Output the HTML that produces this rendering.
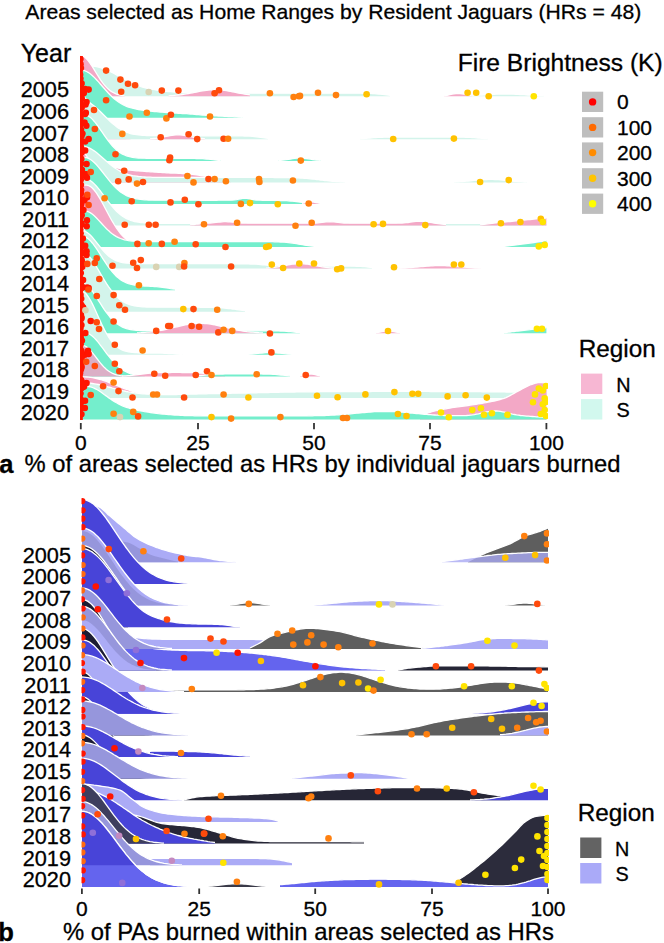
<!DOCTYPE html>
<html><head><meta charset="utf-8"><style>
html,body{margin:0;padding:0;background:#fff;}
svg{display:block;}
text{font-family:"Liberation Sans",sans-serif;fill:#000;}
</style></head><body>
<svg width="664" height="943" viewBox="0 0 664 943">
<rect width="664" height="943" fill="#fff"/>
<path d="M80.5,96.2 L80.5,66.4 L82.5,66.1 L84.5,65.9 L86.5,65.7 L88.5,65.7 L90.5,65.8 L92.5,66.0 L94.5,66.3 L96.5,66.6 L98.5,67.1 L100.5,67.7 L102.5,68.4 L104.5,69.1 L106.5,69.9 L108.5,70.8 L110.5,71.7 L112.5,72.7 L114.5,73.7 L116.5,74.8 L118.5,75.8 L120.5,76.9 L122.5,78.0 L124.5,79.1 L126.5,80.1 L128.5,81.2 L130.5,82.2 L132.5,83.1 L134.5,84.1 L136.5,84.9 L138.5,85.7 L140.5,86.5 L142.5,87.1 L144.5,87.7 L146.5,88.2 L148.5,88.7 L150.5,89.0 L152.5,89.4 L154.5,89.7 L156.5,90.0 L158.5,90.3 L160.5,90.5 L162.5,90.8 L164.5,91.0 L166.5,91.3 L168.5,91.5 L170.5,91.7 L172.5,91.9 L174.5,92.1 L176.5,92.2 L178.5,92.4 L180.5,92.5 L182.5,92.6 L184.5,92.7 L186.5,92.8 L188.5,92.8 L190.5,92.9 L192.5,92.9 L194.5,93.0 L196.5,93.0 L198.5,93.0 L200.5,93.1 L202.5,93.1 L204.5,93.1 L206.5,93.1 L208.5,93.1 L210.5,93.2 L212.5,93.2 L214.5,93.2 L216.5,93.2 L218.5,93.2 L220.5,93.2 L222.5,93.2 L224.5,93.2 L226.5,93.2 L228.5,93.2 L230.5,93.2 L232.5,93.2 L234.5,93.2 L236.5,93.2 L238.5,93.2 L240.5,93.2 L242.5,93.2 L244.5,93.2 L246.5,93.2 L248.5,93.2 L250.5,93.2 L252.5,93.2 L254.5,93.2 L256.5,93.2 L258.5,93.2 L260.5,93.2 L262.5,93.2 L264.5,93.2 L266.5,93.2 L268.5,93.2 L270.5,93.2 L272.5,93.2 L274.5,93.2 L276.5,93.2 L278.5,93.2 L280.5,93.2 L282.5,93.2 L284.5,93.2 L286.5,93.2 L288.5,93.2 L290.5,93.2 L292.5,93.2 L294.5,93.2 L296.5,93.2 L298.5,93.2 L300.5,93.2 L302.5,93.2 L304.5,93.2 L306.5,93.2 L308.5,93.2 L310.5,93.2 L312.5,93.2 L314.5,93.2 L316.5,93.2 L318.5,93.2 L320.5,93.2 L322.5,93.2 L324.5,93.2 L326.5,93.2 L328.5,93.2 L330.5,93.2 L332.5,93.2 L334.5,93.2 L336.5,93.2 L338.5,93.2 L340.5,93.2 L342.5,93.2 L344.5,93.2 L346.5,93.2 L348.5,93.2 L350.5,93.2 L352.5,93.2 L354.5,93.2 L356.5,93.2 L358.5,93.2 L360.5,93.2 L362.5,93.3 L364.5,93.3 L366.5,93.3 L368.5,93.4 L370.5,93.4 L372.5,93.5 L374.5,93.6 L376.5,93.8 L378.5,94.0 L380.5,94.2 L382.5,94.4 L384.5,94.6 L386.5,94.9 L388.5,95.1 L390.0,95.3 L390.0,96.2 Z" fill="#D3F4EB" fill-opacity="1.000"/>
<path d="M80.5,66.4 L82.5,66.1 L84.5,65.9 L86.5,65.7 L88.5,65.7 L90.5,65.8 L92.5,66.0 L94.5,66.3 L96.5,66.6 L98.5,67.1 L100.5,67.7 L102.5,68.4 L104.5,69.1 L106.5,69.9 L108.5,70.8 L110.5,71.7 L112.5,72.7 L114.5,73.7 L116.5,74.8 L118.5,75.8 L120.5,76.9 L122.5,78.0 L124.5,79.1 L126.5,80.1 L128.5,81.2 L130.5,82.2 L132.5,83.1 L134.5,84.1 L136.5,84.9 L138.5,85.7 L140.5,86.5 L142.5,87.1 L144.5,87.7 L146.5,88.2 L148.5,88.7 L150.5,89.0 L152.5,89.4 L154.5,89.7 L156.5,90.0 L158.5,90.3 L160.5,90.5 L162.5,90.8 L164.5,91.0 L166.5,91.3 L168.5,91.5 L170.5,91.7 L172.5,91.9 L174.5,92.1 L176.5,92.2 L178.5,92.4 L180.5,92.5 L182.5,92.6 L184.5,92.7 L186.5,92.8 L188.5,92.8 L190.5,92.9 L192.5,92.9 L194.5,93.0 L196.5,93.0 L198.5,93.0 L200.5,93.1 L202.5,93.1 L204.5,93.1 L206.5,93.1 L208.5,93.1 L210.5,93.2 L212.5,93.2 L214.5,93.2 L216.5,93.2 L218.5,93.2 L220.5,93.2 L222.5,93.2 L224.5,93.2 L226.5,93.2 L228.5,93.2 L230.5,93.2 L232.5,93.2 L234.5,93.2 L236.5,93.2 L238.5,93.2 L240.5,93.2 L242.5,93.2 L244.5,93.2 L246.5,93.2 L248.5,93.2 L250.5,93.2 L252.5,93.2 L254.5,93.2 L256.5,93.2 L258.5,93.2 L260.5,93.2 L262.5,93.2 L264.5,93.2 L266.5,93.2 L268.5,93.2 L270.5,93.2 L272.5,93.2 L274.5,93.2 L276.5,93.2 L278.5,93.2 L280.5,93.2 L282.5,93.2 L284.5,93.2 L286.5,93.2 L288.5,93.2 L290.5,93.2 L292.5,93.2 L294.5,93.2 L296.5,93.2 L298.5,93.2 L300.5,93.2 L302.5,93.2 L304.5,93.2 L306.5,93.2 L308.5,93.2 L310.5,93.2 L312.5,93.2 L314.5,93.2 L316.5,93.2 L318.5,93.2 L320.5,93.2 L322.5,93.2 L324.5,93.2 L326.5,93.2 L328.5,93.2 L330.5,93.2 L332.5,93.2 L334.5,93.2 L336.5,93.2 L338.5,93.2 L340.5,93.2 L342.5,93.2 L344.5,93.2 L346.5,93.2 L348.5,93.2 L350.5,93.2 L352.5,93.2 L354.5,93.2 L356.5,93.2 L358.5,93.2 L360.5,93.2 L362.5,93.3 L364.5,93.3 L366.5,93.3 L368.5,93.4 L370.5,93.4 L372.5,93.5 L374.5,93.6 L376.5,93.8 L378.5,94.0 L380.5,94.2 L382.5,94.4 L384.5,94.6 L386.5,94.9 L388.5,95.1 L390.0,95.3" fill="none" stroke="#fff" stroke-width="1.30"/>
<path d="M80.5,96.2 L80.5,55.6 L82.5,56.0 L84.5,57.0 L86.5,58.8 L88.5,61.1 L90.5,63.8 L92.5,66.9 L94.5,70.2 L96.5,73.5 L98.5,76.7 L100.5,79.8 L102.5,82.7 L104.5,85.2 L106.5,87.4 L108.5,89.3 L110.5,90.9 L112.5,92.2 L114.5,93.2 L116.5,94.1 L118.5,94.7 L120.5,95.1 L122.5,95.5 L124.5,95.7 L124.5,96.2 Z" fill="#F3A8C6" fill-opacity="1.000"/>
<path d="M168.5,96.2 L168.5,95.8 L170.5,95.7 L172.5,95.6 L174.5,95.4 L176.5,95.2 L178.5,95.0 L180.5,94.8 L182.5,94.5 L184.5,94.2 L186.5,93.9 L188.5,93.5 L190.5,93.2 L192.5,92.8 L194.5,92.4 L196.5,92.0 L198.5,91.6 L200.5,91.2 L202.5,90.9 L204.5,90.6 L206.5,90.3 L208.5,90.0 L210.5,89.9 L212.5,89.8 L214.5,89.7 L216.5,89.7 L218.5,89.8 L220.5,89.9 L222.5,90.2 L224.5,90.4 L226.5,90.7 L228.5,91.0 L230.5,91.4 L232.5,91.8 L234.5,92.2 L236.5,92.6 L238.5,93.0 L240.5,93.4 L242.5,93.7 L244.5,94.1 L246.5,94.4 L248.5,94.6 L250.0,94.8 L250.0,96.2 Z" fill="#F3A8C6" fill-opacity="1.000"/>
<path d="M80.5,55.6 L82.5,56.0 L84.5,57.0 L86.5,58.8 L88.5,61.1 L90.5,63.8 L92.5,66.9 L94.5,70.2 L96.5,73.5 L98.5,76.7 L100.5,79.8 L102.5,82.7 L104.5,85.2 L106.5,87.4 L108.5,89.3 L110.5,90.9 L112.5,92.2 L114.5,93.2 L116.5,94.1 L118.5,94.7 L120.5,95.1 L122.5,95.5 L124.5,95.7" fill="none" stroke="#fff" stroke-width="1.30"/>
<path d="M168.5,95.8 L170.5,95.7 L172.5,95.6 L174.5,95.4 L176.5,95.2 L178.5,95.0 L180.5,94.8 L182.5,94.5 L184.5,94.2 L186.5,93.9 L188.5,93.5 L190.5,93.2 L192.5,92.8 L194.5,92.4 L196.5,92.0 L198.5,91.6 L200.5,91.2 L202.5,90.9 L204.5,90.6 L206.5,90.3 L208.5,90.0 L210.5,89.9 L212.5,89.8 L214.5,89.7 L216.5,89.7 L218.5,89.8 L220.5,89.9 L222.5,90.2 L224.5,90.4 L226.5,90.7 L228.5,91.0 L230.5,91.4 L232.5,91.8 L234.5,92.2 L236.5,92.6 L238.5,93.0 L240.5,93.4 L242.5,93.7 L244.5,94.1 L246.5,94.4 L248.5,94.6 L250.0,94.8" fill="none" stroke="#fff" stroke-width="1.30"/>
<path d="M466.0,96.2 L466.0,95.8 L468.0,95.7 L470.0,95.6 L472.0,95.5 L474.0,95.4 L476.0,95.3 L478.0,95.2 L480.0,95.1 L482.0,95.0 L484.0,94.9 L486.0,94.7 L488.0,94.6 L490.0,94.5 L492.0,94.4 L494.0,94.3 L496.0,94.2 L498.0,94.1 L500.0,94.1 L502.0,94.0 L504.0,94.0 L506.0,94.0 L508.0,94.0 L510.0,94.1 L512.0,94.1 L514.0,94.2 L516.0,94.3 L518.0,94.4 L520.0,94.5 L522.0,94.6 L524.0,94.7 L526.0,94.9 L528.0,95.0 L530.0,95.1 L532.0,95.2 L534.0,95.3 L536.0,95.4 L538.0,95.5 L540.0,95.6 L542.0,95.7 L544.0,95.8 L544.0,96.2 Z" fill="#D3F4EB" fill-opacity="1.000"/>
<path d="M466.0,95.8 L468.0,95.7 L470.0,95.6 L472.0,95.5 L474.0,95.4 L476.0,95.3 L478.0,95.2 L480.0,95.1 L482.0,95.0 L484.0,94.9 L486.0,94.7 L488.0,94.6 L490.0,94.5 L492.0,94.4 L494.0,94.3 L496.0,94.2 L498.0,94.1 L500.0,94.1 L502.0,94.0 L504.0,94.0 L506.0,94.0 L508.0,94.0 L510.0,94.1 L512.0,94.1 L514.0,94.2 L516.0,94.3 L518.0,94.4 L520.0,94.5 L522.0,94.6 L524.0,94.7 L526.0,94.9 L528.0,95.0 L530.0,95.1 L532.0,95.2 L534.0,95.3 L536.0,95.4 L538.0,95.5 L540.0,95.6 L542.0,95.7 L544.0,95.8" fill="none" stroke="#fff" stroke-width="1.30"/>
<path d="M444.0,96.2 L444.0,95.8 L446.0,95.5 L448.0,95.2 L450.0,94.7 L452.0,94.2 L454.0,93.8 L456.0,93.5 L458.0,93.4 L460.0,93.5 L462.0,93.8 L464.0,94.2 L466.0,94.7 L468.0,95.2 L470.0,95.5 L472.0,95.8 L472.0,96.2 Z" fill="#F3A8C6" fill-opacity="1.000"/>
<path d="M444.0,95.8 L446.0,95.5 L448.0,95.2 L450.0,94.7 L452.0,94.2 L454.0,93.8 L456.0,93.5 L458.0,93.4 L460.0,93.5 L462.0,93.8 L464.0,94.2 L466.0,94.7 L468.0,95.2 L470.0,95.5 L472.0,95.8" fill="none" stroke="#fff" stroke-width="1.30"/>
<path d="M80.5,117.8 L80.5,82.8 L82.5,83.7 L84.5,86.4 L86.5,90.5 L88.5,95.3 L90.5,100.3 L92.5,104.9 L94.5,108.8 L96.5,111.8 L98.5,114.1 L100.5,115.6 L102.5,116.5 L104.5,117.1 L104.5,117.8 Z" fill="#F3A8C6" fill-opacity="1.000"/>
<path d="M80.5,82.8 L82.5,83.7 L84.5,86.4 L86.5,90.5 L88.5,95.3 L90.5,100.3 L92.5,104.9 L94.5,108.8 L96.5,111.8 L98.5,114.1 L100.5,115.6 L102.5,116.5 L104.5,117.1" fill="none" stroke="#fff" stroke-width="1.30"/>
<path d="M80.5,117.8 L80.5,70.2 L82.5,70.3 L84.5,70.7 L86.5,71.5 L88.5,72.6 L90.5,74.1 L92.5,75.7 L94.5,77.6 L96.5,79.7 L98.5,81.9 L100.5,84.2 L102.5,86.5 L104.5,88.8 L106.5,91.0 L108.5,93.2 L110.5,95.2 L112.5,97.2 L114.5,98.9 L116.5,100.6 L118.5,102.0 L120.5,103.3 L122.5,104.5 L124.5,105.5 L126.5,106.3 L128.5,107.1 L130.5,107.7 L132.5,108.2 L134.5,108.7 L136.5,109.2 L138.5,109.5 L140.5,109.9 L142.5,110.2 L144.5,110.5 L146.5,110.7 L148.5,110.9 L150.5,111.1 L152.5,111.3 L154.5,111.5 L156.5,111.6 L158.5,111.8 L160.5,112.0 L162.5,112.2 L164.5,112.3 L166.5,112.5 L168.5,112.6 L170.5,112.8 L172.5,112.9 L174.5,113.0 L176.5,113.1 L178.5,113.3 L180.5,113.4 L182.5,113.5 L184.5,113.6 L186.5,113.7 L188.5,113.8 L190.5,114.0 L192.5,114.1 L194.5,114.3 L196.5,114.5 L198.5,114.6 L200.5,114.8 L202.5,115.0 L204.5,115.2 L206.5,115.3 L208.5,115.5 L210.5,115.6 L212.5,115.7 L214.5,115.8 L216.5,115.9 L218.5,116.0 L220.5,116.1 L222.5,116.2 L224.5,116.3 L226.5,116.4 L228.5,116.5 L230.5,116.6 L232.5,116.7 L234.5,116.8 L236.5,116.9 L238.5,117.1 L240.5,117.2 L242.5,117.4 L242.5,117.8 Z" fill="#74EECC" fill-opacity="1.000"/>
<path d="M80.5,70.2 L82.5,70.3 L84.5,70.7 L86.5,71.5 L88.5,72.6 L90.5,74.1 L92.5,75.7 L94.5,77.6 L96.5,79.7 L98.5,81.9 L100.5,84.2 L102.5,86.5 L104.5,88.8 L106.5,91.0 L108.5,93.2 L110.5,95.2 L112.5,97.2 L114.5,98.9 L116.5,100.6 L118.5,102.0 L120.5,103.3 L122.5,104.5 L124.5,105.5 L126.5,106.3 L128.5,107.1 L130.5,107.7 L132.5,108.2 L134.5,108.7 L136.5,109.2 L138.5,109.5 L140.5,109.9 L142.5,110.2 L144.5,110.5 L146.5,110.7 L148.5,110.9 L150.5,111.1 L152.5,111.3 L154.5,111.5 L156.5,111.6 L158.5,111.8 L160.5,112.0 L162.5,112.2 L164.5,112.3 L166.5,112.5 L168.5,112.6 L170.5,112.8 L172.5,112.9 L174.5,113.0 L176.5,113.1 L178.5,113.3 L180.5,113.4 L182.5,113.5 L184.5,113.6 L186.5,113.7 L188.5,113.8 L190.5,114.0 L192.5,114.1 L194.5,114.3 L196.5,114.5 L198.5,114.6 L200.5,114.8 L202.5,115.0 L204.5,115.2 L206.5,115.3 L208.5,115.5 L210.5,115.6 L212.5,115.7 L214.5,115.8 L216.5,115.9 L218.5,116.0 L220.5,116.1 L222.5,116.2 L224.5,116.3 L226.5,116.4 L228.5,116.5 L230.5,116.6 L232.5,116.7 L234.5,116.8 L236.5,116.9 L238.5,117.1 L240.5,117.2 L242.5,117.4" fill="none" stroke="#fff" stroke-width="1.30"/>
<path d="M80.5,139.3 L80.5,96.3 L82.5,96.6 L84.5,97.6 L86.5,99.1 L88.5,101.2 L90.5,103.7 L92.5,106.5 L94.5,109.6 L96.5,112.8 L98.5,116.0 L100.5,119.1 L102.5,122.1 L104.5,124.8 L106.5,127.3 L108.5,129.5 L110.5,131.5 L112.5,133.1 L114.5,134.5 L116.5,135.6 L118.5,136.5 L120.5,137.2 L122.5,137.8 L124.5,138.2 L126.5,138.5 L128.5,138.7 L130.5,138.9 L130.5,139.3 Z" fill="#F3A8C6" fill-opacity="1.000"/>
<path d="M80.5,96.3 L82.5,96.6 L84.5,97.6 L86.5,99.1 L88.5,101.2 L90.5,103.7 L92.5,106.5 L94.5,109.6 L96.5,112.8 L98.5,116.0 L100.5,119.1 L102.5,122.1 L104.5,124.8 L106.5,127.3 L108.5,129.5 L110.5,131.5 L112.5,133.1 L114.5,134.5 L116.5,135.6 L118.5,136.5 L120.5,137.2 L122.5,137.8 L124.5,138.2 L126.5,138.5 L128.5,138.7 L130.5,138.9" fill="none" stroke="#fff" stroke-width="1.30"/>
<path d="M80.5,139.3 L80.5,100.8 L82.5,100.6 L84.5,100.8 L86.5,101.4 L88.5,102.2 L90.5,103.4 L92.5,104.8 L94.5,106.3 L96.5,108.1 L98.5,109.9 L100.5,111.8 L102.5,113.8 L104.5,115.8 L106.5,117.8 L108.5,119.8 L110.5,121.7 L112.5,123.5 L114.5,125.1 L116.5,126.7 L118.5,128.1 L120.5,129.3 L122.5,130.4 L124.5,131.4 L126.5,132.2 L128.5,132.9 L130.5,133.5 L132.5,134.0 L134.5,134.4 L136.5,134.7 L138.5,134.9 L140.5,135.1 L142.5,135.3 L144.5,135.4 L146.5,135.5 L148.5,135.6 L150.5,135.7 L152.5,135.7 L154.5,135.7 L156.5,135.7 L158.5,135.8 L160.5,135.8 L162.5,135.8 L164.5,135.8 L166.5,135.8 L168.5,135.8 L170.5,135.8 L172.5,135.8 L174.5,135.8 L176.5,135.8 L178.5,135.8 L180.5,135.8 L182.5,135.8 L184.5,135.8 L186.5,135.8 L188.5,135.8 L190.5,135.8 L192.5,135.8 L194.5,135.8 L196.5,135.8 L198.5,135.8 L200.5,135.8 L202.5,135.8 L204.5,135.8 L206.5,135.8 L208.5,135.8 L210.5,135.8 L212.5,135.8 L214.5,135.8 L216.5,135.8 L218.5,135.8 L220.5,135.8 L222.5,135.8 L224.5,135.8 L226.5,135.8 L228.5,135.8 L230.5,135.8 L232.5,135.8 L234.5,135.8 L236.5,135.8 L238.5,135.9 L240.5,135.9 L242.5,135.9 L244.5,136.0 L246.5,136.0 L248.5,136.1 L250.5,136.2 L252.5,136.4 L254.5,136.6 L256.5,136.8 L258.5,137.1 L260.5,137.3 L262.5,137.6 L264.5,137.9 L266.5,138.2 L268.0,138.4 L268.0,139.3 Z" fill="#D3F4EB" fill-opacity="1.000"/>
<path d="M80.5,100.8 L82.5,100.6 L84.5,100.8 L86.5,101.4 L88.5,102.2 L90.5,103.4 L92.5,104.8 L94.5,106.3 L96.5,108.1 L98.5,109.9 L100.5,111.8 L102.5,113.8 L104.5,115.8 L106.5,117.8 L108.5,119.8 L110.5,121.7 L112.5,123.5 L114.5,125.1 L116.5,126.7 L118.5,128.1 L120.5,129.3 L122.5,130.4 L124.5,131.4 L126.5,132.2 L128.5,132.9 L130.5,133.5 L132.5,134.0 L134.5,134.4 L136.5,134.7 L138.5,134.9 L140.5,135.1 L142.5,135.3 L144.5,135.4 L146.5,135.5 L148.5,135.6 L150.5,135.7 L152.5,135.7 L154.5,135.7 L156.5,135.7 L158.5,135.8 L160.5,135.8 L162.5,135.8 L164.5,135.8 L166.5,135.8 L168.5,135.8 L170.5,135.8 L172.5,135.8 L174.5,135.8 L176.5,135.8 L178.5,135.8 L180.5,135.8 L182.5,135.8 L184.5,135.8 L186.5,135.8 L188.5,135.8 L190.5,135.8 L192.5,135.8 L194.5,135.8 L196.5,135.8 L198.5,135.8 L200.5,135.8 L202.5,135.8 L204.5,135.8 L206.5,135.8 L208.5,135.8 L210.5,135.8 L212.5,135.8 L214.5,135.8 L216.5,135.8 L218.5,135.8 L220.5,135.8 L222.5,135.8 L224.5,135.8 L226.5,135.8 L228.5,135.8 L230.5,135.8 L232.5,135.8 L234.5,135.8 L236.5,135.8 L238.5,135.9 L240.5,135.9 L242.5,135.9 L244.5,136.0 L246.5,136.0 L248.5,136.1 L250.5,136.2 L252.5,136.4 L254.5,136.6 L256.5,136.8 L258.5,137.1 L260.5,137.3 L262.5,137.6 L264.5,137.9 L266.5,138.2 L268.0,138.4" fill="none" stroke="#fff" stroke-width="1.30"/>
<path d="M150.0,139.3 L150.0,138.9 L152.0,138.7 L154.0,138.5 L156.0,138.3 L158.0,138.0 L160.0,137.6 L162.0,137.3 L164.0,136.8 L166.0,136.4 L168.0,136.0 L170.0,135.6 L172.0,135.3 L174.0,135.0 L176.0,134.9 L178.0,134.8 L180.0,134.9 L182.0,135.0 L184.0,135.3 L186.0,135.6 L188.0,136.0 L190.0,136.4 L192.0,136.8 L194.0,137.3 L196.0,137.6 L198.0,138.0 L200.0,138.3 L202.0,138.5 L204.0,138.7 L205.0,138.8 L205.0,139.3 Z" fill="#F3A8C6" fill-opacity="1.000"/>
<path d="M150.0,138.9 L152.0,138.7 L154.0,138.5 L156.0,138.3 L158.0,138.0 L160.0,137.6 L162.0,137.3 L164.0,136.8 L166.0,136.4 L168.0,136.0 L170.0,135.6 L172.0,135.3 L174.0,135.0 L176.0,134.9 L178.0,134.8 L180.0,134.9 L182.0,135.0 L184.0,135.3 L186.0,135.6 L188.0,136.0 L190.0,136.4 L192.0,136.8 L194.0,137.3 L196.0,137.6 L198.0,138.0 L200.0,138.3 L202.0,138.5 L204.0,138.7 L205.0,138.8" fill="none" stroke="#fff" stroke-width="1.30"/>
<path d="M360.0,139.3 L360.0,138.8 L362.0,138.7 L364.0,138.6 L366.0,138.4 L368.0,138.2 L370.0,138.0 L372.0,137.8 L374.0,137.7 L376.0,137.6 L378.0,137.4 L380.0,137.4 L382.0,137.3 L384.0,137.2 L386.0,137.2 L388.0,137.2 L390.0,137.2 L392.0,137.1 L394.0,137.1 L396.0,137.1 L398.0,137.1 L400.0,137.1 L402.0,137.1 L404.0,137.1 L406.0,137.1 L408.0,137.1 L410.0,137.1 L412.0,137.1 L414.0,137.1 L416.0,137.1 L418.0,137.1 L420.0,137.1 L422.0,137.1 L424.0,137.1 L426.0,137.1 L428.0,137.1 L430.0,137.1 L432.0,137.1 L434.0,137.1 L436.0,137.1 L438.0,137.1 L440.0,137.1 L442.0,137.1 L444.0,137.1 L446.0,137.1 L448.0,137.1 L450.0,137.1 L452.0,137.1 L454.0,137.1 L456.0,137.1 L458.0,137.2 L460.0,137.2 L462.0,137.2 L464.0,137.2 L466.0,137.3 L468.0,137.4 L470.0,137.4 L472.0,137.6 L474.0,137.7 L476.0,137.8 L478.0,138.0 L480.0,138.2 L482.0,138.4 L484.0,138.6 L486.0,138.7 L488.0,138.8 L488.0,139.3 Z" fill="#D3F4EB" fill-opacity="1.000"/>
<path d="M360.0,138.8 L362.0,138.7 L364.0,138.6 L366.0,138.4 L368.0,138.2 L370.0,138.0 L372.0,137.8 L374.0,137.7 L376.0,137.6 L378.0,137.4 L380.0,137.4 L382.0,137.3 L384.0,137.2 L386.0,137.2 L388.0,137.2 L390.0,137.2 L392.0,137.1 L394.0,137.1 L396.0,137.1 L398.0,137.1 L400.0,137.1 L402.0,137.1 L404.0,137.1 L406.0,137.1 L408.0,137.1 L410.0,137.1 L412.0,137.1 L414.0,137.1 L416.0,137.1 L418.0,137.1 L420.0,137.1 L422.0,137.1 L424.0,137.1 L426.0,137.1 L428.0,137.1 L430.0,137.1 L432.0,137.1 L434.0,137.1 L436.0,137.1 L438.0,137.1 L440.0,137.1 L442.0,137.1 L444.0,137.1 L446.0,137.1 L448.0,137.1 L450.0,137.1 L452.0,137.1 L454.0,137.1 L456.0,137.1 L458.0,137.2 L460.0,137.2 L462.0,137.2 L464.0,137.2 L466.0,137.3 L468.0,137.4 L470.0,137.4 L472.0,137.6 L474.0,137.7 L476.0,137.8 L478.0,138.0 L480.0,138.2 L482.0,138.4 L484.0,138.6 L486.0,138.7 L488.0,138.8" fill="none" stroke="#fff" stroke-width="1.30"/>
<path d="M80.5,160.9 L80.5,115.7 L82.5,114.9 L84.5,114.8 L86.5,115.2 L88.5,116.1 L90.5,117.5 L92.5,119.4 L94.5,121.7 L96.5,124.2 L98.5,126.9 L100.5,129.8 L102.5,132.7 L104.5,135.6 L106.5,138.4 L108.5,141.1 L110.5,143.7 L112.5,146.0 L114.5,148.1 L116.5,150.0 L118.5,151.6 L120.5,152.9 L122.5,154.1 L124.5,155.0 L126.5,155.8 L128.5,156.4 L130.5,156.9 L132.5,157.3 L134.5,157.6 L136.5,157.8 L138.5,158.0 L140.5,158.1 L142.5,158.2 L144.5,158.2 L146.5,158.3 L148.5,158.3 L150.5,158.3 L152.5,158.3 L154.5,158.3 L156.5,158.3 L158.5,158.3 L160.5,158.3 L162.5,158.3 L164.5,158.3 L166.5,158.3 L168.5,158.3 L170.5,158.4 L172.5,158.4 L174.5,158.4 L176.5,158.4 L178.5,158.4 L180.5,158.4 L182.5,158.4 L184.5,158.4 L186.5,158.4 L188.5,158.4 L190.5,158.4 L192.5,158.4 L194.5,158.4 L196.5,158.5 L198.5,158.5 L200.5,158.6 L202.5,158.7 L204.5,158.8 L206.5,159.0 L208.5,159.2 L210.5,159.4 L212.5,159.7 L214.5,159.9 L216.5,160.1 L218.5,160.3 L220.5,160.5 L220.5,160.9 Z" fill="#74EECC" fill-opacity="1.000"/>
<path d="M278.5,160.9 L278.5,160.5 L280.5,160.3 L282.5,160.1 L284.5,159.9 L286.5,159.6 L288.5,159.3 L290.5,159.0 L292.5,158.7 L294.5,158.4 L296.5,158.2 L298.5,158.1 L300.5,158.1 L302.5,158.1 L304.5,158.3 L306.5,158.5 L308.5,158.8 L310.5,159.1 L312.5,159.5 L314.5,159.8 L316.5,160.0 L318.5,160.2 L320.5,160.4 L320.5,160.9 Z" fill="#74EECC" fill-opacity="1.000"/>
<path d="M80.5,115.7 L82.5,114.9 L84.5,114.8 L86.5,115.2 L88.5,116.1 L90.5,117.5 L92.5,119.4 L94.5,121.7 L96.5,124.2 L98.5,126.9 L100.5,129.8 L102.5,132.7 L104.5,135.6 L106.5,138.4 L108.5,141.1 L110.5,143.7 L112.5,146.0 L114.5,148.1 L116.5,150.0 L118.5,151.6 L120.5,152.9 L122.5,154.1 L124.5,155.0 L126.5,155.8 L128.5,156.4 L130.5,156.9 L132.5,157.3 L134.5,157.6 L136.5,157.8 L138.5,158.0 L140.5,158.1 L142.5,158.2 L144.5,158.2 L146.5,158.3 L148.5,158.3 L150.5,158.3 L152.5,158.3 L154.5,158.3 L156.5,158.3 L158.5,158.3 L160.5,158.3 L162.5,158.3 L164.5,158.3 L166.5,158.3 L168.5,158.3 L170.5,158.4 L172.5,158.4 L174.5,158.4 L176.5,158.4 L178.5,158.4 L180.5,158.4 L182.5,158.4 L184.5,158.4 L186.5,158.4 L188.5,158.4 L190.5,158.4 L192.5,158.4 L194.5,158.4 L196.5,158.5 L198.5,158.5 L200.5,158.6 L202.5,158.7 L204.5,158.8 L206.5,159.0 L208.5,159.2 L210.5,159.4 L212.5,159.7 L214.5,159.9 L216.5,160.1 L218.5,160.3 L220.5,160.5" fill="none" stroke="#fff" stroke-width="1.30"/>
<path d="M278.5,160.5 L280.5,160.3 L282.5,160.1 L284.5,159.9 L286.5,159.6 L288.5,159.3 L290.5,159.0 L292.5,158.7 L294.5,158.4 L296.5,158.2 L298.5,158.1 L300.5,158.1 L302.5,158.1 L304.5,158.3 L306.5,158.5 L308.5,158.8 L310.5,159.1 L312.5,159.5 L314.5,159.8 L316.5,160.0 L318.5,160.2 L320.5,160.4" fill="none" stroke="#fff" stroke-width="1.30"/>
<path d="M82.5,182.4 L82.5,162.5 L84.5,162.7 L86.5,162.9 L88.5,163.2 L90.5,163.4 L92.5,163.7 L94.5,164.0 L96.5,164.3 L98.5,164.6 L100.5,164.9 L102.5,165.2 L104.5,165.5 L106.5,165.8 L108.5,166.2 L110.5,166.5 L112.5,166.9 L114.5,167.3 L116.5,167.7 L118.5,168.2 L120.5,168.6 L122.5,169.0 L124.5,169.4 L126.5,169.7 L128.5,170.0 L130.5,170.2 L132.5,170.4 L134.5,170.6 L136.5,170.8 L138.5,170.9 L140.5,171.1 L142.5,171.2 L144.5,171.4 L146.5,171.5 L148.5,171.7 L150.5,171.8 L152.5,171.9 L154.5,172.1 L156.5,172.2 L158.5,172.3 L160.5,172.4 L162.5,172.6 L164.5,172.7 L166.5,172.8 L168.5,172.9 L170.5,173.0 L172.5,173.0 L174.5,173.1 L176.5,173.2 L178.5,173.3 L180.5,173.4 L182.5,173.5 L184.5,173.7 L186.5,173.8 L188.5,174.0 L190.5,174.1 L192.5,174.4 L194.5,174.6 L196.5,174.9 L198.5,175.2 L200.5,175.5 L202.5,175.9 L204.5,176.2 L206.5,176.6 L208.5,176.9 L210.5,177.3 L212.5,177.7 L214.5,178.1 L216.5,178.5 L218.5,178.9 L220.5,179.3 L222.5,179.8 L224.5,180.3 L226.5,180.8 L228.5,181.3 L230.5,181.9 L230.5,182.4 Z" fill="#F3A8C6" fill-opacity="1.000"/>
<path d="M82.5,162.5 L84.5,162.7 L86.5,162.9 L88.5,163.2 L90.5,163.4 L92.5,163.7 L94.5,164.0 L96.5,164.3 L98.5,164.6 L100.5,164.9 L102.5,165.2 L104.5,165.5 L106.5,165.8 L108.5,166.2 L110.5,166.5 L112.5,166.9 L114.5,167.3 L116.5,167.7 L118.5,168.2 L120.5,168.6 L122.5,169.0 L124.5,169.4 L126.5,169.7 L128.5,170.0 L130.5,170.2 L132.5,170.4 L134.5,170.6 L136.5,170.8 L138.5,170.9 L140.5,171.1 L142.5,171.2 L144.5,171.4 L146.5,171.5 L148.5,171.7 L150.5,171.8 L152.5,171.9 L154.5,172.1 L156.5,172.2 L158.5,172.3 L160.5,172.4 L162.5,172.6 L164.5,172.7 L166.5,172.8 L168.5,172.9 L170.5,173.0 L172.5,173.0 L174.5,173.1 L176.5,173.2 L178.5,173.3 L180.5,173.4 L182.5,173.5 L184.5,173.7 L186.5,173.8 L188.5,174.0 L190.5,174.1 L192.5,174.4 L194.5,174.6 L196.5,174.9 L198.5,175.2 L200.5,175.5 L202.5,175.9 L204.5,176.2 L206.5,176.6 L208.5,176.9 L210.5,177.3 L212.5,177.7 L214.5,178.1 L216.5,178.5 L218.5,178.9 L220.5,179.3 L222.5,179.8 L224.5,180.3 L226.5,180.8 L228.5,181.3 L230.5,181.9" fill="none" stroke="#fff" stroke-width="1.30"/>
<path d="M80.5,182.4 L80.5,146.5 L82.5,146.4 L84.5,146.5 L86.5,146.9 L88.5,147.6 L90.5,148.6 L92.5,149.7 L94.5,151.1 L96.5,152.6 L98.5,154.2 L100.5,155.9 L102.5,157.7 L104.5,159.5 L106.5,161.3 L108.5,163.0 L110.5,164.7 L112.5,166.2 L114.5,167.7 L116.5,169.0 L118.5,170.2 L120.5,171.3 L122.5,172.3 L124.5,173.2 L126.5,173.9 L128.5,174.6 L130.5,175.1 L132.5,175.6 L134.5,175.9 L136.5,176.2 L138.5,176.5 L140.5,176.7 L142.5,176.9 L144.5,177.0 L146.5,177.1 L148.5,177.2 L150.5,177.2 L152.5,177.3 L154.5,177.3 L156.5,177.3 L158.5,177.4 L160.5,177.4 L162.5,177.4 L164.5,177.4 L166.5,177.4 L168.5,177.4 L170.5,177.4 L172.5,177.4 L174.5,177.4 L176.5,177.4 L178.5,177.4 L180.5,177.4 L182.5,177.4 L184.5,177.4 L186.5,177.4 L188.5,177.4 L190.5,177.4 L192.5,177.4 L194.5,177.4 L196.5,177.4 L198.5,177.4 L200.5,177.4 L202.5,177.4 L204.5,177.4 L206.5,177.4 L208.5,177.4 L210.5,177.4 L212.5,177.4 L214.5,177.4 L216.5,177.4 L218.5,177.4 L220.5,177.4 L222.5,177.4 L224.5,177.4 L226.5,177.4 L228.5,177.4 L230.5,177.4 L232.5,177.4 L234.5,177.4 L236.5,177.4 L238.5,177.4 L240.5,177.4 L242.5,177.4 L244.5,177.4 L246.5,177.4 L248.5,177.4 L250.5,177.4 L252.5,177.4 L254.5,177.4 L256.5,177.4 L258.5,177.4 L260.5,177.4 L262.5,177.4 L264.5,177.4 L266.5,177.4 L268.5,177.4 L270.5,177.4 L272.5,177.4 L274.5,177.5 L276.5,177.5 L278.5,177.5 L280.5,177.5 L282.5,177.5 L284.5,177.5 L286.5,177.6 L288.5,177.6 L290.5,177.6 L292.5,177.7 L294.5,177.8 L296.5,177.8 L298.5,177.9 L300.5,178.0 L302.5,178.1 L304.5,178.3 L306.5,178.4 L308.5,178.6 L310.5,178.8 L312.5,179.0 L314.5,179.2 L316.5,179.5 L318.5,179.7 L320.5,180.0 L322.5,180.2 L324.5,180.5 L326.5,180.7 L328.5,180.9 L330.5,181.1 L332.5,181.3 L334.5,181.4 L336.5,181.6 L338.5,181.7 L340.5,181.8 L342.5,181.9 L344.5,182.0 L344.5,182.4 Z" fill="#D3F4EB" fill-opacity="1.000"/>
<path d="M454.5,182.4 L454.5,182.0 L456.5,181.9 L458.5,181.8 L460.5,181.7 L462.5,181.5 L464.5,181.3 L466.5,181.2 L468.5,181.0 L470.5,180.8 L472.5,180.6 L474.5,180.4 L476.5,180.2 L478.5,180.0 L480.5,179.8 L482.5,179.7 L484.5,179.5 L486.5,179.5 L488.5,179.4 L490.5,179.4 L492.5,179.4 L494.5,179.5 L496.5,179.6 L498.5,179.7 L500.5,179.9 L502.5,180.1 L504.5,180.3 L506.5,180.5 L508.5,180.7 L510.5,180.9 L512.5,181.1 L514.5,181.3 L516.5,181.4 L518.5,181.6 L520.5,181.7 L522.5,181.8 L524.5,182.0 L526.5,182.0 L526.5,182.4 Z" fill="#D3F4EB" fill-opacity="1.000"/>
<path d="M80.5,146.5 L82.5,146.4 L84.5,146.5 L86.5,146.9 L88.5,147.6 L90.5,148.6 L92.5,149.7 L94.5,151.1 L96.5,152.6 L98.5,154.2 L100.5,155.9 L102.5,157.7 L104.5,159.5 L106.5,161.3 L108.5,163.0 L110.5,164.7 L112.5,166.2 L114.5,167.7 L116.5,169.0 L118.5,170.2 L120.5,171.3 L122.5,172.3 L124.5,173.2 L126.5,173.9 L128.5,174.6 L130.5,175.1 L132.5,175.6 L134.5,175.9 L136.5,176.2 L138.5,176.5 L140.5,176.7 L142.5,176.9 L144.5,177.0 L146.5,177.1 L148.5,177.2 L150.5,177.2 L152.5,177.3 L154.5,177.3 L156.5,177.3 L158.5,177.4 L160.5,177.4 L162.5,177.4 L164.5,177.4 L166.5,177.4 L168.5,177.4 L170.5,177.4 L172.5,177.4 L174.5,177.4 L176.5,177.4 L178.5,177.4 L180.5,177.4 L182.5,177.4 L184.5,177.4 L186.5,177.4 L188.5,177.4 L190.5,177.4 L192.5,177.4 L194.5,177.4 L196.5,177.4 L198.5,177.4 L200.5,177.4 L202.5,177.4 L204.5,177.4 L206.5,177.4 L208.5,177.4 L210.5,177.4 L212.5,177.4 L214.5,177.4 L216.5,177.4 L218.5,177.4 L220.5,177.4 L222.5,177.4 L224.5,177.4 L226.5,177.4 L228.5,177.4 L230.5,177.4 L232.5,177.4 L234.5,177.4 L236.5,177.4 L238.5,177.4 L240.5,177.4 L242.5,177.4 L244.5,177.4 L246.5,177.4 L248.5,177.4 L250.5,177.4 L252.5,177.4 L254.5,177.4 L256.5,177.4 L258.5,177.4 L260.5,177.4 L262.5,177.4 L264.5,177.4 L266.5,177.4 L268.5,177.4 L270.5,177.4 L272.5,177.4 L274.5,177.5 L276.5,177.5 L278.5,177.5 L280.5,177.5 L282.5,177.5 L284.5,177.5 L286.5,177.6 L288.5,177.6 L290.5,177.6 L292.5,177.7 L294.5,177.8 L296.5,177.8 L298.5,177.9 L300.5,178.0 L302.5,178.1 L304.5,178.3 L306.5,178.4 L308.5,178.6 L310.5,178.8 L312.5,179.0 L314.5,179.2 L316.5,179.5 L318.5,179.7 L320.5,180.0 L322.5,180.2 L324.5,180.5 L326.5,180.7 L328.5,180.9 L330.5,181.1 L332.5,181.3 L334.5,181.4 L336.5,181.6 L338.5,181.7 L340.5,181.8 L342.5,181.9 L344.5,182.0" fill="none" stroke="#fff" stroke-width="1.30"/>
<path d="M454.5,182.0 L456.5,181.9 L458.5,181.8 L460.5,181.7 L462.5,181.5 L464.5,181.3 L466.5,181.2 L468.5,181.0 L470.5,180.8 L472.5,180.6 L474.5,180.4 L476.5,180.2 L478.5,180.0 L480.5,179.8 L482.5,179.7 L484.5,179.5 L486.5,179.5 L488.5,179.4 L490.5,179.4 L492.5,179.4 L494.5,179.5 L496.5,179.6 L498.5,179.7 L500.5,179.9 L502.5,180.1 L504.5,180.3 L506.5,180.5 L508.5,180.7 L510.5,180.9 L512.5,181.1 L514.5,181.3 L516.5,181.4 L518.5,181.6 L520.5,181.7 L522.5,181.8 L524.5,182.0 L526.5,182.0" fill="none" stroke="#fff" stroke-width="1.30"/>
<path d="M80.5,182.4 L80.5,150.4 L82.5,151.0 L84.5,152.9 L86.5,155.8 L88.5,159.3 L90.5,163.2 L92.5,167.1 L94.5,170.6 L96.5,173.7 L98.5,176.3 L100.5,178.2 L102.5,179.7 L104.5,180.7 L106.5,181.4 L108.5,181.8 L108.5,182.4 Z" fill="#F3A8C6" fill-opacity="1.000"/>
<path d="M80.5,150.4 L82.5,151.0 L84.5,152.9 L86.5,155.8 L88.5,159.3 L90.5,163.2 L92.5,167.1 L94.5,170.6 L96.5,173.7 L98.5,176.3 L100.5,178.2 L102.5,179.7 L104.5,180.7 L106.5,181.4 L108.5,181.8" fill="none" stroke="#fff" stroke-width="1.30"/>
<path d="M80.5,203.9 L80.5,158.1 L82.5,157.5 L84.5,157.4 L86.5,157.7 L88.5,158.4 L90.5,159.5 L92.5,160.9 L94.5,162.7 L96.5,164.8 L98.5,167.1 L100.5,169.5 L102.5,172.0 L104.5,174.6 L106.5,177.2 L108.5,179.7 L110.5,182.1 L112.5,184.4 L114.5,186.6 L116.5,188.5 L118.5,190.3 L120.5,191.9 L122.5,193.3 L124.5,194.5 L126.5,195.6 L128.5,196.5 L130.5,197.2 L132.5,197.9 L134.5,198.4 L136.5,198.8 L138.5,199.1 L140.5,199.4 L142.5,199.6 L144.5,199.8 L146.5,199.9 L148.5,200.0 L150.5,200.1 L152.5,200.1 L154.5,200.2 L156.5,200.2 L158.5,200.2 L160.5,200.2 L162.5,200.2 L164.5,200.2 L166.5,200.2 L168.5,200.2 L170.5,200.2 L172.5,200.2 L174.5,200.2 L176.5,200.2 L178.5,200.2 L180.5,200.2 L182.5,200.2 L184.5,200.2 L186.5,200.2 L188.5,200.2 L190.5,200.2 L192.5,200.2 L194.5,200.2 L196.5,200.2 L198.5,200.2 L200.5,200.3 L202.5,200.3 L204.5,200.3 L206.5,200.3 L208.5,200.3 L210.5,200.3 L212.5,200.3 L214.5,200.3 L216.5,200.3 L218.5,200.2 L220.5,200.2 L222.5,200.2 L224.5,200.2 L226.5,200.2 L228.5,200.2 L230.5,200.2 L232.5,200.1 L234.5,199.9 L236.5,199.6 L238.5,199.2 L240.5,198.8 L242.5,198.4 L244.5,198.3 L246.5,198.3 L248.5,198.6 L250.5,199.0 L252.5,199.4 L254.5,199.8 L256.5,200.0 L258.5,200.1 L260.5,200.2 L262.5,200.3 L264.5,200.3 L266.5,200.3 L268.5,200.3 L270.5,200.3 L272.5,200.3 L274.5,200.3 L276.5,200.4 L278.5,200.4 L280.5,200.5 L282.5,200.5 L284.5,200.6 L286.5,200.7 L288.5,200.8 L290.5,201.0 L292.5,201.2 L294.5,201.4 L296.5,201.6 L298.5,201.9 L300.5,202.2 L302.5,202.4 L304.5,202.7 L306.5,202.9 L308.5,203.1 L310.0,203.2 L310.0,203.9 Z" fill="#74EECC" fill-opacity="1.000"/>
<path d="M80.5,158.1 L82.5,157.5 L84.5,157.4 L86.5,157.7 L88.5,158.4 L90.5,159.5 L92.5,160.9 L94.5,162.7 L96.5,164.8 L98.5,167.1 L100.5,169.5 L102.5,172.0 L104.5,174.6 L106.5,177.2 L108.5,179.7 L110.5,182.1 L112.5,184.4 L114.5,186.6 L116.5,188.5 L118.5,190.3 L120.5,191.9 L122.5,193.3 L124.5,194.5 L126.5,195.6 L128.5,196.5 L130.5,197.2 L132.5,197.9 L134.5,198.4 L136.5,198.8 L138.5,199.1 L140.5,199.4 L142.5,199.6 L144.5,199.8 L146.5,199.9 L148.5,200.0 L150.5,200.1 L152.5,200.1 L154.5,200.2 L156.5,200.2 L158.5,200.2 L160.5,200.2 L162.5,200.2 L164.5,200.2 L166.5,200.2 L168.5,200.2 L170.5,200.2 L172.5,200.2 L174.5,200.2 L176.5,200.2 L178.5,200.2 L180.5,200.2 L182.5,200.2 L184.5,200.2 L186.5,200.2 L188.5,200.2 L190.5,200.2 L192.5,200.2 L194.5,200.2 L196.5,200.2 L198.5,200.2 L200.5,200.3 L202.5,200.3 L204.5,200.3 L206.5,200.3 L208.5,200.3 L210.5,200.3 L212.5,200.3 L214.5,200.3 L216.5,200.3 L218.5,200.2 L220.5,200.2 L222.5,200.2 L224.5,200.2 L226.5,200.2 L228.5,200.2 L230.5,200.2 L232.5,200.1 L234.5,199.9 L236.5,199.6 L238.5,199.2 L240.5,198.8 L242.5,198.4 L244.5,198.3 L246.5,198.3 L248.5,198.6 L250.5,199.0 L252.5,199.4 L254.5,199.8 L256.5,200.0 L258.5,200.1 L260.5,200.2 L262.5,200.3 L264.5,200.3 L266.5,200.3 L268.5,200.3 L270.5,200.3 L272.5,200.3 L274.5,200.3 L276.5,200.4 L278.5,200.4 L280.5,200.5 L282.5,200.5 L284.5,200.6 L286.5,200.7 L288.5,200.8 L290.5,201.0 L292.5,201.2 L294.5,201.4 L296.5,201.6 L298.5,201.9 L300.5,202.2 L302.5,202.4 L304.5,202.7 L306.5,202.9 L308.5,203.1 L310.0,203.2" fill="none" stroke="#fff" stroke-width="1.30"/>
<path d="M302.0,203.9 L302.0,203.3 L304.0,202.9 L306.0,202.5 L308.0,202.0 L310.0,201.8 L312.0,201.8 L314.0,202.0 L316.0,202.5 L318.0,202.9 L320.0,203.3 L320.0,203.9 Z" fill="#F3A8C6" fill-opacity="1.000"/>
<path d="M302.0,203.3 L304.0,202.9 L306.0,202.5 L308.0,202.0 L310.0,201.8 L312.0,201.8 L314.0,202.0 L316.0,202.5 L318.0,202.9 L320.0,203.3" fill="none" stroke="#fff" stroke-width="1.30"/>
<path d="M80.5,225.5 L80.5,179.2 L82.5,178.6 L84.5,178.4 L86.5,178.7 L88.5,179.5 L90.5,180.7 L92.5,182.2 L94.5,184.1 L96.5,186.3 L98.5,188.6 L100.5,191.1 L102.5,193.8 L104.5,196.4 L106.5,199.1 L108.5,201.8 L110.5,204.3 L112.5,206.8 L114.5,209.1 L116.5,211.2 L118.5,213.1 L120.5,214.7 L122.5,216.2 L124.5,217.5 L126.5,218.6 L128.5,219.5 L130.5,220.3 L132.5,221.0 L134.5,221.5 L136.5,221.9 L138.5,222.2 L140.5,222.5 L142.5,222.7 L144.5,222.9 L146.5,223.0 L148.5,223.1 L150.5,223.1 L152.5,223.2 L154.5,223.2 L156.5,223.2 L158.5,223.3 L160.5,223.3 L162.5,223.3 L164.5,223.3 L166.5,223.3 L168.5,223.3 L170.5,223.3 L172.5,223.3 L174.5,223.3 L176.5,223.3 L178.5,223.3 L180.5,223.3 L182.5,223.3 L184.5,223.3 L186.5,223.3 L188.5,223.3 L190.5,223.3 L192.5,223.3 L194.5,223.3 L196.5,223.3 L198.5,223.3 L200.5,223.3 L202.5,223.3 L204.5,223.3 L206.5,223.3 L208.5,223.3 L210.5,223.3 L212.5,223.3 L214.5,223.3 L216.5,223.3 L218.5,223.3 L220.5,223.3 L222.5,223.3 L224.5,223.3 L226.5,223.3 L228.5,223.3 L230.5,223.3 L232.5,223.3 L234.5,223.3 L236.5,223.3 L238.5,223.3 L240.5,223.3 L242.5,223.3 L244.5,223.3 L246.5,223.3 L248.5,223.3 L250.5,223.3 L252.5,223.3 L254.5,223.3 L256.5,223.3 L258.5,223.3 L260.5,223.3 L262.5,223.3 L264.5,223.3 L266.5,223.3 L268.5,223.3 L270.5,223.3 L272.5,223.3 L274.5,223.3 L276.5,223.3 L278.5,223.3 L280.5,223.3 L282.5,223.3 L284.5,223.3 L286.5,223.3 L288.5,223.3 L290.5,223.3 L292.5,223.3 L294.5,223.3 L296.5,223.3 L298.5,223.3 L300.5,223.3 L302.5,223.3 L304.5,223.3 L306.5,223.3 L308.5,223.3 L310.5,223.3 L312.5,223.3 L314.5,223.3 L316.5,223.3 L318.5,223.3 L320.5,223.3 L322.5,223.3 L324.5,223.3 L326.5,223.3 L328.5,223.3 L330.5,223.3 L332.5,223.3 L334.5,223.3 L336.5,223.3 L338.5,223.3 L340.5,223.3 L342.5,223.3 L344.5,223.3 L346.5,223.3 L348.5,223.3 L350.5,223.3 L352.5,223.3 L354.5,223.3 L356.5,223.3 L358.5,223.3 L360.5,223.3 L362.5,223.3 L364.5,223.3 L366.5,223.3 L368.5,223.3 L370.5,223.3 L372.5,223.3 L374.5,223.3 L376.5,223.3 L378.5,223.3 L380.5,223.3 L382.5,223.3 L384.5,223.3 L386.5,223.3 L388.5,223.3 L390.5,223.3 L392.5,223.3 L394.5,223.3 L396.5,223.3 L398.5,223.3 L400.5,223.3 L402.5,223.3 L404.5,223.3 L406.5,223.3 L408.5,223.3 L410.5,223.3 L412.5,223.3 L414.5,223.3 L416.5,223.3 L418.5,223.3 L420.5,223.3 L422.5,223.3 L424.5,223.3 L426.5,223.3 L428.5,223.3 L430.5,223.3 L432.5,223.3 L434.5,223.3 L436.5,223.3 L438.5,223.3 L440.5,223.3 L442.5,223.3 L444.5,223.3 L446.5,223.3 L448.5,223.3 L450.5,223.3 L452.5,223.3 L454.5,223.3 L456.5,223.3 L458.5,223.3 L460.5,223.3 L462.5,223.3 L464.5,223.3 L466.5,223.3 L468.5,223.3 L470.5,223.3 L472.5,223.3 L474.5,223.3 L476.5,223.3 L478.5,223.3 L480.5,223.3 L482.5,223.3 L484.5,223.3 L486.5,223.3 L488.5,223.3 L490.5,223.3 L492.5,223.3 L494.5,223.3 L496.5,223.3 L498.5,223.3 L500.5,223.3 L502.5,223.3 L504.5,223.3 L506.5,223.3 L508.5,223.3 L510.5,223.3 L512.5,223.3 L514.5,223.3 L516.5,223.3 L518.5,223.3 L520.5,223.3 L522.5,223.3 L524.5,223.3 L526.5,223.3 L528.5,223.3 L530.5,223.4 L532.5,223.4 L534.5,223.4 L536.5,223.5 L538.5,223.6 L540.5,223.7 L542.5,223.8 L544.5,224.0 L546.4,224.2 L546.4,225.5 Z" fill="#D3F4EB" fill-opacity="1.000"/>
<path d="M80.5,179.2 L82.5,178.6 L84.5,178.4 L86.5,178.7 L88.5,179.5 L90.5,180.7 L92.5,182.2 L94.5,184.1 L96.5,186.3 L98.5,188.6 L100.5,191.1 L102.5,193.8 L104.5,196.4 L106.5,199.1 L108.5,201.8 L110.5,204.3 L112.5,206.8 L114.5,209.1 L116.5,211.2 L118.5,213.1 L120.5,214.7 L122.5,216.2 L124.5,217.5 L126.5,218.6 L128.5,219.5 L130.5,220.3 L132.5,221.0 L134.5,221.5 L136.5,221.9 L138.5,222.2 L140.5,222.5 L142.5,222.7 L144.5,222.9 L146.5,223.0 L148.5,223.1 L150.5,223.1 L152.5,223.2 L154.5,223.2 L156.5,223.2 L158.5,223.3 L160.5,223.3 L162.5,223.3 L164.5,223.3 L166.5,223.3 L168.5,223.3 L170.5,223.3 L172.5,223.3 L174.5,223.3 L176.5,223.3 L178.5,223.3 L180.5,223.3 L182.5,223.3 L184.5,223.3 L186.5,223.3 L188.5,223.3 L190.5,223.3 L192.5,223.3 L194.5,223.3 L196.5,223.3 L198.5,223.3 L200.5,223.3 L202.5,223.3 L204.5,223.3 L206.5,223.3 L208.5,223.3 L210.5,223.3 L212.5,223.3 L214.5,223.3 L216.5,223.3 L218.5,223.3 L220.5,223.3 L222.5,223.3 L224.5,223.3 L226.5,223.3 L228.5,223.3 L230.5,223.3 L232.5,223.3 L234.5,223.3 L236.5,223.3 L238.5,223.3 L240.5,223.3 L242.5,223.3 L244.5,223.3 L246.5,223.3 L248.5,223.3 L250.5,223.3 L252.5,223.3 L254.5,223.3 L256.5,223.3 L258.5,223.3 L260.5,223.3 L262.5,223.3 L264.5,223.3 L266.5,223.3 L268.5,223.3 L270.5,223.3 L272.5,223.3 L274.5,223.3 L276.5,223.3 L278.5,223.3 L280.5,223.3 L282.5,223.3 L284.5,223.3 L286.5,223.3 L288.5,223.3 L290.5,223.3 L292.5,223.3 L294.5,223.3 L296.5,223.3 L298.5,223.3 L300.5,223.3 L302.5,223.3 L304.5,223.3 L306.5,223.3 L308.5,223.3 L310.5,223.3 L312.5,223.3 L314.5,223.3 L316.5,223.3 L318.5,223.3 L320.5,223.3 L322.5,223.3 L324.5,223.3 L326.5,223.3 L328.5,223.3 L330.5,223.3 L332.5,223.3 L334.5,223.3 L336.5,223.3 L338.5,223.3 L340.5,223.3 L342.5,223.3 L344.5,223.3 L346.5,223.3 L348.5,223.3 L350.5,223.3 L352.5,223.3 L354.5,223.3 L356.5,223.3 L358.5,223.3 L360.5,223.3 L362.5,223.3 L364.5,223.3 L366.5,223.3 L368.5,223.3 L370.5,223.3 L372.5,223.3 L374.5,223.3 L376.5,223.3 L378.5,223.3 L380.5,223.3 L382.5,223.3 L384.5,223.3 L386.5,223.3 L388.5,223.3 L390.5,223.3 L392.5,223.3 L394.5,223.3 L396.5,223.3 L398.5,223.3 L400.5,223.3 L402.5,223.3 L404.5,223.3 L406.5,223.3 L408.5,223.3 L410.5,223.3 L412.5,223.3 L414.5,223.3 L416.5,223.3 L418.5,223.3 L420.5,223.3 L422.5,223.3 L424.5,223.3 L426.5,223.3 L428.5,223.3 L430.5,223.3 L432.5,223.3 L434.5,223.3 L436.5,223.3 L438.5,223.3 L440.5,223.3 L442.5,223.3 L444.5,223.3 L446.5,223.3 L448.5,223.3 L450.5,223.3 L452.5,223.3 L454.5,223.3 L456.5,223.3 L458.5,223.3 L460.5,223.3 L462.5,223.3 L464.5,223.3 L466.5,223.3 L468.5,223.3 L470.5,223.3 L472.5,223.3 L474.5,223.3 L476.5,223.3 L478.5,223.3 L480.5,223.3 L482.5,223.3 L484.5,223.3 L486.5,223.3 L488.5,223.3 L490.5,223.3 L492.5,223.3 L494.5,223.3 L496.5,223.3 L498.5,223.3 L500.5,223.3 L502.5,223.3 L504.5,223.3 L506.5,223.3 L508.5,223.3 L510.5,223.3 L512.5,223.3 L514.5,223.3 L516.5,223.3 L518.5,223.3 L520.5,223.3 L522.5,223.3 L524.5,223.3 L526.5,223.3 L528.5,223.3 L530.5,223.4 L532.5,223.4 L534.5,223.4 L536.5,223.5 L538.5,223.6 L540.5,223.7 L542.5,223.8 L544.5,224.0 L546.4,224.2" fill="none" stroke="#fff" stroke-width="1.30"/>
<path d="M190.0,225.5 L190.0,224.9 L192.0,224.7 L194.0,224.5 L196.0,224.2 L198.0,224.0 L200.0,223.8 L202.0,223.6 L204.0,223.5 L206.0,223.3 L208.0,223.2 L210.0,223.0 L212.0,222.8 L214.0,222.6 L216.0,222.4 L218.0,222.2 L220.0,222.0 L222.0,221.8 L224.0,221.7 L226.0,221.7 L228.0,221.8 L230.0,221.9 L232.0,222.1 L234.0,222.3 L236.0,222.6 L238.0,222.7 L240.0,222.9 L242.0,223.0 L244.0,223.1 L246.0,223.1 L248.0,223.2 L250.0,223.2 L252.0,223.2 L254.0,223.2 L256.0,223.2 L258.0,223.2 L260.0,223.2 L262.0,223.2 L264.0,223.2 L266.0,223.2 L268.0,223.2 L270.0,223.2 L272.0,223.2 L274.0,223.2 L276.0,223.2 L278.0,223.2 L280.0,223.2 L282.0,223.2 L284.0,223.2 L286.0,223.2 L288.0,223.2 L290.0,223.2 L292.0,223.2 L294.0,223.2 L296.0,223.2 L298.0,223.2 L300.0,223.2 L302.0,223.2 L304.0,223.2 L306.0,223.2 L308.0,223.2 L310.0,223.2 L312.0,223.1 L314.0,223.1 L316.0,223.0 L318.0,222.8 L320.0,222.6 L322.0,222.4 L324.0,222.2 L326.0,221.9 L328.0,221.8 L330.0,221.7 L332.0,221.8 L334.0,221.9 L336.0,222.2 L338.0,222.4 L340.0,222.6 L342.0,222.8 L344.0,223.0 L346.0,223.1 L348.0,223.1 L350.0,223.2 L352.0,223.2 L354.0,223.2 L356.0,223.2 L358.0,223.2 L360.0,223.2 L362.0,223.2 L364.0,223.2 L366.0,223.2 L368.0,223.2 L370.0,223.2 L372.0,223.2 L374.0,223.2 L376.0,223.2 L378.0,223.2 L380.0,223.2 L382.0,223.2 L384.0,223.2 L386.0,223.2 L388.0,223.2 L390.0,223.2 L392.0,223.2 L394.0,223.2 L396.0,223.2 L398.0,223.1 L400.0,223.1 L402.0,223.0 L404.0,222.9 L406.0,222.7 L408.0,222.5 L410.0,222.2 L412.0,221.9 L414.0,221.6 L416.0,221.4 L418.0,221.3 L420.0,221.2 L422.0,221.3 L424.0,221.5 L426.0,221.7 L428.0,222.0 L430.0,222.4 L432.0,222.7 L434.0,223.0 L436.0,223.3 L438.0,223.6 L440.0,223.9 L442.0,224.2 L444.0,224.4 L446.0,224.7 L446.0,225.5 Z" fill="#F3A8C6" fill-opacity="1.000"/>
<path d="M190.0,224.9 L192.0,224.7 L194.0,224.5 L196.0,224.2 L198.0,224.0 L200.0,223.8 L202.0,223.6 L204.0,223.5 L206.0,223.3 L208.0,223.2 L210.0,223.0 L212.0,222.8 L214.0,222.6 L216.0,222.4 L218.0,222.2 L220.0,222.0 L222.0,221.8 L224.0,221.7 L226.0,221.7 L228.0,221.8 L230.0,221.9 L232.0,222.1 L234.0,222.3 L236.0,222.6 L238.0,222.7 L240.0,222.9 L242.0,223.0 L244.0,223.1 L246.0,223.1 L248.0,223.2 L250.0,223.2 L252.0,223.2 L254.0,223.2 L256.0,223.2 L258.0,223.2 L260.0,223.2 L262.0,223.2 L264.0,223.2 L266.0,223.2 L268.0,223.2 L270.0,223.2 L272.0,223.2 L274.0,223.2 L276.0,223.2 L278.0,223.2 L280.0,223.2 L282.0,223.2 L284.0,223.2 L286.0,223.2 L288.0,223.2 L290.0,223.2 L292.0,223.2 L294.0,223.2 L296.0,223.2 L298.0,223.2 L300.0,223.2 L302.0,223.2 L304.0,223.2 L306.0,223.2 L308.0,223.2 L310.0,223.2 L312.0,223.1 L314.0,223.1 L316.0,223.0 L318.0,222.8 L320.0,222.6 L322.0,222.4 L324.0,222.2 L326.0,221.9 L328.0,221.8 L330.0,221.7 L332.0,221.8 L334.0,221.9 L336.0,222.2 L338.0,222.4 L340.0,222.6 L342.0,222.8 L344.0,223.0 L346.0,223.1 L348.0,223.1 L350.0,223.2 L352.0,223.2 L354.0,223.2 L356.0,223.2 L358.0,223.2 L360.0,223.2 L362.0,223.2 L364.0,223.2 L366.0,223.2 L368.0,223.2 L370.0,223.2 L372.0,223.2 L374.0,223.2 L376.0,223.2 L378.0,223.2 L380.0,223.2 L382.0,223.2 L384.0,223.2 L386.0,223.2 L388.0,223.2 L390.0,223.2 L392.0,223.2 L394.0,223.2 L396.0,223.2 L398.0,223.1 L400.0,223.1 L402.0,223.0 L404.0,222.9 L406.0,222.7 L408.0,222.5 L410.0,222.2 L412.0,221.9 L414.0,221.6 L416.0,221.4 L418.0,221.3 L420.0,221.2 L422.0,221.3 L424.0,221.5 L426.0,221.7 L428.0,222.0 L430.0,222.4 L432.0,222.7 L434.0,223.0 L436.0,223.3 L438.0,223.6 L440.0,223.9 L442.0,224.2 L444.0,224.4 L446.0,224.7" fill="none" stroke="#fff" stroke-width="1.30"/>
<path d="M480.0,225.5 L480.0,224.9 L482.0,224.6 L484.0,224.4 L486.0,224.1 L488.0,223.8 L490.0,223.6 L492.0,223.4 L494.0,223.1 L496.0,222.9 L498.0,222.7 L500.0,222.5 L502.0,222.3 L504.0,222.1 L506.0,221.9 L508.0,221.7 L510.0,221.5 L512.0,221.3 L514.0,221.1 L516.0,220.9 L518.0,220.7 L520.0,220.5 L522.0,220.3 L524.0,220.1 L526.0,219.9 L528.0,219.7 L530.0,219.5 L532.0,219.3 L534.0,219.1 L536.0,218.9 L538.0,218.7 L540.0,218.5 L542.0,218.4 L544.0,218.2 L546.0,218.0 L546.4,218.0 L546.4,225.5 Z" fill="#F3A8C6" fill-opacity="1.000"/>
<path d="M480.0,224.9 L482.0,224.6 L484.0,224.4 L486.0,224.1 L488.0,223.8 L490.0,223.6 L492.0,223.4 L494.0,223.1 L496.0,222.9 L498.0,222.7 L500.0,222.5 L502.0,222.3 L504.0,222.1 L506.0,221.9 L508.0,221.7 L510.0,221.5 L512.0,221.3 L514.0,221.1 L516.0,220.9 L518.0,220.7 L520.0,220.5 L522.0,220.3 L524.0,220.1 L526.0,219.9 L528.0,219.7 L530.0,219.5 L532.0,219.3 L534.0,219.1 L536.0,218.9 L538.0,218.7 L540.0,218.5 L542.0,218.4 L544.0,218.2 L546.0,218.0 L546.4,218.0" fill="none" stroke="#fff" stroke-width="1.30"/>
<path d="M80.5,247.1 L80.5,187.4 L82.5,186.0 L84.5,185.2 L86.5,185.1 L88.5,185.5 L90.5,186.6 L92.5,188.3 L94.5,190.5 L96.5,193.2 L98.5,196.3 L100.5,199.6 L102.5,203.2 L104.5,207.0 L106.5,210.8 L108.5,214.5 L110.5,218.2 L112.5,221.7 L114.5,225.0 L116.5,228.1 L118.5,230.9 L120.5,233.5 L122.5,235.7 L124.5,237.7 L126.5,239.4 L128.5,240.9 L130.5,242.1 L132.5,243.1 L134.5,244.0 L136.5,244.7 L138.5,245.2 L140.5,245.6 L142.5,246.0 L144.5,246.3 L146.5,246.5 L148.5,246.6 L148.5,247.1 Z" fill="#F3A8C6" fill-opacity="1.000"/>
<path d="M80.5,187.4 L82.5,186.0 L84.5,185.2 L86.5,185.1 L88.5,185.5 L90.5,186.6 L92.5,188.3 L94.5,190.5 L96.5,193.2 L98.5,196.3 L100.5,199.6 L102.5,203.2 L104.5,207.0 L106.5,210.8 L108.5,214.5 L110.5,218.2 L112.5,221.7 L114.5,225.0 L116.5,228.1 L118.5,230.9 L120.5,233.5 L122.5,235.7 L124.5,237.7 L126.5,239.4 L128.5,240.9 L130.5,242.1 L132.5,243.1 L134.5,244.0 L136.5,244.7 L138.5,245.2 L140.5,245.6 L142.5,246.0 L144.5,246.3 L146.5,246.5 L148.5,246.6" fill="none" stroke="#fff" stroke-width="1.30"/>
<path d="M80.5,247.1 L80.5,211.6 L82.5,211.0 L84.5,210.8 L86.5,211.1 L88.5,211.8 L90.5,212.9 L92.5,214.3 L94.5,216.0 L96.5,218.0 L98.5,220.1 L100.5,222.3 L102.5,224.5 L104.5,226.6 L106.5,228.7 L108.5,230.6 L110.5,232.4 L112.5,234.0 L114.5,235.4 L116.5,236.6 L118.5,237.6 L120.5,238.5 L122.5,239.2 L124.5,239.8 L126.5,240.2 L128.5,240.6 L130.5,240.8 L132.5,241.0 L134.5,241.2 L136.5,241.3 L138.5,241.4 L140.5,241.4 L142.5,241.5 L144.5,241.5 L146.5,241.5 L148.5,241.5 L150.5,241.5 L152.5,241.5 L154.5,241.5 L156.5,241.5 L158.5,241.5 L160.5,241.5 L162.5,241.5 L164.5,241.5 L166.5,241.5 L168.5,241.5 L170.5,241.5 L172.5,241.5 L174.5,241.5 L176.5,241.5 L178.5,241.5 L180.5,241.6 L182.5,241.6 L184.5,241.6 L186.5,241.6 L188.5,241.6 L190.5,241.6 L192.5,241.6 L194.5,241.6 L196.5,241.6 L198.5,241.6 L200.5,241.6 L202.5,241.6 L204.5,241.6 L206.5,241.6 L208.5,241.6 L210.5,241.6 L212.5,241.6 L214.5,241.6 L216.5,241.6 L218.5,241.6 L220.5,241.6 L222.5,241.6 L224.5,241.6 L226.5,241.6 L228.5,241.6 L230.5,241.6 L232.5,241.6 L234.5,241.6 L236.5,241.6 L238.5,241.6 L240.5,241.6 L242.5,241.6 L244.5,241.6 L246.5,241.6 L248.5,241.6 L250.5,241.6 L252.5,241.6 L254.5,241.6 L256.5,241.6 L258.5,241.6 L260.5,241.6 L262.5,241.6 L264.5,241.6 L266.5,241.6 L268.5,241.7 L270.5,241.7 L272.5,241.7 L274.5,241.8 L276.5,241.8 L278.5,241.9 L280.5,242.0 L282.5,242.1 L284.5,242.2 L286.5,242.4 L288.5,242.6 L290.5,242.8 L292.5,243.1 L294.5,243.4 L296.5,243.7 L298.5,244.0 L300.5,244.4 L302.5,244.7 L304.5,245.1 L306.5,245.4 L308.5,245.6 L310.5,245.9 L312.5,246.1 L314.5,246.3 L316.5,246.4 L318.0,246.5 L318.0,247.1 Z" fill="#74EECC" fill-opacity="1.000"/>
<path d="M80.5,211.6 L82.5,211.0 L84.5,210.8 L86.5,211.1 L88.5,211.8 L90.5,212.9 L92.5,214.3 L94.5,216.0 L96.5,218.0 L98.5,220.1 L100.5,222.3 L102.5,224.5 L104.5,226.6 L106.5,228.7 L108.5,230.6 L110.5,232.4 L112.5,234.0 L114.5,235.4 L116.5,236.6 L118.5,237.6 L120.5,238.5 L122.5,239.2 L124.5,239.8 L126.5,240.2 L128.5,240.6 L130.5,240.8 L132.5,241.0 L134.5,241.2 L136.5,241.3 L138.5,241.4 L140.5,241.4 L142.5,241.5 L144.5,241.5 L146.5,241.5 L148.5,241.5 L150.5,241.5 L152.5,241.5 L154.5,241.5 L156.5,241.5 L158.5,241.5 L160.5,241.5 L162.5,241.5 L164.5,241.5 L166.5,241.5 L168.5,241.5 L170.5,241.5 L172.5,241.5 L174.5,241.5 L176.5,241.5 L178.5,241.5 L180.5,241.6 L182.5,241.6 L184.5,241.6 L186.5,241.6 L188.5,241.6 L190.5,241.6 L192.5,241.6 L194.5,241.6 L196.5,241.6 L198.5,241.6 L200.5,241.6 L202.5,241.6 L204.5,241.6 L206.5,241.6 L208.5,241.6 L210.5,241.6 L212.5,241.6 L214.5,241.6 L216.5,241.6 L218.5,241.6 L220.5,241.6 L222.5,241.6 L224.5,241.6 L226.5,241.6 L228.5,241.6 L230.5,241.6 L232.5,241.6 L234.5,241.6 L236.5,241.6 L238.5,241.6 L240.5,241.6 L242.5,241.6 L244.5,241.6 L246.5,241.6 L248.5,241.6 L250.5,241.6 L252.5,241.6 L254.5,241.6 L256.5,241.6 L258.5,241.6 L260.5,241.6 L262.5,241.6 L264.5,241.6 L266.5,241.6 L268.5,241.7 L270.5,241.7 L272.5,241.7 L274.5,241.8 L276.5,241.8 L278.5,241.9 L280.5,242.0 L282.5,242.1 L284.5,242.2 L286.5,242.4 L288.5,242.6 L290.5,242.8 L292.5,243.1 L294.5,243.4 L296.5,243.7 L298.5,244.0 L300.5,244.4 L302.5,244.7 L304.5,245.1 L306.5,245.4 L308.5,245.6 L310.5,245.9 L312.5,246.1 L314.5,246.3 L316.5,246.4 L318.0,246.5" fill="none" stroke="#fff" stroke-width="1.30"/>
<path d="M502.0,247.1 L502.0,246.6 L504.0,246.4 L506.0,246.1 L508.0,245.9 L510.0,245.7 L512.0,245.4 L514.0,245.2 L516.0,244.9 L518.0,244.7 L520.0,244.4 L522.0,244.1 L524.0,243.9 L526.0,243.6 L528.0,243.3 L530.0,243.1 L532.0,242.8 L534.0,242.5 L536.0,242.2 L538.0,241.9 L540.0,241.6 L542.0,241.3 L544.0,240.9 L546.0,240.6 L546.4,240.6 L546.4,247.1 Z" fill="#74EECC" fill-opacity="1.000"/>
<path d="M502.0,246.6 L504.0,246.4 L506.0,246.1 L508.0,245.9 L510.0,245.7 L512.0,245.4 L514.0,245.2 L516.0,244.9 L518.0,244.7 L520.0,244.4 L522.0,244.1 L524.0,243.9 L526.0,243.6 L528.0,243.3 L530.0,243.1 L532.0,242.8 L534.0,242.5 L536.0,242.2 L538.0,241.9 L540.0,241.6 L542.0,241.3 L544.0,240.9 L546.0,240.6 L546.4,240.6" fill="none" stroke="#fff" stroke-width="1.30"/>
<path d="M80.5,268.6 L80.5,225.6 L82.5,226.8 L84.5,230.1 L86.5,235.1 L88.5,241.0 L90.5,247.1 L92.5,252.8 L94.5,257.6 L96.5,261.3 L98.5,264.1 L100.5,265.9 L102.5,267.1 L104.5,267.8 L106.5,268.2 L106.5,268.6 Z" fill="#F3A8C6" fill-opacity="1.000"/>
<path d="M80.5,225.6 L82.5,226.8 L84.5,230.1 L86.5,235.1 L88.5,241.0 L90.5,247.1 L92.5,252.8 L94.5,257.6 L96.5,261.3 L98.5,264.1 L100.5,265.9 L102.5,267.1 L104.5,267.8 L106.5,268.2" fill="none" stroke="#fff" stroke-width="1.30"/>
<path d="M80.5,268.6 L80.5,231.1 L82.5,230.9 L84.5,231.2 L86.5,232.1 L88.5,233.5 L90.5,235.3 L92.5,237.4 L94.5,239.8 L96.5,242.3 L98.5,244.8 L100.5,247.4 L102.5,249.8 L104.5,252.0 L106.5,254.1 L108.5,255.9 L110.5,257.4 L112.5,258.8 L114.5,259.9 L116.5,260.8 L118.5,261.5 L120.5,262.1 L122.5,262.5 L124.5,262.8 L126.5,263.0 L128.5,263.2 L130.5,263.3 L132.5,263.4 L134.5,263.5 L136.5,263.5 L138.5,263.6 L140.5,263.6 L142.5,263.6 L144.5,263.6 L146.5,263.6 L148.5,263.6 L150.5,263.6 L152.5,263.6 L154.5,263.6 L156.5,263.6 L158.5,263.6 L160.5,263.6 L162.5,263.6 L164.5,263.6 L166.5,263.6 L168.5,263.6 L170.5,263.6 L172.5,263.6 L174.5,263.6 L176.5,263.6 L178.5,263.6 L180.5,263.6 L182.5,263.6 L184.5,263.6 L186.5,263.6 L188.5,263.6 L190.5,263.6 L192.5,263.6 L194.5,263.6 L196.5,263.6 L198.5,263.6 L200.5,263.6 L202.5,263.6 L204.5,263.6 L206.5,263.6 L208.5,263.6 L210.5,263.6 L212.5,263.6 L214.5,263.6 L216.5,263.6 L218.5,263.6 L220.5,263.7 L222.5,263.7 L224.5,263.7 L226.5,263.7 L228.5,263.7 L230.5,263.7 L232.5,263.8 L234.5,263.8 L236.5,263.8 L238.5,263.9 L240.5,263.9 L242.5,263.9 L244.5,263.9 L246.5,263.9 L248.5,263.9 L250.5,264.0 L252.5,264.0 L254.5,264.1 L256.5,264.2 L258.5,264.4 L260.5,264.6 L262.5,264.8 L264.5,264.9 L266.5,265.1 L268.5,265.3 L270.5,265.4 L272.5,265.6 L274.5,265.7 L276.5,265.8 L278.5,265.8 L280.5,265.9 L282.5,265.9 L284.5,266.0 L286.5,266.0 L288.5,266.0 L290.5,266.0 L292.5,266.0 L294.5,266.1 L296.5,266.1 L298.5,266.1 L300.5,266.1 L302.5,266.1 L304.5,266.1 L306.5,266.1 L308.5,266.1 L310.5,266.1 L312.5,266.1 L314.5,266.1 L316.5,266.1 L318.5,266.1 L320.5,266.1 L322.5,266.1 L324.5,266.1 L326.5,266.1 L328.5,266.1 L330.5,266.1 L332.5,266.1 L334.5,266.1 L336.5,266.1 L338.5,266.1 L340.5,266.1 L342.5,266.1 L344.5,266.1 L346.5,266.1 L348.5,266.1 L350.5,266.1 L352.5,266.2 L354.5,266.2 L356.5,266.3 L358.5,266.3 L360.5,266.4 L362.5,266.6 L364.5,266.7 L366.5,266.9 L368.5,267.2 L370.5,267.4 L372.0,267.6 L372.0,268.6 Z" fill="#D3F4EB" fill-opacity="1.000"/>
<path d="M80.5,231.1 L82.5,230.9 L84.5,231.2 L86.5,232.1 L88.5,233.5 L90.5,235.3 L92.5,237.4 L94.5,239.8 L96.5,242.3 L98.5,244.8 L100.5,247.4 L102.5,249.8 L104.5,252.0 L106.5,254.1 L108.5,255.9 L110.5,257.4 L112.5,258.8 L114.5,259.9 L116.5,260.8 L118.5,261.5 L120.5,262.1 L122.5,262.5 L124.5,262.8 L126.5,263.0 L128.5,263.2 L130.5,263.3 L132.5,263.4 L134.5,263.5 L136.5,263.5 L138.5,263.6 L140.5,263.6 L142.5,263.6 L144.5,263.6 L146.5,263.6 L148.5,263.6 L150.5,263.6 L152.5,263.6 L154.5,263.6 L156.5,263.6 L158.5,263.6 L160.5,263.6 L162.5,263.6 L164.5,263.6 L166.5,263.6 L168.5,263.6 L170.5,263.6 L172.5,263.6 L174.5,263.6 L176.5,263.6 L178.5,263.6 L180.5,263.6 L182.5,263.6 L184.5,263.6 L186.5,263.6 L188.5,263.6 L190.5,263.6 L192.5,263.6 L194.5,263.6 L196.5,263.6 L198.5,263.6 L200.5,263.6 L202.5,263.6 L204.5,263.6 L206.5,263.6 L208.5,263.6 L210.5,263.6 L212.5,263.6 L214.5,263.6 L216.5,263.6 L218.5,263.6 L220.5,263.7 L222.5,263.7 L224.5,263.7 L226.5,263.7 L228.5,263.7 L230.5,263.7 L232.5,263.8 L234.5,263.8 L236.5,263.8 L238.5,263.9 L240.5,263.9 L242.5,263.9 L244.5,263.9 L246.5,263.9 L248.5,263.9 L250.5,264.0 L252.5,264.0 L254.5,264.1 L256.5,264.2 L258.5,264.4 L260.5,264.6 L262.5,264.8 L264.5,264.9 L266.5,265.1 L268.5,265.3 L270.5,265.4 L272.5,265.6 L274.5,265.7 L276.5,265.8 L278.5,265.8 L280.5,265.9 L282.5,265.9 L284.5,266.0 L286.5,266.0 L288.5,266.0 L290.5,266.0 L292.5,266.0 L294.5,266.1 L296.5,266.1 L298.5,266.1 L300.5,266.1 L302.5,266.1 L304.5,266.1 L306.5,266.1 L308.5,266.1 L310.5,266.1 L312.5,266.1 L314.5,266.1 L316.5,266.1 L318.5,266.1 L320.5,266.1 L322.5,266.1 L324.5,266.1 L326.5,266.1 L328.5,266.1 L330.5,266.1 L332.5,266.1 L334.5,266.1 L336.5,266.1 L338.5,266.1 L340.5,266.1 L342.5,266.1 L344.5,266.1 L346.5,266.1 L348.5,266.1 L350.5,266.1 L352.5,266.2 L354.5,266.2 L356.5,266.3 L358.5,266.3 L360.5,266.4 L362.5,266.6 L364.5,266.7 L366.5,266.9 L368.5,267.2 L370.5,267.4 L372.0,267.6" fill="none" stroke="#fff" stroke-width="1.30"/>
<path d="M266.0,268.6 L266.0,268.1 L268.0,268.0 L270.0,267.8 L272.0,267.6 L274.0,267.4 L276.0,267.1 L278.0,266.8 L280.0,266.4 L282.0,266.0 L284.0,265.7 L286.0,265.3 L288.0,264.9 L290.0,264.5 L292.0,264.2 L294.0,264.0 L296.0,263.8 L298.0,263.6 L300.0,263.6 L302.0,263.6 L304.0,263.8 L306.0,264.0 L308.0,264.2 L310.0,264.5 L312.0,264.9 L314.0,265.3 L316.0,265.7 L318.0,266.0 L320.0,266.4 L322.0,266.8 L324.0,267.1 L326.0,267.4 L328.0,267.6 L330.0,267.8 L332.0,268.0 L334.0,268.1 L334.0,268.6 Z" fill="#F3A8C6" fill-opacity="1.000"/>
<path d="M266.0,268.1 L268.0,268.0 L270.0,267.8 L272.0,267.6 L274.0,267.4 L276.0,267.1 L278.0,266.8 L280.0,266.4 L282.0,266.0 L284.0,265.7 L286.0,265.3 L288.0,264.9 L290.0,264.5 L292.0,264.2 L294.0,264.0 L296.0,263.8 L298.0,263.6 L300.0,263.6 L302.0,263.6 L304.0,263.8 L306.0,264.0 L308.0,264.2 L310.0,264.5 L312.0,264.9 L314.0,265.3 L316.0,265.7 L318.0,266.0 L320.0,266.4 L322.0,266.8 L324.0,267.1 L326.0,267.4 L328.0,267.6 L330.0,267.8 L332.0,268.0 L334.0,268.1" fill="none" stroke="#fff" stroke-width="1.30"/>
<path d="M399.0,268.6 L399.0,268.2 L401.0,268.2 L403.0,268.1 L405.0,268.0 L407.0,267.9 L409.0,267.7 L411.0,267.6 L413.0,267.4 L415.0,267.2 L417.0,267.1 L419.0,266.9 L421.0,266.7 L423.0,266.5 L425.0,266.3 L427.0,266.2 L429.0,266.0 L431.0,265.9 L433.0,265.8 L435.0,265.7 L437.0,265.6 L439.0,265.6 L441.0,265.6 L443.0,265.6 L445.0,265.7 L447.0,265.8 L449.0,265.9 L451.0,266.0 L453.0,266.2 L455.0,266.3 L457.0,266.5 L459.0,266.7 L461.0,266.9 L463.0,267.1 L465.0,267.2 L467.0,267.4 L469.0,267.6 L471.0,267.7 L473.0,267.9 L475.0,268.0 L477.0,268.1 L479.0,268.2 L481.0,268.2 L481.0,268.6 Z" fill="#F3A8C6" fill-opacity="1.000"/>
<path d="M399.0,268.2 L401.0,268.2 L403.0,268.1 L405.0,268.0 L407.0,267.9 L409.0,267.7 L411.0,267.6 L413.0,267.4 L415.0,267.2 L417.0,267.1 L419.0,266.9 L421.0,266.7 L423.0,266.5 L425.0,266.3 L427.0,266.2 L429.0,266.0 L431.0,265.9 L433.0,265.8 L435.0,265.7 L437.0,265.6 L439.0,265.6 L441.0,265.6 L443.0,265.6 L445.0,265.7 L447.0,265.8 L449.0,265.9 L451.0,266.0 L453.0,266.2 L455.0,266.3 L457.0,266.5 L459.0,266.7 L461.0,266.9 L463.0,267.1 L465.0,267.2 L467.0,267.4 L469.0,267.6 L471.0,267.7 L473.0,267.9 L475.0,268.0 L477.0,268.1 L479.0,268.2 L481.0,268.2" fill="none" stroke="#fff" stroke-width="1.30"/>
<path d="M80.5,290.2 L80.5,236.4 L82.5,236.3 L84.5,236.6 L86.5,237.6 L88.5,239.0 L90.5,240.9 L92.5,243.2 L94.5,245.8 L96.5,248.7 L98.5,251.7 L100.5,254.9 L102.5,258.1 L104.5,261.2 L106.5,264.2 L108.5,267.1 L110.5,269.7 L112.5,272.2 L114.5,274.4 L116.5,276.4 L118.5,278.1 L120.5,279.6 L122.5,280.9 L124.5,282.0 L126.5,282.8 L128.5,283.6 L130.5,284.2 L132.5,284.6 L134.5,285.0 L136.5,285.3 L138.5,285.6 L140.5,285.7 L142.5,285.9 L144.5,286.0 L146.5,286.1 L148.5,286.2 L150.5,286.3 L152.5,286.4 L154.5,286.5 L156.5,286.6 L158.5,286.8 L160.5,287.0 L162.5,287.3 L164.5,287.6 L166.5,287.9 L168.5,288.2 L170.5,288.6 L172.5,288.9 L174.5,289.1 L175.0,289.2 L175.0,290.2 Z" fill="#74EECC" fill-opacity="1.000"/>
<path d="M80.5,236.4 L82.5,236.3 L84.5,236.6 L86.5,237.6 L88.5,239.0 L90.5,240.9 L92.5,243.2 L94.5,245.8 L96.5,248.7 L98.5,251.7 L100.5,254.9 L102.5,258.1 L104.5,261.2 L106.5,264.2 L108.5,267.1 L110.5,269.7 L112.5,272.2 L114.5,274.4 L116.5,276.4 L118.5,278.1 L120.5,279.6 L122.5,280.9 L124.5,282.0 L126.5,282.8 L128.5,283.6 L130.5,284.2 L132.5,284.6 L134.5,285.0 L136.5,285.3 L138.5,285.6 L140.5,285.7 L142.5,285.9 L144.5,286.0 L146.5,286.1 L148.5,286.2 L150.5,286.3 L152.5,286.4 L154.5,286.5 L156.5,286.6 L158.5,286.8 L160.5,287.0 L162.5,287.3 L164.5,287.6 L166.5,287.9 L168.5,288.2 L170.5,288.6 L172.5,288.9 L174.5,289.1 L175.0,289.2" fill="none" stroke="#fff" stroke-width="1.30"/>
<path d="M80.5,311.7 L80.5,251.7 L82.5,253.3 L84.5,258.0 L86.5,265.0 L88.5,273.2 L90.5,281.7 L92.5,289.6 L94.5,296.3 L96.5,301.6 L98.5,305.4 L100.5,308.0 L102.5,309.6 L104.5,310.6 L106.5,311.2 L106.5,311.7 Z" fill="#F3A8C6" fill-opacity="1.000"/>
<path d="M80.5,251.7 L82.5,253.3 L84.5,258.0 L86.5,265.0 L88.5,273.2 L90.5,281.7 L92.5,289.6 L94.5,296.3 L96.5,301.6 L98.5,305.4 L100.5,308.0 L102.5,309.6 L104.5,310.6 L106.5,311.2" fill="none" stroke="#fff" stroke-width="1.30"/>
<path d="M80.5,311.7 L80.5,251.5 L82.5,251.7 L84.5,252.5 L86.5,253.9 L88.5,255.7 L90.5,258.0 L92.5,260.7 L94.5,263.6 L96.5,266.8 L98.5,270.2 L100.5,273.6 L102.5,277.0 L104.5,280.4 L106.5,283.6 L108.5,286.6 L110.5,289.4 L112.5,292.0 L114.5,294.4 L116.5,296.5 L118.5,298.3 L120.5,299.9 L122.5,301.3 L124.5,302.5 L126.5,303.4 L128.5,304.2 L130.5,304.9 L132.5,305.4 L134.5,305.8 L136.5,306.2 L138.5,306.4 L140.5,306.6 L142.5,306.8 L144.5,306.9 L146.5,307.0 L148.5,307.0 L150.5,307.1 L152.5,307.1 L154.5,307.1 L156.5,307.2 L158.5,307.2 L160.5,307.2 L162.5,307.2 L164.5,307.2 L166.5,307.2 L168.5,307.2 L170.5,307.2 L172.5,307.2 L174.5,307.2 L176.5,307.2 L178.5,307.2 L180.5,307.2 L182.5,307.2 L184.5,307.2 L186.5,307.2 L188.5,307.2 L190.5,307.2 L192.5,307.2 L194.5,307.2 L196.5,307.2 L198.5,307.2 L200.5,307.3 L202.5,307.3 L204.5,307.3 L206.5,307.3 L208.5,307.3 L210.5,307.4 L212.5,307.4 L214.5,307.5 L216.5,307.6 L218.5,307.7 L220.5,307.8 L222.5,307.9 L224.5,308.1 L226.5,308.3 L228.5,308.5 L230.5,308.7 L232.5,309.0 L234.5,309.2 L236.5,309.5 L238.5,309.8 L240.5,310.1 L242.5,310.3 L244.5,310.5 L245.0,310.6 L245.0,311.7 Z" fill="#D3F4EB" fill-opacity="1.000"/>
<path d="M80.5,251.5 L82.5,251.7 L84.5,252.5 L86.5,253.9 L88.5,255.7 L90.5,258.0 L92.5,260.7 L94.5,263.6 L96.5,266.8 L98.5,270.2 L100.5,273.6 L102.5,277.0 L104.5,280.4 L106.5,283.6 L108.5,286.6 L110.5,289.4 L112.5,292.0 L114.5,294.4 L116.5,296.5 L118.5,298.3 L120.5,299.9 L122.5,301.3 L124.5,302.5 L126.5,303.4 L128.5,304.2 L130.5,304.9 L132.5,305.4 L134.5,305.8 L136.5,306.2 L138.5,306.4 L140.5,306.6 L142.5,306.8 L144.5,306.9 L146.5,307.0 L148.5,307.0 L150.5,307.1 L152.5,307.1 L154.5,307.1 L156.5,307.2 L158.5,307.2 L160.5,307.2 L162.5,307.2 L164.5,307.2 L166.5,307.2 L168.5,307.2 L170.5,307.2 L172.5,307.2 L174.5,307.2 L176.5,307.2 L178.5,307.2 L180.5,307.2 L182.5,307.2 L184.5,307.2 L186.5,307.2 L188.5,307.2 L190.5,307.2 L192.5,307.2 L194.5,307.2 L196.5,307.2 L198.5,307.2 L200.5,307.3 L202.5,307.3 L204.5,307.3 L206.5,307.3 L208.5,307.3 L210.5,307.4 L212.5,307.4 L214.5,307.5 L216.5,307.6 L218.5,307.7 L220.5,307.8 L222.5,307.9 L224.5,308.1 L226.5,308.3 L228.5,308.5 L230.5,308.7 L232.5,309.0 L234.5,309.2 L236.5,309.5 L238.5,309.8 L240.5,310.1 L242.5,310.3 L244.5,310.5 L245.0,310.6" fill="none" stroke="#fff" stroke-width="1.30"/>
<path d="M80.5,333.2 L80.5,282.2 L82.5,282.4 L84.5,283.3 L86.5,284.7 L88.5,286.5 L90.5,288.8 L92.5,291.5 L94.5,294.4 L96.5,297.4 L98.5,300.6 L100.5,303.7 L102.5,306.8 L104.5,309.8 L106.5,312.6 L108.5,315.2 L110.5,317.7 L112.5,319.8 L114.5,321.7 L116.5,323.4 L118.5,324.8 L120.5,326.0 L122.5,327.1 L124.5,327.9 L126.5,328.6 L128.5,329.1 L130.5,329.5 L132.5,329.8 L134.5,330.1 L136.5,330.3 L138.5,330.4 L140.5,330.5 L142.5,330.6 L144.5,330.6 L146.5,330.7 L148.5,330.7 L150.5,330.7 L152.5,330.7 L154.5,330.7 L156.5,330.7 L158.5,330.7 L160.5,330.7 L162.5,330.7 L164.5,330.7 L166.5,330.7 L168.5,330.7 L170.5,330.7 L172.5,330.7 L174.5,330.7 L176.5,330.7 L178.5,330.7 L180.5,330.7 L182.5,330.7 L184.5,330.7 L186.5,330.7 L188.5,330.7 L190.5,330.7 L192.5,330.8 L194.5,330.8 L196.5,330.8 L198.5,330.8 L200.5,330.8 L202.5,330.8 L204.5,330.8 L206.5,330.8 L208.5,330.8 L210.5,330.8 L212.5,330.8 L214.5,330.8 L216.5,330.8 L218.5,330.8 L220.5,330.8 L222.5,330.8 L224.5,330.8 L226.5,330.8 L228.5,330.8 L230.5,330.8 L232.5,330.8 L234.5,330.8 L236.5,330.8 L238.5,330.8 L240.5,330.8 L242.5,330.8 L244.5,330.8 L246.5,330.8 L248.5,330.8 L250.5,330.8 L252.5,330.8 L254.5,330.8 L256.5,330.8 L258.5,330.8 L260.5,330.8 L262.5,330.8 L264.5,330.8 L266.5,330.8 L268.5,330.8 L270.5,330.8 L272.5,330.8 L274.5,330.8 L276.5,330.9 L278.5,330.9 L280.5,331.0 L282.5,331.1 L284.5,331.2 L286.5,331.3 L288.5,331.5 L290.5,331.6 L292.5,331.8 L294.5,332.1 L296.5,332.3 L298.5,332.4 L300.0,332.6 L300.0,333.2 Z" fill="#74EECC" fill-opacity="1.000"/>
<path d="M80.5,282.2 L82.5,282.4 L84.5,283.3 L86.5,284.7 L88.5,286.5 L90.5,288.8 L92.5,291.5 L94.5,294.4 L96.5,297.4 L98.5,300.6 L100.5,303.7 L102.5,306.8 L104.5,309.8 L106.5,312.6 L108.5,315.2 L110.5,317.7 L112.5,319.8 L114.5,321.7 L116.5,323.4 L118.5,324.8 L120.5,326.0 L122.5,327.1 L124.5,327.9 L126.5,328.6 L128.5,329.1 L130.5,329.5 L132.5,329.8 L134.5,330.1 L136.5,330.3 L138.5,330.4 L140.5,330.5 L142.5,330.6 L144.5,330.6 L146.5,330.7 L148.5,330.7 L150.5,330.7 L152.5,330.7 L154.5,330.7 L156.5,330.7 L158.5,330.7 L160.5,330.7 L162.5,330.7 L164.5,330.7 L166.5,330.7 L168.5,330.7 L170.5,330.7 L172.5,330.7 L174.5,330.7 L176.5,330.7 L178.5,330.7 L180.5,330.7 L182.5,330.7 L184.5,330.7 L186.5,330.7 L188.5,330.7 L190.5,330.7 L192.5,330.8 L194.5,330.8 L196.5,330.8 L198.5,330.8 L200.5,330.8 L202.5,330.8 L204.5,330.8 L206.5,330.8 L208.5,330.8 L210.5,330.8 L212.5,330.8 L214.5,330.8 L216.5,330.8 L218.5,330.8 L220.5,330.8 L222.5,330.8 L224.5,330.8 L226.5,330.8 L228.5,330.8 L230.5,330.8 L232.5,330.8 L234.5,330.8 L236.5,330.8 L238.5,330.8 L240.5,330.8 L242.5,330.8 L244.5,330.8 L246.5,330.8 L248.5,330.8 L250.5,330.8 L252.5,330.8 L254.5,330.8 L256.5,330.8 L258.5,330.8 L260.5,330.8 L262.5,330.8 L264.5,330.8 L266.5,330.8 L268.5,330.8 L270.5,330.8 L272.5,330.8 L274.5,330.8 L276.5,330.9 L278.5,330.9 L280.5,331.0 L282.5,331.1 L284.5,331.2 L286.5,331.3 L288.5,331.5 L290.5,331.6 L292.5,331.8 L294.5,332.1 L296.5,332.3 L298.5,332.4 L300.0,332.6" fill="none" stroke="#fff" stroke-width="1.30"/>
<path d="M504.0,333.2 L504.0,332.7 L506.0,332.5 L508.0,332.2 L510.0,332.0 L512.0,331.7 L514.0,331.5 L516.0,331.2 L518.0,331.0 L520.0,330.8 L522.0,330.5 L524.0,330.3 L526.0,330.0 L528.0,329.8 L530.0,329.6 L532.0,329.3 L534.0,329.1 L536.0,328.9 L538.0,328.7 L540.0,328.4 L542.0,328.2 L544.0,328.0 L546.0,327.8 L546.4,327.8 L546.4,333.2 Z" fill="#74EECC" fill-opacity="1.000"/>
<path d="M504.0,332.7 L506.0,332.5 L508.0,332.2 L510.0,332.0 L512.0,331.7 L514.0,331.5 L516.0,331.2 L518.0,331.0 L520.0,330.8 L522.0,330.5 L524.0,330.3 L526.0,330.0 L528.0,329.8 L530.0,329.6 L532.0,329.3 L534.0,329.1 L536.0,328.9 L538.0,328.7 L540.0,328.4 L542.0,328.2 L544.0,328.0 L546.0,327.8 L546.4,327.8" fill="none" stroke="#fff" stroke-width="1.30"/>
<path d="M137.0,333.2 L137.0,332.9 L139.0,332.8 L141.0,332.7 L143.0,332.5 L145.0,332.4 L147.0,332.2 L149.0,332.1 L151.0,331.8 L153.0,331.6 L155.0,331.3 L157.0,331.0 L159.0,330.7 L161.0,330.4 L163.0,330.0 L165.0,329.6 L167.0,329.1 L169.0,328.7 L171.0,328.2 L173.0,327.7 L175.0,327.2 L177.0,326.8 L179.0,326.3 L181.0,325.8 L183.0,325.4 L185.0,324.9 L187.0,324.5 L189.0,324.2 L191.0,323.9 L193.0,323.6 L195.0,323.5 L197.0,323.3 L199.0,323.3 L201.0,323.3 L203.0,323.3 L205.0,323.5 L207.0,323.6 L209.0,323.9 L211.0,324.2 L213.0,324.5 L215.0,324.9 L217.0,325.4 L219.0,325.8 L221.0,326.3 L223.0,326.8 L225.0,327.2 L227.0,327.7 L229.0,328.2 L231.0,328.7 L233.0,329.1 L235.0,329.6 L237.0,330.0 L239.0,330.4 L241.0,330.7 L243.0,331.0 L245.0,331.3 L247.0,331.6 L249.0,331.8 L251.0,332.1 L253.0,332.2 L255.0,332.4 L257.0,332.5 L259.0,332.7 L261.0,332.8 L263.0,332.9 L263.0,333.2 Z" fill="#F3A8C6" fill-opacity="1.000"/>
<path d="M137.0,332.9 L139.0,332.8 L141.0,332.7 L143.0,332.5 L145.0,332.4 L147.0,332.2 L149.0,332.1 L151.0,331.8 L153.0,331.6 L155.0,331.3 L157.0,331.0 L159.0,330.7 L161.0,330.4 L163.0,330.0 L165.0,329.6 L167.0,329.1 L169.0,328.7 L171.0,328.2 L173.0,327.7 L175.0,327.2 L177.0,326.8 L179.0,326.3 L181.0,325.8 L183.0,325.4 L185.0,324.9 L187.0,324.5 L189.0,324.2 L191.0,323.9 L193.0,323.6 L195.0,323.5 L197.0,323.3 L199.0,323.3 L201.0,323.3 L203.0,323.3 L205.0,323.5 L207.0,323.6 L209.0,323.9 L211.0,324.2 L213.0,324.5 L215.0,324.9 L217.0,325.4 L219.0,325.8 L221.0,326.3 L223.0,326.8 L225.0,327.2 L227.0,327.7 L229.0,328.2 L231.0,328.7 L233.0,329.1 L235.0,329.6 L237.0,330.0 L239.0,330.4 L241.0,330.7 L243.0,331.0 L245.0,331.3 L247.0,331.6 L249.0,331.8 L251.0,332.1 L253.0,332.2 L255.0,332.4 L257.0,332.5 L259.0,332.7 L261.0,332.8 L263.0,332.9" fill="none" stroke="#fff" stroke-width="1.30"/>
<path d="M376.0,333.2 L376.0,332.7 L378.0,332.4 L380.0,332.1 L382.0,331.7 L384.0,331.4 L386.0,331.1 L388.0,331.1 L390.0,331.1 L392.0,331.4 L394.0,331.7 L396.0,332.1 L398.0,332.4 L400.0,332.7 L400.0,333.2 Z" fill="#F3A8C6" fill-opacity="1.000"/>
<path d="M376.0,332.7 L378.0,332.4 L380.0,332.1 L382.0,331.7 L384.0,331.4 L386.0,331.1 L388.0,331.1 L390.0,331.1 L392.0,331.4 L394.0,331.7 L396.0,332.1 L398.0,332.4 L400.0,332.7" fill="none" stroke="#fff" stroke-width="1.30"/>
<path d="M80.5,354.8 L80.5,290.9 L82.5,291.2 L84.5,292.3 L86.5,294.3 L88.5,297.0 L90.5,300.3 L92.5,304.1 L94.5,308.3 L96.5,312.7 L98.5,317.2 L100.5,321.6 L102.5,325.9 L104.5,329.9 L106.5,333.5 L108.5,336.9 L110.5,339.8 L112.5,342.4 L114.5,344.5 L116.5,346.4 L118.5,347.9 L120.5,349.1 L122.5,350.1 L124.5,350.8 L126.5,351.4 L128.5,351.8 L130.5,352.2 L132.5,352.4 L134.5,352.6 L136.5,352.7 L138.5,352.8 L140.5,352.9 L142.5,352.9 L144.5,353.0 L146.5,353.0 L148.5,353.0 L150.5,353.0 L152.5,353.0 L154.5,353.1 L156.5,353.1 L158.5,353.1 L160.5,353.1 L162.5,353.2 L164.5,353.3 L166.5,353.4 L168.5,353.5 L170.5,353.6 L172.5,353.7 L174.5,353.9 L176.5,354.0 L178.5,354.2 L180.5,354.3 L182.5,354.4 L182.5,354.8 Z" fill="#D3F4EB" fill-opacity="1.000"/>
<path d="M80.5,290.9 L82.5,291.2 L84.5,292.3 L86.5,294.3 L88.5,297.0 L90.5,300.3 L92.5,304.1 L94.5,308.3 L96.5,312.7 L98.5,317.2 L100.5,321.6 L102.5,325.9 L104.5,329.9 L106.5,333.5 L108.5,336.9 L110.5,339.8 L112.5,342.4 L114.5,344.5 L116.5,346.4 L118.5,347.9 L120.5,349.1 L122.5,350.1 L124.5,350.8 L126.5,351.4 L128.5,351.8 L130.5,352.2 L132.5,352.4 L134.5,352.6 L136.5,352.7 L138.5,352.8 L140.5,352.9 L142.5,352.9 L144.5,353.0 L146.5,353.0 L148.5,353.0 L150.5,353.0 L152.5,353.0 L154.5,353.1 L156.5,353.1 L158.5,353.1 L160.5,353.1 L162.5,353.2 L164.5,353.3 L166.5,353.4 L168.5,353.5 L170.5,353.6 L172.5,353.7 L174.5,353.9 L176.5,354.0 L178.5,354.2 L180.5,354.3 L182.5,354.4" fill="none" stroke="#fff" stroke-width="1.30"/>
<path d="M246.0,354.8 L246.0,354.4 L248.0,354.3 L250.0,354.2 L252.0,354.0 L254.0,353.8 L256.0,353.6 L258.0,353.4 L260.0,353.2 L262.0,353.0 L264.0,352.8 L266.0,352.7 L268.0,352.6 L270.0,352.6 L272.0,352.6 L274.0,352.7 L276.0,352.8 L278.0,353.0 L280.0,353.2 L282.0,353.4 L284.0,353.6 L286.0,353.8 L288.0,354.0 L290.0,354.2 L292.0,354.3 L294.0,354.4 L294.0,354.8 Z" fill="#74EECC" fill-opacity="1.000"/>
<path d="M246.0,354.4 L248.0,354.3 L250.0,354.2 L252.0,354.0 L254.0,353.8 L256.0,353.6 L258.0,353.4 L260.0,353.2 L262.0,353.0 L264.0,352.8 L266.0,352.7 L268.0,352.6 L270.0,352.6 L272.0,352.6 L274.0,352.7 L276.0,352.8 L278.0,353.0 L280.0,353.2 L282.0,353.4 L284.0,353.6 L286.0,353.8 L288.0,354.0 L290.0,354.2 L292.0,354.3 L294.0,354.4" fill="none" stroke="#fff" stroke-width="1.30"/>
<path d="M80.5,376.4 L80.5,333.0 L82.5,332.5 L84.5,332.4 L86.5,332.7 L88.5,333.5 L90.5,334.7 L92.5,336.2 L94.5,338.1 L96.5,340.3 L98.5,342.7 L100.5,345.3 L102.5,347.9 L104.5,350.6 L106.5,353.3 L108.5,355.9 L110.5,358.4 L112.5,360.7 L114.5,362.9 L116.5,364.9 L118.5,366.7 L120.5,368.3 L122.5,369.7 L124.5,370.9 L126.5,372.0 L128.5,372.8 L130.5,373.6 L132.5,374.2 L134.5,374.6 L136.5,375.0 L138.5,375.4 L140.5,375.6 L142.5,375.8 L144.5,375.9 L144.5,376.4 Z" fill="#74EECC" fill-opacity="1.000"/>
<path d="M80.5,333.0 L82.5,332.5 L84.5,332.4 L86.5,332.7 L88.5,333.5 L90.5,334.7 L92.5,336.2 L94.5,338.1 L96.5,340.3 L98.5,342.7 L100.5,345.3 L102.5,347.9 L104.5,350.6 L106.5,353.3 L108.5,355.9 L110.5,358.4 L112.5,360.7 L114.5,362.9 L116.5,364.9 L118.5,366.7 L120.5,368.3 L122.5,369.7 L124.5,370.9 L126.5,372.0 L128.5,372.8 L130.5,373.6 L132.5,374.2 L134.5,374.6 L136.5,375.0 L138.5,375.4 L140.5,375.6 L142.5,375.8 L144.5,375.9" fill="none" stroke="#fff" stroke-width="1.30"/>
<path d="M80.5,376.4 L80.5,345.5 L82.5,345.4 L84.5,345.8 L86.5,346.9 L88.5,348.5 L90.5,350.5 L92.5,352.8 L94.5,355.4 L96.5,358.0 L98.5,360.7 L100.5,363.2 L102.5,365.5 L104.5,367.6 L106.5,369.4 L108.5,371.0 L110.5,372.3 L112.5,373.3 L114.5,374.1 L116.5,374.8 L118.5,375.2 L120.5,375.6 L122.5,375.8 L122.5,376.4 Z" fill="#DBAFC6" fill-opacity="1.000"/>
<path d="M80.5,345.5 L82.5,345.4 L84.5,345.8 L86.5,346.9 L88.5,348.5 L90.5,350.5 L92.5,352.8 L94.5,355.4 L96.5,358.0 L98.5,360.7 L100.5,363.2 L102.5,365.5 L104.5,367.6 L106.5,369.4 L108.5,371.0 L110.5,372.3 L112.5,373.3 L114.5,374.1 L116.5,374.8 L118.5,375.2 L120.5,375.6 L122.5,375.8" fill="none" stroke="#fff" stroke-width="1.30"/>
<path d="M122.0,376.4 L122.0,376.0 L124.0,375.9 L126.0,375.8 L128.0,375.6 L130.0,375.5 L132.0,375.3 L134.0,375.1 L136.0,374.8 L138.0,374.6 L140.0,374.4 L142.0,374.1 L144.0,373.9 L146.0,373.6 L148.0,373.4 L150.0,373.2 L152.0,373.1 L154.0,372.9 L156.0,372.8 L158.0,372.7 L160.0,372.7 L162.0,372.6 L164.0,372.5 L166.0,372.5 L168.0,372.5 L170.0,372.5 L172.0,372.4 L174.0,372.4 L176.0,372.4 L178.0,372.4 L180.0,372.4 L182.0,372.5 L184.0,372.5 L186.0,372.5 L188.0,372.5 L190.0,372.6 L192.0,372.7 L194.0,372.7 L196.0,372.8 L198.0,372.9 L200.0,373.1 L202.0,373.2 L204.0,373.4 L206.0,373.6 L208.0,373.9 L210.0,374.1 L212.0,374.4 L214.0,374.6 L216.0,374.8 L218.0,375.1 L220.0,375.3 L222.0,375.5 L224.0,375.6 L225.0,375.7 L225.0,376.4 Z" fill="#F3A8C6" fill-opacity="1.000"/>
<path d="M122.0,376.0 L124.0,375.9 L126.0,375.8 L128.0,375.6 L130.0,375.5 L132.0,375.3 L134.0,375.1 L136.0,374.8 L138.0,374.6 L140.0,374.4 L142.0,374.1 L144.0,373.9 L146.0,373.6 L148.0,373.4 L150.0,373.2 L152.0,373.1 L154.0,372.9 L156.0,372.8 L158.0,372.7 L160.0,372.7 L162.0,372.6 L164.0,372.5 L166.0,372.5 L168.0,372.5 L170.0,372.5 L172.0,372.4 L174.0,372.4 L176.0,372.4 L178.0,372.4 L180.0,372.4 L182.0,372.5 L184.0,372.5 L186.0,372.5 L188.0,372.5 L190.0,372.6 L192.0,372.7 L194.0,372.7 L196.0,372.8 L198.0,372.9 L200.0,373.1 L202.0,373.2 L204.0,373.4 L206.0,373.6 L208.0,373.9 L210.0,374.1 L212.0,374.4 L214.0,374.6 L216.0,374.8 L218.0,375.1 L220.0,375.3 L222.0,375.5 L224.0,375.6 L225.0,375.7" fill="none" stroke="#fff" stroke-width="1.30"/>
<path d="M195.0,376.4 L195.0,376.0 L197.0,375.8 L199.0,375.7 L201.0,375.5 L203.0,375.3 L205.0,375.1 L207.0,374.9 L209.0,374.7 L211.0,374.5 L213.0,374.4 L215.0,374.2 L217.0,374.1 L219.0,374.1 L221.0,374.0 L223.0,374.0 L225.0,373.9 L227.0,373.9 L229.0,373.9 L231.0,373.9 L233.0,373.9 L235.0,373.9 L237.0,373.9 L239.0,373.9 L241.0,373.9 L243.0,373.9 L245.0,373.9 L247.0,373.9 L249.0,373.9 L251.0,373.9 L253.0,373.9 L255.0,373.9 L257.0,373.9 L259.0,373.9 L261.0,373.9 L263.0,374.0 L265.0,374.0 L267.0,374.0 L269.0,374.1 L271.0,374.2 L273.0,374.3 L275.0,374.4 L277.0,374.6 L279.0,374.8 L281.0,375.0 L283.0,375.2 L285.0,375.4 L287.0,375.6 L289.0,375.8 L290.0,375.8 L290.0,376.4 Z" fill="#74EECC" fill-opacity="1.000"/>
<path d="M195.0,376.0 L197.0,375.8 L199.0,375.7 L201.0,375.5 L203.0,375.3 L205.0,375.1 L207.0,374.9 L209.0,374.7 L211.0,374.5 L213.0,374.4 L215.0,374.2 L217.0,374.1 L219.0,374.1 L221.0,374.0 L223.0,374.0 L225.0,373.9 L227.0,373.9 L229.0,373.9 L231.0,373.9 L233.0,373.9 L235.0,373.9 L237.0,373.9 L239.0,373.9 L241.0,373.9 L243.0,373.9 L245.0,373.9 L247.0,373.9 L249.0,373.9 L251.0,373.9 L253.0,373.9 L255.0,373.9 L257.0,373.9 L259.0,373.9 L261.0,373.9 L263.0,374.0 L265.0,374.0 L267.0,374.0 L269.0,374.1 L271.0,374.2 L273.0,374.3 L275.0,374.4 L277.0,374.6 L279.0,374.8 L281.0,375.0 L283.0,375.2 L285.0,375.4 L287.0,375.6 L289.0,375.8 L290.0,375.8" fill="none" stroke="#fff" stroke-width="1.30"/>
<path d="M300.0,376.4 L300.0,375.8 L302.0,375.4 L304.0,374.9 L306.0,374.4 L308.0,374.0 L310.0,373.9 L312.0,374.0 L314.0,374.4 L316.0,374.9 L318.0,375.4 L320.0,375.8 L320.0,376.4 Z" fill="#F3A8C6" fill-opacity="1.000"/>
<path d="M300.0,375.8 L302.0,375.4 L304.0,374.9 L306.0,374.4 L308.0,374.0 L310.0,373.9 L312.0,374.0 L314.0,374.4 L316.0,374.9 L318.0,375.4 L320.0,375.8" fill="none" stroke="#fff" stroke-width="1.30"/>
<path d="M80.5,397.9 L80.5,377.0 L82.5,376.9 L84.5,376.9 L86.5,377.0 L88.5,377.1 L90.5,377.3 L92.5,377.6 L94.5,378.0 L96.5,378.5 L98.5,379.0 L100.5,379.5 L102.5,380.2 L104.5,380.8 L106.5,381.5 L108.5,382.3 L110.5,383.1 L112.5,383.8 L114.5,384.6 L116.5,385.4 L118.5,386.2 L120.5,387.0 L122.5,387.8 L124.5,388.6 L126.5,389.3 L128.5,390.0 L130.5,390.7 L132.5,391.3 L134.5,391.9 L136.5,392.5 L138.5,393.1 L140.5,393.6 L142.5,394.0 L144.5,394.5 L146.5,394.8 L148.5,395.2 L150.5,395.5 L152.5,395.8 L154.5,396.1 L156.5,396.3 L158.5,396.5 L160.5,396.7 L162.5,396.9 L164.5,397.0 L166.5,397.2 L168.5,397.3 L170.5,397.4 L172.5,397.5 L174.5,397.5 L174.5,397.9 Z" fill="#F3A8C6" fill-opacity="1.000"/>
<path d="M494.5,397.9 L494.5,397.5 L496.5,397.3 L498.5,397.1 L500.5,396.9 L502.5,396.6 L504.5,396.3 L506.5,395.9 L508.5,395.4 L510.5,394.9 L512.5,394.3 L514.5,393.7 L516.5,392.9 L518.5,392.2 L520.5,391.4 L522.5,390.5 L524.5,389.7 L526.5,388.9 L528.5,388.2 L530.5,387.5 L532.5,386.9 L534.5,386.5 L536.5,386.1 L538.5,385.9 L540.5,385.9 L542.5,386.0 L544.5,386.3 L546.4,386.7 L546.4,397.9 Z" fill="#F3A8C6" fill-opacity="1.000"/>
<path d="M80.5,377.0 L82.5,376.9 L84.5,376.9 L86.5,377.0 L88.5,377.1 L90.5,377.3 L92.5,377.6 L94.5,378.0 L96.5,378.5 L98.5,379.0 L100.5,379.5 L102.5,380.2 L104.5,380.8 L106.5,381.5 L108.5,382.3 L110.5,383.1 L112.5,383.8 L114.5,384.6 L116.5,385.4 L118.5,386.2 L120.5,387.0 L122.5,387.8 L124.5,388.6 L126.5,389.3 L128.5,390.0 L130.5,390.7 L132.5,391.3 L134.5,391.9 L136.5,392.5 L138.5,393.1 L140.5,393.6 L142.5,394.0 L144.5,394.5 L146.5,394.8 L148.5,395.2 L150.5,395.5 L152.5,395.8 L154.5,396.1 L156.5,396.3 L158.5,396.5 L160.5,396.7 L162.5,396.9 L164.5,397.0 L166.5,397.2 L168.5,397.3 L170.5,397.4 L172.5,397.5 L174.5,397.5" fill="none" stroke="#fff" stroke-width="1.30"/>
<path d="M494.5,397.5 L496.5,397.3 L498.5,397.1 L500.5,396.9 L502.5,396.6 L504.5,396.3 L506.5,395.9 L508.5,395.4 L510.5,394.9 L512.5,394.3 L514.5,393.7 L516.5,392.9 L518.5,392.2 L520.5,391.4 L522.5,390.5 L524.5,389.7 L526.5,388.9 L528.5,388.2 L530.5,387.5 L532.5,386.9 L534.5,386.5 L536.5,386.1 L538.5,385.9 L540.5,385.9 L542.5,386.0 L544.5,386.3 L546.4,386.7" fill="none" stroke="#fff" stroke-width="1.30"/>
<path d="M80.5,397.9 L80.5,383.0 L82.5,382.9 L84.5,382.9 L86.5,383.0 L88.5,383.1 L90.5,383.2 L92.5,383.5 L94.5,383.8 L96.5,384.1 L98.5,384.5 L100.5,385.0 L102.5,385.4 L104.5,385.9 L106.5,386.4 L108.5,387.0 L110.5,387.5 L112.5,388.1 L114.5,388.6 L116.5,389.1 L118.5,389.6 L120.5,390.1 L122.5,390.6 L124.5,391.0 L126.5,391.5 L128.5,391.9 L130.5,392.2 L132.5,392.5 L134.5,392.8 L136.5,393.1 L138.5,393.4 L140.5,393.6 L142.5,393.8 L144.5,393.9 L146.5,394.1 L148.5,394.2 L150.5,394.3 L152.5,394.4 L154.5,394.5 L156.5,394.6 L158.5,394.6 L160.5,394.6 L162.5,394.6 L164.5,394.6 L166.5,394.6 L168.5,394.6 L170.5,394.6 L172.5,394.5 L174.5,394.5 L176.5,394.5 L178.5,394.4 L180.5,394.4 L182.5,394.3 L184.5,394.3 L186.5,394.2 L188.5,394.2 L190.5,394.1 L192.5,394.1 L194.5,394.0 L196.5,394.0 L198.5,393.9 L200.5,393.9 L202.5,393.8 L204.5,393.8 L206.5,393.8 L208.5,393.7 L210.5,393.7 L212.5,393.6 L214.5,393.6 L216.5,393.6 L218.5,393.5 L220.5,393.5 L222.5,393.4 L224.5,393.4 L226.5,393.4 L228.5,393.3 L230.5,393.3 L232.5,393.2 L234.5,393.2 L236.5,393.2 L238.5,393.1 L240.5,393.1 L242.5,393.0 L244.5,393.0 L246.5,393.0 L248.5,392.9 L250.5,392.9 L252.5,392.8 L254.5,392.8 L256.5,392.8 L258.5,392.7 L260.5,392.7 L262.5,392.6 L264.5,392.6 L266.5,392.5 L268.5,392.5 L270.5,392.4 L272.5,392.4 L274.5,392.3 L276.5,392.3 L278.5,392.3 L280.5,392.2 L282.5,392.2 L284.5,392.1 L286.5,392.1 L288.5,392.1 L290.5,392.0 L292.5,392.0 L294.5,392.0 L296.5,391.9 L298.5,391.9 L300.5,391.9 L302.5,391.9 L304.5,391.9 L306.5,391.8 L308.5,391.8 L310.5,391.8 L312.5,391.8 L314.5,391.8 L316.5,391.8 L318.5,391.7 L320.5,391.7 L322.5,391.7 L324.5,391.7 L326.5,391.7 L328.5,391.7 L330.5,391.7 L332.5,391.6 L334.5,391.6 L336.5,391.6 L338.5,391.6 L340.5,391.6 L342.5,391.6 L344.5,391.6 L346.5,391.6 L348.5,391.6 L350.5,391.5 L352.5,391.5 L354.5,391.5 L356.5,391.5 L358.5,391.5 L360.5,391.5 L362.5,391.5 L364.5,391.5 L366.5,391.5 L368.5,391.5 L370.5,391.5 L372.5,391.4 L374.5,391.4 L376.5,391.4 L378.5,391.4 L380.5,391.4 L382.5,391.4 L384.5,391.4 L386.5,391.4 L388.5,391.4 L390.5,391.4 L392.5,391.4 L394.5,391.4 L396.5,391.4 L398.5,391.4 L400.5,391.4 L402.5,391.4 L404.5,391.4 L406.5,391.4 L408.5,391.4 L410.5,391.4 L412.5,391.4 L414.5,391.4 L416.5,391.4 L418.5,391.4 L420.5,391.4 L422.5,391.4 L424.5,391.4 L426.5,391.4 L428.5,391.4 L430.5,391.5 L432.5,391.5 L434.5,391.5 L436.5,391.5 L438.5,391.5 L440.5,391.5 L442.5,391.5 L444.5,391.5 L446.5,391.5 L448.5,391.5 L450.5,391.5 L452.5,391.6 L454.5,391.6 L456.5,391.6 L458.5,391.6 L460.5,391.6 L462.5,391.6 L464.5,391.6 L466.5,391.6 L468.5,391.7 L470.5,391.7 L472.5,391.7 L474.5,391.7 L476.5,391.7 L478.5,391.7 L480.5,391.7 L482.5,391.8 L484.5,391.8 L486.5,391.8 L488.5,391.8 L490.5,391.8 L492.5,391.8 L494.5,391.9 L496.5,391.9 L498.5,391.9 L500.5,391.9 L502.5,391.9 L504.5,391.9 L506.5,392.0 L508.5,392.0 L510.5,392.0 L512.5,392.1 L514.5,392.1 L516.5,392.1 L518.5,392.2 L520.5,392.2 L522.5,392.3 L524.5,392.3 L526.5,392.4 L528.5,392.4 L530.5,392.4 L532.5,392.5 L534.5,392.5 L536.5,392.6 L538.5,392.7 L540.5,392.7 L542.5,392.8 L544.5,392.8 L546.4,392.9 L546.4,397.9 Z" fill="#D3F4EB" fill-opacity="1.000"/>
<path d="M80.5,383.0 L82.5,382.9 L84.5,382.9 L86.5,383.0 L88.5,383.1 L90.5,383.2 L92.5,383.5 L94.5,383.8 L96.5,384.1 L98.5,384.5 L100.5,385.0 L102.5,385.4 L104.5,385.9 L106.5,386.4 L108.5,387.0 L110.5,387.5 L112.5,388.1 L114.5,388.6 L116.5,389.1 L118.5,389.6 L120.5,390.1 L122.5,390.6 L124.5,391.0 L126.5,391.5 L128.5,391.9 L130.5,392.2 L132.5,392.5 L134.5,392.8 L136.5,393.1 L138.5,393.4 L140.5,393.6 L142.5,393.8 L144.5,393.9 L146.5,394.1 L148.5,394.2 L150.5,394.3 L152.5,394.4 L154.5,394.5 L156.5,394.6 L158.5,394.6 L160.5,394.6 L162.5,394.6 L164.5,394.6 L166.5,394.6 L168.5,394.6 L170.5,394.6 L172.5,394.5 L174.5,394.5 L176.5,394.5 L178.5,394.4 L180.5,394.4 L182.5,394.3 L184.5,394.3 L186.5,394.2 L188.5,394.2 L190.5,394.1 L192.5,394.1 L194.5,394.0 L196.5,394.0 L198.5,393.9 L200.5,393.9 L202.5,393.8 L204.5,393.8 L206.5,393.8 L208.5,393.7 L210.5,393.7 L212.5,393.6 L214.5,393.6 L216.5,393.6 L218.5,393.5 L220.5,393.5 L222.5,393.4 L224.5,393.4 L226.5,393.4 L228.5,393.3 L230.5,393.3 L232.5,393.2 L234.5,393.2 L236.5,393.2 L238.5,393.1 L240.5,393.1 L242.5,393.0 L244.5,393.0 L246.5,393.0 L248.5,392.9 L250.5,392.9 L252.5,392.8 L254.5,392.8 L256.5,392.8 L258.5,392.7 L260.5,392.7 L262.5,392.6 L264.5,392.6 L266.5,392.5 L268.5,392.5 L270.5,392.4 L272.5,392.4 L274.5,392.3 L276.5,392.3 L278.5,392.3 L280.5,392.2 L282.5,392.2 L284.5,392.1 L286.5,392.1 L288.5,392.1 L290.5,392.0 L292.5,392.0 L294.5,392.0 L296.5,391.9 L298.5,391.9 L300.5,391.9 L302.5,391.9 L304.5,391.9 L306.5,391.8 L308.5,391.8 L310.5,391.8 L312.5,391.8 L314.5,391.8 L316.5,391.8 L318.5,391.7 L320.5,391.7 L322.5,391.7 L324.5,391.7 L326.5,391.7 L328.5,391.7 L330.5,391.7 L332.5,391.6 L334.5,391.6 L336.5,391.6 L338.5,391.6 L340.5,391.6 L342.5,391.6 L344.5,391.6 L346.5,391.6 L348.5,391.6 L350.5,391.5 L352.5,391.5 L354.5,391.5 L356.5,391.5 L358.5,391.5 L360.5,391.5 L362.5,391.5 L364.5,391.5 L366.5,391.5 L368.5,391.5 L370.5,391.5 L372.5,391.4 L374.5,391.4 L376.5,391.4 L378.5,391.4 L380.5,391.4 L382.5,391.4 L384.5,391.4 L386.5,391.4 L388.5,391.4 L390.5,391.4 L392.5,391.4 L394.5,391.4 L396.5,391.4 L398.5,391.4 L400.5,391.4 L402.5,391.4 L404.5,391.4 L406.5,391.4 L408.5,391.4 L410.5,391.4 L412.5,391.4 L414.5,391.4 L416.5,391.4 L418.5,391.4 L420.5,391.4 L422.5,391.4 L424.5,391.4 L426.5,391.4 L428.5,391.4 L430.5,391.5 L432.5,391.5 L434.5,391.5 L436.5,391.5 L438.5,391.5 L440.5,391.5 L442.5,391.5 L444.5,391.5 L446.5,391.5 L448.5,391.5 L450.5,391.5 L452.5,391.6 L454.5,391.6 L456.5,391.6 L458.5,391.6 L460.5,391.6 L462.5,391.6 L464.5,391.6 L466.5,391.6 L468.5,391.7 L470.5,391.7 L472.5,391.7 L474.5,391.7 L476.5,391.7 L478.5,391.7 L480.5,391.7 L482.5,391.8 L484.5,391.8 L486.5,391.8 L488.5,391.8 L490.5,391.8 L492.5,391.8 L494.5,391.9 L496.5,391.9 L498.5,391.9 L500.5,391.9 L502.5,391.9 L504.5,391.9 L506.5,392.0 L508.5,392.0 L510.5,392.0 L512.5,392.1 L514.5,392.1 L516.5,392.1 L518.5,392.2 L520.5,392.2 L522.5,392.3 L524.5,392.3 L526.5,392.4 L528.5,392.4 L530.5,392.4 L532.5,392.5 L534.5,392.5 L536.5,392.6 L538.5,392.7 L540.5,392.7 L542.5,392.8 L544.5,392.8 L546.4,392.9" fill="none" stroke="#fff" stroke-width="1.30"/>
<path d="M420.0,419.4 L420.0,417.7 L422.0,416.0 L424.0,414.6 L426.0,413.7 L428.0,412.9 L430.0,412.3 L432.0,411.7 L434.0,411.2 L436.0,410.7 L438.0,410.3 L440.0,409.8 L442.0,409.5 L444.0,409.1 L446.0,408.8 L448.0,408.4 L450.0,408.0 L452.0,407.7 L454.0,407.4 L456.0,407.1 L458.0,406.8 L460.0,406.5 L462.0,406.3 L464.0,406.0 L466.0,405.8 L468.0,405.5 L470.0,405.2 L472.0,404.9 L474.0,404.6 L476.0,404.3 L478.0,403.9 L480.0,403.6 L482.0,403.3 L484.0,402.9 L486.0,402.6 L488.0,402.2 L490.0,401.8 L492.0,401.4 L494.0,401.0 L496.0,400.5 L498.0,400.0 L500.0,399.5 L502.0,398.9 L504.0,398.3 L506.0,397.6 L508.0,396.7 L510.0,395.6 L512.0,394.5 L514.0,393.4 L516.0,392.2 L518.0,391.1 L520.0,390.1 L522.0,389.0 L524.0,387.9 L526.0,386.9 L528.0,385.9 L530.0,385.0 L532.0,384.3 L534.0,383.6 L536.0,383.0 L538.0,382.7 L540.0,382.7 L542.0,382.7 L544.0,382.9 L546.0,383.3 L546.4,383.4 L546.4,419.4 Z" fill="#F3A8C6" fill-opacity="1.000"/>
<path d="M420.0,417.7 L422.0,416.0 L424.0,414.6 L426.0,413.7 L428.0,412.9 L430.0,412.3 L432.0,411.7 L434.0,411.2 L436.0,410.7 L438.0,410.3 L440.0,409.8 L442.0,409.5 L444.0,409.1 L446.0,408.8 L448.0,408.4 L450.0,408.0 L452.0,407.7 L454.0,407.4 L456.0,407.1 L458.0,406.8 L460.0,406.5 L462.0,406.3 L464.0,406.0 L466.0,405.8 L468.0,405.5 L470.0,405.2 L472.0,404.9 L474.0,404.6 L476.0,404.3 L478.0,403.9 L480.0,403.6 L482.0,403.3 L484.0,402.9 L486.0,402.6 L488.0,402.2 L490.0,401.8 L492.0,401.4 L494.0,401.0 L496.0,400.5 L498.0,400.0 L500.0,399.5 L502.0,398.9 L504.0,398.3 L506.0,397.6 L508.0,396.7 L510.0,395.6 L512.0,394.5 L514.0,393.4 L516.0,392.2 L518.0,391.1 L520.0,390.1 L522.0,389.0 L524.0,387.9 L526.0,386.9 L528.0,385.9 L530.0,385.0 L532.0,384.3 L534.0,383.6 L536.0,383.0 L538.0,382.7 L540.0,382.7 L542.0,382.7 L544.0,382.9 L546.0,383.3 L546.4,383.4" fill="none" stroke="#fff" stroke-width="1.30"/>
<path d="M80.5,419.4 L80.5,387.8 L82.5,387.1 L84.5,386.6 L86.5,386.4 L88.5,386.5 L90.5,386.8 L92.5,387.5 L94.5,388.3 L96.5,389.3 L98.5,390.5 L100.5,391.8 L102.5,393.2 L104.5,394.7 L106.5,396.1 L108.5,397.6 L110.5,399.0 L112.5,400.4 L114.5,401.6 L116.5,402.8 L118.5,403.9 L120.5,404.9 L122.5,405.8 L124.5,406.6 L126.5,407.3 L128.5,408.0 L130.5,408.6 L132.5,409.1 L134.5,409.6 L136.5,410.1 L138.5,410.5 L140.5,410.9 L142.5,411.2 L144.5,411.6 L146.5,411.9 L148.5,412.2 L150.5,412.5 L152.5,412.8 L154.5,413.1 L156.5,413.3 L158.5,413.6 L160.5,413.8 L162.5,414.0 L164.5,414.2 L166.5,414.4 L168.5,414.6 L170.5,414.7 L172.5,414.9 L174.5,415.0 L176.5,415.1 L178.5,415.2 L180.5,415.3 L182.5,415.4 L184.5,415.5 L186.5,415.6 L188.5,415.6 L190.5,415.7 L192.5,415.7 L194.5,415.8 L196.5,415.8 L198.5,415.8 L200.5,415.8 L202.5,415.9 L204.5,415.9 L206.5,415.9 L208.5,415.9 L210.5,415.9 L212.5,415.9 L214.5,415.9 L216.5,415.9 L218.5,415.9 L220.5,415.9 L222.5,415.9 L224.5,415.9 L226.5,415.9 L228.5,415.9 L230.5,415.9 L232.5,415.9 L234.5,415.9 L236.5,415.9 L238.5,415.9 L240.5,415.9 L242.5,415.9 L244.5,415.9 L246.5,415.9 L248.5,415.9 L250.5,415.9 L252.5,415.9 L254.5,415.9 L256.5,415.9 L258.5,415.9 L260.5,415.9 L262.5,415.9 L264.5,415.9 L266.5,415.9 L268.5,415.9 L270.5,415.9 L272.5,415.9 L274.5,415.9 L276.5,415.9 L278.5,415.9 L280.5,415.9 L282.5,415.9 L284.5,415.9 L286.5,415.9 L288.5,415.9 L290.5,415.9 L292.5,415.9 L294.5,415.9 L296.5,415.9 L298.5,415.9 L300.5,415.9 L302.5,415.9 L304.5,415.9 L306.5,415.9 L308.5,415.8 L310.5,415.8 L312.5,415.8 L314.5,415.7 L316.5,415.7 L318.5,415.7 L320.5,415.6 L322.5,415.6 L324.5,415.5 L326.5,415.4 L328.5,415.3 L330.5,415.2 L332.5,415.1 L334.5,415.0 L336.5,414.9 L338.5,414.8 L340.5,414.6 L342.5,414.5 L344.5,414.3 L346.5,414.2 L348.5,414.0 L350.5,413.8 L352.5,413.6 L354.5,413.4 L356.5,413.2 L358.5,413.0 L360.5,412.9 L362.5,412.7 L364.5,412.5 L366.5,412.3 L368.5,412.2 L370.5,412.0 L372.5,411.9 L374.5,411.7 L376.5,411.6 L378.5,411.6 L380.5,411.5 L382.5,411.5 L384.5,411.5 L386.5,411.5 L388.5,411.5 L390.5,411.5 L392.5,411.6 L394.5,411.7 L396.5,411.8 L398.5,411.9 L400.5,412.1 L402.5,412.2 L404.5,412.4 L406.5,412.6 L408.5,412.8 L410.5,413.0 L412.5,413.1 L414.5,413.3 L416.5,413.5 L418.5,413.7 L420.5,413.9 L422.5,414.1 L424.5,414.3 L426.5,414.4 L428.5,414.6 L430.5,414.7 L432.5,414.9 L434.5,415.0 L436.5,415.1 L438.5,415.2 L440.5,415.3 L442.5,415.4 L444.5,415.5 L446.5,415.5 L448.5,415.6 L450.5,415.6 L452.5,415.7 L454.5,415.7 L456.5,415.7 L458.5,415.7 L460.5,415.7 L462.5,415.7 L464.5,415.6 L466.5,415.5 L468.5,415.3 L470.5,415.1 L472.5,414.9 L474.5,414.6 L476.5,414.2 L478.5,413.8 L480.5,413.3 L482.5,412.9 L484.5,412.4 L486.5,411.9 L488.5,411.6 L490.5,411.3 L492.5,411.1 L494.5,411.0 L496.5,411.0 L498.5,411.2 L500.5,411.4 L502.5,411.8 L504.5,412.2 L506.5,412.7 L508.5,413.2 L510.5,413.6 L512.5,414.1 L514.5,414.5 L516.5,414.9 L518.5,415.2 L520.5,415.5 L522.5,415.7 L524.5,415.9 L526.5,416.1 L528.5,416.2 L530.5,416.4 L532.5,416.5 L534.5,416.6 L536.5,416.8 L538.5,416.9 L540.5,417.1 L542.5,417.2 L544.5,417.4 L546.4,417.6 L546.4,419.4 Z" fill="#74EECC" fill-opacity="1.000"/>
<path d="M80.5,387.8 L82.5,387.1 L84.5,386.6 L86.5,386.4 L88.5,386.5 L90.5,386.8 L92.5,387.5 L94.5,388.3 L96.5,389.3 L98.5,390.5 L100.5,391.8 L102.5,393.2 L104.5,394.7 L106.5,396.1 L108.5,397.6 L110.5,399.0 L112.5,400.4 L114.5,401.6 L116.5,402.8 L118.5,403.9 L120.5,404.9 L122.5,405.8 L124.5,406.6 L126.5,407.3 L128.5,408.0 L130.5,408.6 L132.5,409.1 L134.5,409.6 L136.5,410.1 L138.5,410.5 L140.5,410.9 L142.5,411.2 L144.5,411.6 L146.5,411.9 L148.5,412.2 L150.5,412.5 L152.5,412.8 L154.5,413.1 L156.5,413.3 L158.5,413.6 L160.5,413.8 L162.5,414.0 L164.5,414.2 L166.5,414.4 L168.5,414.6 L170.5,414.7 L172.5,414.9 L174.5,415.0 L176.5,415.1 L178.5,415.2 L180.5,415.3 L182.5,415.4 L184.5,415.5 L186.5,415.6 L188.5,415.6 L190.5,415.7 L192.5,415.7 L194.5,415.8 L196.5,415.8 L198.5,415.8 L200.5,415.8 L202.5,415.9 L204.5,415.9 L206.5,415.9 L208.5,415.9 L210.5,415.9 L212.5,415.9 L214.5,415.9 L216.5,415.9 L218.5,415.9 L220.5,415.9 L222.5,415.9 L224.5,415.9 L226.5,415.9 L228.5,415.9 L230.5,415.9 L232.5,415.9 L234.5,415.9 L236.5,415.9 L238.5,415.9 L240.5,415.9 L242.5,415.9 L244.5,415.9 L246.5,415.9 L248.5,415.9 L250.5,415.9 L252.5,415.9 L254.5,415.9 L256.5,415.9 L258.5,415.9 L260.5,415.9 L262.5,415.9 L264.5,415.9 L266.5,415.9 L268.5,415.9 L270.5,415.9 L272.5,415.9 L274.5,415.9 L276.5,415.9 L278.5,415.9 L280.5,415.9 L282.5,415.9 L284.5,415.9 L286.5,415.9 L288.5,415.9 L290.5,415.9 L292.5,415.9 L294.5,415.9 L296.5,415.9 L298.5,415.9 L300.5,415.9 L302.5,415.9 L304.5,415.9 L306.5,415.9 L308.5,415.8 L310.5,415.8 L312.5,415.8 L314.5,415.7 L316.5,415.7 L318.5,415.7 L320.5,415.6 L322.5,415.6 L324.5,415.5 L326.5,415.4 L328.5,415.3 L330.5,415.2 L332.5,415.1 L334.5,415.0 L336.5,414.9 L338.5,414.8 L340.5,414.6 L342.5,414.5 L344.5,414.3 L346.5,414.2 L348.5,414.0 L350.5,413.8 L352.5,413.6 L354.5,413.4 L356.5,413.2 L358.5,413.0 L360.5,412.9 L362.5,412.7 L364.5,412.5 L366.5,412.3 L368.5,412.2 L370.5,412.0 L372.5,411.9 L374.5,411.7 L376.5,411.6 L378.5,411.6 L380.5,411.5 L382.5,411.5 L384.5,411.5 L386.5,411.5 L388.5,411.5 L390.5,411.5 L392.5,411.6 L394.5,411.7 L396.5,411.8 L398.5,411.9 L400.5,412.1 L402.5,412.2 L404.5,412.4 L406.5,412.6 L408.5,412.8 L410.5,413.0 L412.5,413.1 L414.5,413.3 L416.5,413.5 L418.5,413.7 L420.5,413.9 L422.5,414.1 L424.5,414.3 L426.5,414.4 L428.5,414.6 L430.5,414.7 L432.5,414.9 L434.5,415.0 L436.5,415.1 L438.5,415.2 L440.5,415.3 L442.5,415.4 L444.5,415.5 L446.5,415.5 L448.5,415.6 L450.5,415.6 L452.5,415.7 L454.5,415.7 L456.5,415.7 L458.5,415.7 L460.5,415.7 L462.5,415.7 L464.5,415.6 L466.5,415.5 L468.5,415.3 L470.5,415.1 L472.5,414.9 L474.5,414.6 L476.5,414.2 L478.5,413.8 L480.5,413.3 L482.5,412.9 L484.5,412.4 L486.5,411.9 L488.5,411.6 L490.5,411.3 L492.5,411.1 L494.5,411.0 L496.5,411.0 L498.5,411.2 L500.5,411.4 L502.5,411.8 L504.5,412.2 L506.5,412.7 L508.5,413.2 L510.5,413.6 L512.5,414.1 L514.5,414.5 L516.5,414.9 L518.5,415.2 L520.5,415.5 L522.5,415.7 L524.5,415.9 L526.5,416.1 L528.5,416.2 L530.5,416.4 L532.5,416.5 L534.5,416.6 L536.5,416.8 L538.5,416.9 L540.5,417.1 L542.5,417.2 L544.5,417.4 L546.4,417.6" fill="none" stroke="#fff" stroke-width="1.30"/>
<path d="M468.0,562.3 L468.0,561.3 L470.0,560.3 L472.0,559.3 L474.0,558.4 L476.0,557.4 L478.0,556.5 L480.0,555.6 L482.0,554.7 L484.0,553.8 L486.0,553.0 L488.0,552.2 L490.0,551.4 L492.0,550.6 L494.0,549.9 L496.0,549.1 L498.0,548.4 L500.0,547.7 L502.0,547.0 L504.0,546.2 L506.0,545.4 L508.0,544.6 L510.0,543.8 L512.0,542.8 L514.0,541.7 L516.0,540.7 L518.0,539.6 L520.0,538.5 L522.0,537.5 L524.0,536.6 L526.0,535.8 L528.0,535.0 L530.0,534.4 L532.0,533.8 L534.0,533.2 L536.0,532.6 L538.0,531.9 L540.0,531.3 L542.0,530.5 L544.0,529.7 L546.0,528.9 L548.0,528.0 L548.0,562.3 Z" fill="#5E5E5E" fill-opacity="1.000"/>
<path d="M468.0,561.3 L470.0,560.3 L472.0,559.3 L474.0,558.4 L476.0,557.4 L478.0,556.5 L480.0,555.6 L482.0,554.7 L484.0,553.8 L486.0,553.0 L488.0,552.2 L490.0,551.4 L492.0,550.6 L494.0,549.9 L496.0,549.1 L498.0,548.4 L500.0,547.7 L502.0,547.0 L504.0,546.2 L506.0,545.4 L508.0,544.6 L510.0,543.8 L512.0,542.8 L514.0,541.7 L516.0,540.7 L518.0,539.6 L520.0,538.5 L522.0,537.5 L524.0,536.6 L526.0,535.8 L528.0,535.0 L530.0,534.4 L532.0,533.8 L534.0,533.2 L536.0,532.6 L538.0,531.9 L540.0,531.3 L542.0,530.5 L544.0,529.7 L546.0,528.9 L548.0,528.0" fill="none" stroke="#fff" stroke-width="1.30"/>
<path d="M442.0,562.3 L442.0,561.7 L444.0,561.4 L446.0,561.1 L448.0,560.9 L450.0,560.6 L452.0,560.3 L454.0,560.0 L456.0,559.8 L458.0,559.5 L460.0,559.2 L462.0,559.0 L464.0,558.7 L466.0,558.4 L468.0,558.2 L470.0,557.9 L472.0,557.7 L474.0,557.4 L476.0,557.1 L478.0,556.9 L480.0,556.6 L482.0,556.3 L484.0,556.1 L486.0,555.8 L488.0,555.5 L490.0,555.3 L492.0,555.1 L494.0,554.8 L496.0,554.6 L498.0,554.4 L500.0,554.3 L502.0,554.1 L504.0,554.0 L506.0,553.9 L508.0,553.7 L510.0,553.6 L512.0,553.5 L514.0,553.4 L516.0,553.3 L518.0,553.2 L520.0,553.1 L522.0,553.0 L524.0,552.9 L526.0,552.8 L528.0,552.7 L530.0,552.7 L532.0,552.6 L534.0,552.5 L536.0,552.5 L538.0,552.4 L540.0,552.4 L542.0,552.3 L544.0,552.3 L546.0,552.3 L548.0,552.3 L548.0,562.3 Z" fill="#A9A9F3" fill-opacity="0.800"/>
<path d="M442.0,561.7 L444.0,561.4 L446.0,561.1 L448.0,560.9 L450.0,560.6 L452.0,560.3 L454.0,560.0 L456.0,559.8 L458.0,559.5 L460.0,559.2 L462.0,559.0 L464.0,558.7 L466.0,558.4 L468.0,558.2 L470.0,557.9 L472.0,557.7 L474.0,557.4 L476.0,557.1 L478.0,556.9 L480.0,556.6 L482.0,556.3 L484.0,556.1 L486.0,555.8 L488.0,555.5 L490.0,555.3 L492.0,555.1 L494.0,554.8 L496.0,554.6 L498.0,554.4 L500.0,554.3 L502.0,554.1 L504.0,554.0 L506.0,553.9 L508.0,553.7 L510.0,553.6 L512.0,553.5 L514.0,553.4 L516.0,553.3 L518.0,553.2 L520.0,553.1 L522.0,553.0 L524.0,552.9 L526.0,552.8 L528.0,552.7 L530.0,552.7 L532.0,552.6 L534.0,552.5 L536.0,552.5 L538.0,552.4 L540.0,552.4 L542.0,552.3 L544.0,552.3 L546.0,552.3 L548.0,552.3" fill="none" stroke="#fff" stroke-width="1.30"/>
<path d="M230.0,605.6 L230.0,605.1 L232.0,604.9 L234.0,604.6 L236.0,604.3 L238.0,604.0 L240.0,603.7 L242.0,603.3 L244.0,603.0 L246.0,602.8 L248.0,602.6 L250.0,602.6 L252.0,602.6 L254.0,602.8 L256.0,603.0 L258.0,603.3 L260.0,603.7 L262.0,604.0 L264.0,604.3 L266.0,604.6 L268.0,604.9 L270.0,605.1 L270.0,605.6 Z" fill="#5E5E5E" fill-opacity="1.000"/>
<path d="M230.0,605.1 L232.0,604.9 L234.0,604.6 L236.0,604.3 L238.0,604.0 L240.0,603.7 L242.0,603.3 L244.0,603.0 L246.0,602.8 L248.0,602.6 L250.0,602.6 L252.0,602.6 L254.0,602.8 L256.0,603.0 L258.0,603.3 L260.0,603.7 L262.0,604.0 L264.0,604.3 L266.0,604.6 L268.0,604.9 L270.0,605.1" fill="none" stroke="#fff" stroke-width="1.30"/>
<path d="M314.0,605.6 L314.0,605.2 L316.0,604.9 L318.0,604.7 L320.0,604.5 L322.0,604.3 L324.0,604.1 L326.0,604.0 L328.0,603.8 L330.0,603.6 L332.0,603.4 L334.0,603.2 L336.0,603.0 L338.0,602.8 L340.0,602.6 L342.0,602.4 L344.0,602.2 L346.0,602.0 L348.0,601.9 L350.0,601.7 L352.0,601.5 L354.0,601.4 L356.0,601.3 L358.0,601.2 L360.0,601.1 L362.0,601.0 L364.0,600.9 L366.0,600.9 L368.0,600.8 L370.0,600.7 L372.0,600.7 L374.0,600.6 L376.0,600.6 L378.0,600.6 L380.0,600.6 L382.0,600.6 L384.0,600.6 L386.0,600.7 L388.0,600.7 L390.0,600.8 L392.0,600.9 L394.0,601.0 L396.0,601.1 L398.0,601.3 L400.0,601.4 L402.0,601.5 L404.0,601.7 L406.0,601.8 L408.0,601.9 L410.0,602.1 L412.0,602.2 L414.0,602.4 L416.0,602.5 L418.0,602.7 L420.0,602.8 L422.0,603.0 L424.0,603.2 L426.0,603.3 L428.0,603.5 L430.0,603.7 L432.0,603.9 L434.0,604.1 L436.0,604.3 L438.0,604.6 L440.0,604.8 L442.0,605.0 L444.0,605.2 L444.0,605.6 Z" fill="#ABABF6" fill-opacity="1.000"/>
<path d="M314.0,605.2 L316.0,604.9 L318.0,604.7 L320.0,604.5 L322.0,604.3 L324.0,604.1 L326.0,604.0 L328.0,603.8 L330.0,603.6 L332.0,603.4 L334.0,603.2 L336.0,603.0 L338.0,602.8 L340.0,602.6 L342.0,602.4 L344.0,602.2 L346.0,602.0 L348.0,601.9 L350.0,601.7 L352.0,601.5 L354.0,601.4 L356.0,601.3 L358.0,601.2 L360.0,601.1 L362.0,601.0 L364.0,600.9 L366.0,600.9 L368.0,600.8 L370.0,600.7 L372.0,600.7 L374.0,600.6 L376.0,600.6 L378.0,600.6 L380.0,600.6 L382.0,600.6 L384.0,600.6 L386.0,600.7 L388.0,600.7 L390.0,600.8 L392.0,600.9 L394.0,601.0 L396.0,601.1 L398.0,601.3 L400.0,601.4 L402.0,601.5 L404.0,601.7 L406.0,601.8 L408.0,601.9 L410.0,602.1 L412.0,602.2 L414.0,602.4 L416.0,602.5 L418.0,602.7 L420.0,602.8 L422.0,603.0 L424.0,603.2 L426.0,603.3 L428.0,603.5 L430.0,603.7 L432.0,603.9 L434.0,604.1 L436.0,604.3 L438.0,604.6 L440.0,604.8 L442.0,605.0 L444.0,605.2" fill="none" stroke="#fff" stroke-width="1.30"/>
<path d="M505.0,605.6 L505.0,605.2 L507.0,605.0 L509.0,604.8 L511.0,604.5 L513.0,604.3 L515.0,604.0 L517.0,603.7 L519.0,603.4 L521.0,603.3 L523.0,603.1 L525.0,603.1 L527.0,603.1 L529.0,603.3 L531.0,603.4 L533.0,603.7 L535.0,604.0 L537.0,604.3 L539.0,604.5 L541.0,604.8 L543.0,605.0 L545.0,605.2 L545.0,605.6 Z" fill="#5E5E5E" fill-opacity="1.000"/>
<path d="M505.0,605.2 L507.0,605.0 L509.0,604.8 L511.0,604.5 L513.0,604.3 L515.0,604.0 L517.0,603.7 L519.0,603.4 L521.0,603.3 L523.0,603.1 L525.0,603.1 L527.0,603.1 L529.0,603.3 L531.0,603.4 L533.0,603.7 L535.0,604.0 L537.0,604.3 L539.0,604.5 L541.0,604.8 L543.0,605.0 L545.0,605.2" fill="none" stroke="#fff" stroke-width="1.30"/>
<path d="M82.0,648.9 L82.0,619.9 L84.0,619.9 L86.0,620.0 L88.0,620.2 L90.0,620.6 L92.0,621.1 L94.0,621.7 L96.0,622.4 L98.0,623.2 L100.0,624.1 L102.0,625.0 L104.0,625.9 L106.0,626.9 L108.0,627.9 L110.0,628.8 L112.0,629.8 L114.0,630.7 L116.0,631.6 L118.0,632.4 L120.0,633.2 L122.0,633.9 L124.0,634.6 L126.0,635.2 L128.0,635.8 L130.0,636.3 L132.0,636.8 L134.0,637.2 L136.0,637.5 L138.0,637.8 L140.0,638.1 L142.0,638.3 L144.0,638.5 L146.0,638.7 L148.0,638.8 L150.0,638.9 L152.0,639.0 L154.0,639.1 L156.0,639.1 L158.0,639.2 L160.0,639.2 L162.0,639.3 L164.0,639.3 L166.0,639.3 L168.0,639.3 L170.0,639.3 L172.0,639.3 L174.0,639.3 L176.0,639.3 L178.0,639.3 L180.0,639.4 L182.0,639.4 L184.0,639.4 L186.0,639.4 L188.0,639.4 L190.0,639.4 L192.0,639.4 L194.0,639.4 L196.0,639.4 L198.0,639.4 L200.0,639.4 L202.0,639.4 L204.0,639.4 L206.0,639.4 L208.0,639.4 L210.0,639.4 L212.0,639.4 L214.0,639.4 L216.0,639.4 L218.0,639.4 L220.0,639.4 L222.0,639.4 L224.0,639.4 L226.0,639.4 L228.0,639.4 L230.0,639.4 L232.0,639.4 L234.0,639.4 L236.0,639.4 L238.0,639.4 L240.0,639.4 L242.0,639.4 L244.0,639.4 L246.0,639.4 L248.0,639.4 L250.0,639.4 L252.0,639.4 L254.0,639.4 L256.0,639.5 L258.0,639.5 L260.0,639.5 L262.0,639.6 L264.0,639.6 L266.0,639.7 L268.0,639.8 L270.0,639.9 L272.0,640.1 L274.0,640.3 L276.0,640.5 L278.0,640.8 L280.0,641.1 L282.0,641.5 L284.0,641.9 L286.0,642.4 L288.0,642.9 L290.0,643.5 L292.0,644.1 L294.0,644.7 L296.0,645.3 L296.0,648.9 Z" fill="#ABABF6" fill-opacity="1.000"/>
<path d="M82.0,619.9 L84.0,619.9 L86.0,620.0 L88.0,620.2 L90.0,620.6 L92.0,621.1 L94.0,621.7 L96.0,622.4 L98.0,623.2 L100.0,624.1 L102.0,625.0 L104.0,625.9 L106.0,626.9 L108.0,627.9 L110.0,628.8 L112.0,629.8 L114.0,630.7 L116.0,631.6 L118.0,632.4 L120.0,633.2 L122.0,633.9 L124.0,634.6 L126.0,635.2 L128.0,635.8 L130.0,636.3 L132.0,636.8 L134.0,637.2 L136.0,637.5 L138.0,637.8 L140.0,638.1 L142.0,638.3 L144.0,638.5 L146.0,638.7 L148.0,638.8 L150.0,638.9 L152.0,639.0 L154.0,639.1 L156.0,639.1 L158.0,639.2 L160.0,639.2 L162.0,639.3 L164.0,639.3 L166.0,639.3 L168.0,639.3 L170.0,639.3 L172.0,639.3 L174.0,639.3 L176.0,639.3 L178.0,639.3 L180.0,639.4 L182.0,639.4 L184.0,639.4 L186.0,639.4 L188.0,639.4 L190.0,639.4 L192.0,639.4 L194.0,639.4 L196.0,639.4 L198.0,639.4 L200.0,639.4 L202.0,639.4 L204.0,639.4 L206.0,639.4 L208.0,639.4 L210.0,639.4 L212.0,639.4 L214.0,639.4 L216.0,639.4 L218.0,639.4 L220.0,639.4 L222.0,639.4 L224.0,639.4 L226.0,639.4 L228.0,639.4 L230.0,639.4 L232.0,639.4 L234.0,639.4 L236.0,639.4 L238.0,639.4 L240.0,639.4 L242.0,639.4 L244.0,639.4 L246.0,639.4 L248.0,639.4 L250.0,639.4 L252.0,639.4 L254.0,639.4 L256.0,639.5 L258.0,639.5 L260.0,639.5 L262.0,639.6 L264.0,639.6 L266.0,639.7 L268.0,639.8 L270.0,639.9 L272.0,640.1 L274.0,640.3 L276.0,640.5 L278.0,640.8 L280.0,641.1 L282.0,641.5 L284.0,641.9 L286.0,642.4 L288.0,642.9 L290.0,643.5 L292.0,644.1 L294.0,644.7 L296.0,645.3" fill="none" stroke="#fff" stroke-width="1.30"/>
<path d="M250.0,648.9 L250.0,648.0 L252.0,647.0 L254.0,646.0 L256.0,645.0 L258.0,644.0 L260.0,642.9 L262.0,641.6 L264.0,640.3 L266.0,638.9 L268.0,637.6 L270.0,636.6 L272.0,635.8 L274.0,635.1 L276.0,634.5 L278.0,634.0 L280.0,633.5 L282.0,633.0 L284.0,632.6 L286.0,632.1 L288.0,631.7 L290.0,631.3 L292.0,630.8 L294.0,630.3 L296.0,629.9 L298.0,629.5 L300.0,629.1 L302.0,628.8 L304.0,628.5 L306.0,628.3 L308.0,628.3 L310.0,628.3 L312.0,628.3 L314.0,628.4 L316.0,628.6 L318.0,628.7 L320.0,628.9 L322.0,629.1 L324.0,629.4 L326.0,629.6 L328.0,629.9 L330.0,630.2 L332.0,630.4 L334.0,630.7 L336.0,631.0 L338.0,631.3 L340.0,631.7 L342.0,632.1 L344.0,632.6 L346.0,633.1 L348.0,633.6 L350.0,634.2 L352.0,634.7 L354.0,635.3 L356.0,635.8 L358.0,636.3 L360.0,636.8 L362.0,637.3 L364.0,637.7 L366.0,638.2 L368.0,638.6 L370.0,639.0 L372.0,639.5 L374.0,639.9 L376.0,640.3 L378.0,640.7 L380.0,641.1 L382.0,641.5 L384.0,641.9 L386.0,642.3 L388.0,642.6 L390.0,643.0 L392.0,643.3 L394.0,643.7 L396.0,644.0 L398.0,644.3 L400.0,644.6 L402.0,644.9 L404.0,645.2 L406.0,645.5 L408.0,645.8 L410.0,646.1 L412.0,646.3 L414.0,646.6 L416.0,646.9 L418.0,647.1 L420.0,647.4 L422.0,647.7 L424.0,647.9 L426.0,648.2 L428.0,648.4 L428.0,648.9 Z" fill="#5E5E5E" fill-opacity="1.000"/>
<path d="M250.0,648.0 L252.0,647.0 L254.0,646.0 L256.0,645.0 L258.0,644.0 L260.0,642.9 L262.0,641.6 L264.0,640.3 L266.0,638.9 L268.0,637.6 L270.0,636.6 L272.0,635.8 L274.0,635.1 L276.0,634.5 L278.0,634.0 L280.0,633.5 L282.0,633.0 L284.0,632.6 L286.0,632.1 L288.0,631.7 L290.0,631.3 L292.0,630.8 L294.0,630.3 L296.0,629.9 L298.0,629.5 L300.0,629.1 L302.0,628.8 L304.0,628.5 L306.0,628.3 L308.0,628.3 L310.0,628.3 L312.0,628.3 L314.0,628.4 L316.0,628.6 L318.0,628.7 L320.0,628.9 L322.0,629.1 L324.0,629.4 L326.0,629.6 L328.0,629.9 L330.0,630.2 L332.0,630.4 L334.0,630.7 L336.0,631.0 L338.0,631.3 L340.0,631.7 L342.0,632.1 L344.0,632.6 L346.0,633.1 L348.0,633.6 L350.0,634.2 L352.0,634.7 L354.0,635.3 L356.0,635.8 L358.0,636.3 L360.0,636.8 L362.0,637.3 L364.0,637.7 L366.0,638.2 L368.0,638.6 L370.0,639.0 L372.0,639.5 L374.0,639.9 L376.0,640.3 L378.0,640.7 L380.0,641.1 L382.0,641.5 L384.0,641.9 L386.0,642.3 L388.0,642.6 L390.0,643.0 L392.0,643.3 L394.0,643.7 L396.0,644.0 L398.0,644.3 L400.0,644.6 L402.0,644.9 L404.0,645.2 L406.0,645.5 L408.0,645.8 L410.0,646.1 L412.0,646.3 L414.0,646.6 L416.0,646.9 L418.0,647.1 L420.0,647.4 L422.0,647.7 L424.0,647.9 L426.0,648.2 L428.0,648.4" fill="none" stroke="#fff" stroke-width="1.30"/>
<path d="M421.0,648.9 L421.0,648.3 L423.0,648.2 L425.0,648.0 L427.0,647.8 L429.0,647.6 L431.0,647.4 L433.0,647.1 L435.0,646.9 L437.0,646.7 L439.0,646.5 L441.0,646.2 L443.0,646.0 L445.0,645.7 L447.0,645.5 L449.0,645.2 L451.0,644.9 L453.0,644.7 L455.0,644.4 L457.0,644.1 L459.0,643.8 L461.0,643.5 L463.0,643.2 L465.0,642.9 L467.0,642.5 L469.0,642.2 L471.0,641.8 L473.0,641.4 L475.0,641.0 L477.0,640.6 L479.0,640.2 L481.0,639.9 L483.0,639.6 L485.0,639.4 L487.0,639.2 L489.0,639.0 L491.0,638.8 L493.0,638.6 L495.0,638.5 L497.0,638.4 L499.0,638.4 L501.0,638.4 L503.0,638.4 L505.0,638.4 L507.0,638.4 L509.0,638.4 L511.0,638.4 L513.0,638.5 L515.0,638.5 L517.0,638.5 L519.0,638.6 L521.0,638.6 L523.0,638.7 L525.0,638.7 L527.0,638.8 L529.0,638.8 L531.0,638.9 L533.0,639.0 L535.0,639.0 L537.0,639.1 L539.0,639.3 L541.0,639.4 L543.0,639.5 L545.0,639.7 L547.0,639.8 L548.0,639.9 L548.0,648.9 Z" fill="#ABABF6" fill-opacity="1.000"/>
<path d="M421.0,648.3 L423.0,648.2 L425.0,648.0 L427.0,647.8 L429.0,647.6 L431.0,647.4 L433.0,647.1 L435.0,646.9 L437.0,646.7 L439.0,646.5 L441.0,646.2 L443.0,646.0 L445.0,645.7 L447.0,645.5 L449.0,645.2 L451.0,644.9 L453.0,644.7 L455.0,644.4 L457.0,644.1 L459.0,643.8 L461.0,643.5 L463.0,643.2 L465.0,642.9 L467.0,642.5 L469.0,642.2 L471.0,641.8 L473.0,641.4 L475.0,641.0 L477.0,640.6 L479.0,640.2 L481.0,639.9 L483.0,639.6 L485.0,639.4 L487.0,639.2 L489.0,639.0 L491.0,638.8 L493.0,638.6 L495.0,638.5 L497.0,638.4 L499.0,638.4 L501.0,638.4 L503.0,638.4 L505.0,638.4 L507.0,638.4 L509.0,638.4 L511.0,638.4 L513.0,638.5 L515.0,638.5 L517.0,638.5 L519.0,638.6 L521.0,638.6 L523.0,638.7 L525.0,638.7 L527.0,638.8 L529.0,638.8 L531.0,638.9 L533.0,639.0 L535.0,639.0 L537.0,639.1 L539.0,639.3 L541.0,639.4 L543.0,639.5 L545.0,639.7 L547.0,639.8 L548.0,639.9" fill="none" stroke="#fff" stroke-width="1.30"/>
<path d="M82.0,670.5 L82.0,626.4 L84.0,626.2 L86.0,626.0 L88.0,626.0 L90.0,626.2 L92.0,626.4 L94.0,626.8 L96.0,627.2 L98.0,627.8 L100.0,628.4 L102.0,629.1 L104.0,629.9 L106.0,630.8 L108.0,631.7 L110.0,632.6 L112.0,633.6 L114.0,634.5 L116.0,635.5 L118.0,636.5 L120.0,637.5 L122.0,638.4 L124.0,639.4 L126.0,640.3 L128.0,641.1 L130.0,642.0 L132.0,642.8 L134.0,643.5 L136.0,644.2 L138.0,644.9 L140.0,645.5 L142.0,646.0 L144.0,646.6 L146.0,647.0 L148.0,647.4 L150.0,647.8 L152.0,648.2 L154.0,648.5 L156.0,648.8 L158.0,649.0 L160.0,649.2 L162.0,649.4 L164.0,649.6 L166.0,649.7 L168.0,649.8 L170.0,649.9 L172.0,650.0 L174.0,650.1 L176.0,650.2 L178.0,650.2 L180.0,650.3 L182.0,650.3 L184.0,650.4 L186.0,650.4 L188.0,650.5 L190.0,650.5 L192.0,650.5 L194.0,650.6 L196.0,650.6 L198.0,650.6 L200.0,650.7 L202.0,650.7 L204.0,650.7 L206.0,650.8 L208.0,650.8 L210.0,650.9 L212.0,650.9 L214.0,651.0 L216.0,651.0 L218.0,651.1 L220.0,651.2 L222.0,651.2 L224.0,651.3 L226.0,651.4 L228.0,651.5 L230.0,651.6 L232.0,651.7 L234.0,651.8 L236.0,651.9 L238.0,652.1 L240.0,652.2 L242.0,652.3 L244.0,652.5 L246.0,652.6 L248.0,652.8 L250.0,653.0 L252.0,653.1 L254.0,653.3 L256.0,653.5 L258.0,653.8 L260.0,654.0 L262.0,654.2 L264.0,654.5 L266.0,654.7 L268.0,655.0 L270.0,655.2 L272.0,655.5 L274.0,655.8 L276.0,656.1 L278.0,656.4 L280.0,656.7 L282.0,657.1 L284.0,657.4 L286.0,657.7 L288.0,658.1 L290.0,658.4 L292.0,658.8 L294.0,659.2 L296.0,659.5 L298.0,659.9 L300.0,660.3 L302.0,660.6 L304.0,661.0 L306.0,661.3 L308.0,661.7 L310.0,662.1 L312.0,662.4 L314.0,662.8 L316.0,663.1 L318.0,663.4 L320.0,663.8 L322.0,664.1 L324.0,664.4 L326.0,664.7 L328.0,665.0 L330.0,665.3 L332.0,665.5 L334.0,665.8 L336.0,666.1 L338.0,666.3 L340.0,666.5 L342.0,666.8 L344.0,667.0 L346.0,667.2 L348.0,667.4 L350.0,667.6 L352.0,667.7 L354.0,667.9 L356.0,668.1 L358.0,668.2 L360.0,668.3 L362.0,668.5 L364.0,668.6 L366.0,668.7 L368.0,668.8 L370.0,668.9 L372.0,669.0 L374.0,669.1 L376.0,669.2 L378.0,669.3 L380.0,669.4 L382.0,669.5 L384.0,669.5 L385.0,669.6 L385.0,670.5 Z" fill="#6464EE" fill-opacity="1.000"/>
<path d="M82.0,626.4 L84.0,626.2 L86.0,626.0 L88.0,626.0 L90.0,626.2 L92.0,626.4 L94.0,626.8 L96.0,627.2 L98.0,627.8 L100.0,628.4 L102.0,629.1 L104.0,629.9 L106.0,630.8 L108.0,631.7 L110.0,632.6 L112.0,633.6 L114.0,634.5 L116.0,635.5 L118.0,636.5 L120.0,637.5 L122.0,638.4 L124.0,639.4 L126.0,640.3 L128.0,641.1 L130.0,642.0 L132.0,642.8 L134.0,643.5 L136.0,644.2 L138.0,644.9 L140.0,645.5 L142.0,646.0 L144.0,646.6 L146.0,647.0 L148.0,647.4 L150.0,647.8 L152.0,648.2 L154.0,648.5 L156.0,648.8 L158.0,649.0 L160.0,649.2 L162.0,649.4 L164.0,649.6 L166.0,649.7 L168.0,649.8 L170.0,649.9 L172.0,650.0 L174.0,650.1 L176.0,650.2 L178.0,650.2 L180.0,650.3 L182.0,650.3 L184.0,650.4 L186.0,650.4 L188.0,650.5 L190.0,650.5 L192.0,650.5 L194.0,650.6 L196.0,650.6 L198.0,650.6 L200.0,650.7 L202.0,650.7 L204.0,650.7 L206.0,650.8 L208.0,650.8 L210.0,650.9 L212.0,650.9 L214.0,651.0 L216.0,651.0 L218.0,651.1 L220.0,651.2 L222.0,651.2 L224.0,651.3 L226.0,651.4 L228.0,651.5 L230.0,651.6 L232.0,651.7 L234.0,651.8 L236.0,651.9 L238.0,652.1 L240.0,652.2 L242.0,652.3 L244.0,652.5 L246.0,652.6 L248.0,652.8 L250.0,653.0 L252.0,653.1 L254.0,653.3 L256.0,653.5 L258.0,653.8 L260.0,654.0 L262.0,654.2 L264.0,654.5 L266.0,654.7 L268.0,655.0 L270.0,655.2 L272.0,655.5 L274.0,655.8 L276.0,656.1 L278.0,656.4 L280.0,656.7 L282.0,657.1 L284.0,657.4 L286.0,657.7 L288.0,658.1 L290.0,658.4 L292.0,658.8 L294.0,659.2 L296.0,659.5 L298.0,659.9 L300.0,660.3 L302.0,660.6 L304.0,661.0 L306.0,661.3 L308.0,661.7 L310.0,662.1 L312.0,662.4 L314.0,662.8 L316.0,663.1 L318.0,663.4 L320.0,663.8 L322.0,664.1 L324.0,664.4 L326.0,664.7 L328.0,665.0 L330.0,665.3 L332.0,665.5 L334.0,665.8 L336.0,666.1 L338.0,666.3 L340.0,666.5 L342.0,666.8 L344.0,667.0 L346.0,667.2 L348.0,667.4 L350.0,667.6 L352.0,667.7 L354.0,667.9 L356.0,668.1 L358.0,668.2 L360.0,668.3 L362.0,668.5 L364.0,668.6 L366.0,668.7 L368.0,668.8 L370.0,668.9 L372.0,669.0 L374.0,669.1 L376.0,669.2 L378.0,669.3 L380.0,669.4 L382.0,669.5 L384.0,669.5 L385.0,669.6" fill="none" stroke="#fff" stroke-width="1.30"/>
<path d="M398.0,670.5 L398.0,670.1 L400.0,669.7 L402.0,669.3 L404.0,668.9 L406.0,668.5 L408.0,668.2 L410.0,668.0 L412.0,667.8 L414.0,667.6 L416.0,667.4 L418.0,667.2 L420.0,667.0 L422.0,666.8 L424.0,666.6 L426.0,666.5 L428.0,666.3 L430.0,666.2 L432.0,666.1 L434.0,666.0 L436.0,666.0 L438.0,665.9 L440.0,665.9 L442.0,665.9 L444.0,665.9 L446.0,665.9 L448.0,665.9 L450.0,665.9 L452.0,665.9 L454.0,665.9 L456.0,665.9 L458.0,665.9 L460.0,665.9 L462.0,665.9 L464.0,665.9 L466.0,665.9 L468.0,665.9 L470.0,665.9 L472.0,665.9 L474.0,665.9 L476.0,665.9 L478.0,665.9 L480.0,665.9 L482.0,665.9 L484.0,665.9 L486.0,665.9 L488.0,665.9 L490.0,666.0 L492.0,666.0 L494.0,666.0 L496.0,666.1 L498.0,666.1 L500.0,666.1 L502.0,666.2 L504.0,666.2 L506.0,666.2 L508.0,666.3 L510.0,666.3 L512.0,666.4 L514.0,666.4 L516.0,666.4 L518.0,666.5 L520.0,666.5 L522.0,666.5 L524.0,666.6 L526.0,666.6 L528.0,666.6 L530.0,666.6 L532.0,666.7 L534.0,666.7 L536.0,666.7 L538.0,666.8 L540.0,666.8 L542.0,666.8 L544.0,666.8 L546.0,666.9 L548.0,666.9 L548.0,670.5 Z" fill="#262636" fill-opacity="1.000"/>
<path d="M398.0,670.1 L400.0,669.7 L402.0,669.3 L404.0,668.9 L406.0,668.5 L408.0,668.2 L410.0,668.0 L412.0,667.8 L414.0,667.6 L416.0,667.4 L418.0,667.2 L420.0,667.0 L422.0,666.8 L424.0,666.6 L426.0,666.5 L428.0,666.3 L430.0,666.2 L432.0,666.1 L434.0,666.0 L436.0,666.0 L438.0,665.9 L440.0,665.9 L442.0,665.9 L444.0,665.9 L446.0,665.9 L448.0,665.9 L450.0,665.9 L452.0,665.9 L454.0,665.9 L456.0,665.9 L458.0,665.9 L460.0,665.9 L462.0,665.9 L464.0,665.9 L466.0,665.9 L468.0,665.9 L470.0,665.9 L472.0,665.9 L474.0,665.9 L476.0,665.9 L478.0,665.9 L480.0,665.9 L482.0,665.9 L484.0,665.9 L486.0,665.9 L488.0,665.9 L490.0,666.0 L492.0,666.0 L494.0,666.0 L496.0,666.1 L498.0,666.1 L500.0,666.1 L502.0,666.2 L504.0,666.2 L506.0,666.2 L508.0,666.3 L510.0,666.3 L512.0,666.4 L514.0,666.4 L516.0,666.4 L518.0,666.5 L520.0,666.5 L522.0,666.5 L524.0,666.6 L526.0,666.6 L528.0,666.6 L530.0,666.6 L532.0,666.7 L534.0,666.7 L536.0,666.7 L538.0,666.8 L540.0,666.8 L542.0,666.8 L544.0,666.8 L546.0,666.9 L548.0,666.9" fill="none" stroke="#fff" stroke-width="1.30"/>
<path d="M152.0,692.1 L152.0,691.7 L154.0,691.5 L156.0,691.4 L158.0,691.2 L160.0,691.0 L162.0,690.9 L164.0,690.7 L166.0,690.5 L168.0,690.4 L170.0,690.3 L172.0,690.2 L174.0,690.1 L176.0,690.1 L178.0,690.0 L180.0,690.0 L182.0,690.0 L184.0,690.0 L186.0,690.0 L188.0,690.0 L190.0,690.0 L192.0,690.0 L194.0,689.9 L196.0,689.9 L198.0,689.9 L200.0,689.9 L202.0,689.9 L204.0,689.9 L206.0,689.9 L208.0,689.9 L210.0,689.9 L212.0,689.9 L214.0,689.9 L216.0,689.9 L218.0,689.9 L220.0,689.9 L222.0,689.9 L224.0,689.9 L226.0,689.9 L228.0,689.9 L230.0,689.9 L232.0,689.9 L234.0,689.9 L236.0,689.9 L238.0,689.8 L240.0,689.8 L242.0,689.8 L244.0,689.8 L246.0,689.7 L248.0,689.7 L250.0,689.6 L252.0,689.6 L254.0,689.5 L256.0,689.4 L258.0,689.4 L260.0,689.2 L262.0,689.1 L264.0,689.0 L266.0,688.8 L268.0,688.7 L270.0,688.5 L272.0,688.3 L274.0,688.0 L276.0,687.7 L278.0,687.4 L280.0,687.1 L282.0,686.8 L284.0,686.4 L286.0,686.0 L288.0,685.5 L290.0,685.0 L292.0,684.5 L294.0,684.0 L296.0,683.4 L298.0,682.8 L300.0,682.2 L302.0,681.6 L304.0,680.9 L306.0,680.3 L308.0,679.6 L310.0,678.9 L312.0,678.3 L314.0,677.6 L316.0,676.9 L318.0,676.3 L320.0,675.7 L322.0,675.1 L324.0,674.6 L326.0,674.1 L328.0,673.7 L330.0,673.3 L332.0,672.9 L334.0,672.7 L336.0,672.5 L338.0,672.3 L340.0,672.2 L342.0,672.2 L344.0,672.3 L346.0,672.5 L348.0,672.7 L350.0,672.9 L352.0,673.3 L354.0,673.7 L356.0,674.1 L358.0,674.6 L360.0,675.1 L362.0,675.7 L364.0,676.3 L366.0,676.9 L368.0,677.6 L370.0,678.3 L372.0,678.9 L374.0,679.6 L376.0,680.3 L378.0,680.9 L380.0,681.6 L382.0,682.2 L384.0,682.8 L386.0,683.4 L388.0,684.0 L390.0,684.5 L392.0,685.0 L394.0,685.5 L396.0,686.0 L398.0,686.4 L400.0,686.8 L402.0,687.1 L404.0,687.4 L406.0,687.7 L408.0,688.0 L410.0,688.2 L412.0,688.4 L414.0,688.6 L416.0,688.7 L418.0,688.9 L420.0,689.0 L422.0,689.1 L424.0,689.1 L426.0,689.2 L428.0,689.2 L430.0,689.2 L432.0,689.2 L434.0,689.2 L436.0,689.1 L438.0,689.0 L440.0,689.0 L442.0,688.8 L444.0,688.7 L446.0,688.6 L448.0,688.4 L450.0,688.2 L452.0,688.0 L454.0,687.8 L456.0,687.5 L458.0,687.3 L460.0,687.0 L462.0,686.7 L464.0,686.4 L466.0,686.0 L468.0,685.7 L470.0,685.4 L472.0,685.0 L474.0,684.7 L476.0,684.4 L478.0,684.0 L480.0,683.7 L482.0,683.4 L484.0,683.1 L486.0,682.9 L488.0,682.6 L490.0,682.4 L492.0,682.3 L494.0,682.1 L496.0,682.0 L498.0,682.0 L500.0,681.9 L502.0,682.0 L504.0,682.0 L506.0,682.1 L508.0,682.3 L510.0,682.4 L512.0,682.6 L514.0,682.9 L516.0,683.1 L518.0,683.4 L520.0,683.7 L522.0,684.1 L524.0,684.4 L526.0,684.8 L528.0,685.1 L530.0,685.5 L532.0,685.9 L534.0,686.3 L536.0,686.6 L538.0,687.0 L540.0,687.5 L542.0,687.9 L544.0,688.3 L546.0,688.7 L548.0,689.1 L548.0,692.1 Z" fill="#5E5E5E" fill-opacity="1.000"/>
<path d="M152.0,691.7 L154.0,691.5 L156.0,691.4 L158.0,691.2 L160.0,691.0 L162.0,690.9 L164.0,690.7 L166.0,690.5 L168.0,690.4 L170.0,690.3 L172.0,690.2 L174.0,690.1 L176.0,690.1 L178.0,690.0 L180.0,690.0 L182.0,690.0 L184.0,690.0 L186.0,690.0 L188.0,690.0 L190.0,690.0 L192.0,690.0 L194.0,689.9 L196.0,689.9 L198.0,689.9 L200.0,689.9 L202.0,689.9 L204.0,689.9 L206.0,689.9 L208.0,689.9 L210.0,689.9 L212.0,689.9 L214.0,689.9 L216.0,689.9 L218.0,689.9 L220.0,689.9 L222.0,689.9 L224.0,689.9 L226.0,689.9 L228.0,689.9 L230.0,689.9 L232.0,689.9 L234.0,689.9 L236.0,689.9 L238.0,689.8 L240.0,689.8 L242.0,689.8 L244.0,689.8 L246.0,689.7 L248.0,689.7 L250.0,689.6 L252.0,689.6 L254.0,689.5 L256.0,689.4 L258.0,689.4 L260.0,689.2 L262.0,689.1 L264.0,689.0 L266.0,688.8 L268.0,688.7 L270.0,688.5 L272.0,688.3 L274.0,688.0 L276.0,687.7 L278.0,687.4 L280.0,687.1 L282.0,686.8 L284.0,686.4 L286.0,686.0 L288.0,685.5 L290.0,685.0 L292.0,684.5 L294.0,684.0 L296.0,683.4 L298.0,682.8 L300.0,682.2 L302.0,681.6 L304.0,680.9 L306.0,680.3 L308.0,679.6 L310.0,678.9 L312.0,678.3 L314.0,677.6 L316.0,676.9 L318.0,676.3 L320.0,675.7 L322.0,675.1 L324.0,674.6 L326.0,674.1 L328.0,673.7 L330.0,673.3 L332.0,672.9 L334.0,672.7 L336.0,672.5 L338.0,672.3 L340.0,672.2 L342.0,672.2 L344.0,672.3 L346.0,672.5 L348.0,672.7 L350.0,672.9 L352.0,673.3 L354.0,673.7 L356.0,674.1 L358.0,674.6 L360.0,675.1 L362.0,675.7 L364.0,676.3 L366.0,676.9 L368.0,677.6 L370.0,678.3 L372.0,678.9 L374.0,679.6 L376.0,680.3 L378.0,680.9 L380.0,681.6 L382.0,682.2 L384.0,682.8 L386.0,683.4 L388.0,684.0 L390.0,684.5 L392.0,685.0 L394.0,685.5 L396.0,686.0 L398.0,686.4 L400.0,686.8 L402.0,687.1 L404.0,687.4 L406.0,687.7 L408.0,688.0 L410.0,688.2 L412.0,688.4 L414.0,688.6 L416.0,688.7 L418.0,688.9 L420.0,689.0 L422.0,689.1 L424.0,689.1 L426.0,689.2 L428.0,689.2 L430.0,689.2 L432.0,689.2 L434.0,689.2 L436.0,689.1 L438.0,689.0 L440.0,689.0 L442.0,688.8 L444.0,688.7 L446.0,688.6 L448.0,688.4 L450.0,688.2 L452.0,688.0 L454.0,687.8 L456.0,687.5 L458.0,687.3 L460.0,687.0 L462.0,686.7 L464.0,686.4 L466.0,686.0 L468.0,685.7 L470.0,685.4 L472.0,685.0 L474.0,684.7 L476.0,684.4 L478.0,684.0 L480.0,683.7 L482.0,683.4 L484.0,683.1 L486.0,682.9 L488.0,682.6 L490.0,682.4 L492.0,682.3 L494.0,682.1 L496.0,682.0 L498.0,682.0 L500.0,681.9 L502.0,682.0 L504.0,682.0 L506.0,682.1 L508.0,682.3 L510.0,682.4 L512.0,682.6 L514.0,682.9 L516.0,683.1 L518.0,683.4 L520.0,683.7 L522.0,684.1 L524.0,684.4 L526.0,684.8 L528.0,685.1 L530.0,685.5 L532.0,685.9 L534.0,686.3 L536.0,686.6 L538.0,687.0 L540.0,687.5 L542.0,687.9 L544.0,688.3 L546.0,688.7 L548.0,689.1" fill="none" stroke="#fff" stroke-width="1.30"/>
<path d="M470.0,713.8 L470.0,713.4 L472.0,713.3 L474.0,713.2 L476.0,713.1 L478.0,713.0 L480.0,712.9 L482.0,712.8 L484.0,712.6 L486.0,712.4 L488.0,712.2 L490.0,712.0 L492.0,711.8 L494.0,711.5 L496.0,711.2 L498.0,710.9 L500.0,710.5 L502.0,710.2 L504.0,709.8 L506.0,709.4 L508.0,708.9 L510.0,708.5 L512.0,708.0 L514.0,707.5 L516.0,707.1 L518.0,706.6 L520.0,706.1 L522.0,705.6 L524.0,705.1 L526.0,704.7 L528.0,704.2 L530.0,703.8 L532.0,703.4 L534.0,703.0 L536.0,702.7 L538.0,702.4 L540.0,702.2 L542.0,702.0 L544.0,701.9 L546.0,701.8 L548.0,701.8 L548.0,713.8 Z" fill="#4844D8" fill-opacity="1.000"/>
<path d="M470.0,713.4 L472.0,713.3 L474.0,713.2 L476.0,713.1 L478.0,713.0 L480.0,712.9 L482.0,712.8 L484.0,712.6 L486.0,712.4 L488.0,712.2 L490.0,712.0 L492.0,711.8 L494.0,711.5 L496.0,711.2 L498.0,710.9 L500.0,710.5 L502.0,710.2 L504.0,709.8 L506.0,709.4 L508.0,708.9 L510.0,708.5 L512.0,708.0 L514.0,707.5 L516.0,707.1 L518.0,706.6 L520.0,706.1 L522.0,705.6 L524.0,705.1 L526.0,704.7 L528.0,704.2 L530.0,703.8 L532.0,703.4 L534.0,703.0 L536.0,702.7 L538.0,702.4 L540.0,702.2 L542.0,702.0 L544.0,701.9 L546.0,701.8 L548.0,701.8" fill="none" stroke="#fff" stroke-width="1.30"/>
<path d="M356.0,735.4 L356.0,735.0 L358.0,734.8 L360.0,734.5 L362.0,734.3 L364.0,734.1 L366.0,733.8 L368.0,733.6 L370.0,733.4 L372.0,733.2 L374.0,732.9 L376.0,732.7 L378.0,732.5 L380.0,732.3 L382.0,732.0 L384.0,731.8 L386.0,731.5 L388.0,731.3 L390.0,731.1 L392.0,730.8 L394.0,730.5 L396.0,730.3 L398.0,730.0 L400.0,729.7 L402.0,729.4 L404.0,729.1 L406.0,728.8 L408.0,728.5 L410.0,728.1 L412.0,727.7 L414.0,727.3 L416.0,726.9 L418.0,726.5 L420.0,726.0 L422.0,725.5 L424.0,725.1 L426.0,724.6 L428.0,724.1 L430.0,723.6 L432.0,723.2 L434.0,722.7 L436.0,722.3 L438.0,721.9 L440.0,721.5 L442.0,721.1 L444.0,720.7 L446.0,720.4 L448.0,720.0 L450.0,719.7 L452.0,719.4 L454.0,719.1 L456.0,718.8 L458.0,718.5 L460.0,718.2 L462.0,717.9 L464.0,717.6 L466.0,717.3 L468.0,717.0 L470.0,716.8 L472.0,716.5 L474.0,716.2 L476.0,716.0 L478.0,715.8 L480.0,715.5 L482.0,715.3 L484.0,715.1 L486.0,714.9 L488.0,714.7 L490.0,714.5 L492.0,714.3 L494.0,714.1 L496.0,713.9 L498.0,713.7 L500.0,713.5 L502.0,713.3 L504.0,713.2 L506.0,713.0 L508.0,712.9 L510.0,712.8 L512.0,712.6 L514.0,712.5 L516.0,712.5 L518.0,712.4 L520.0,712.3 L522.0,712.2 L524.0,712.1 L526.0,712.0 L528.0,712.0 L530.0,711.9 L532.0,711.8 L534.0,711.8 L536.0,711.7 L538.0,711.6 L540.0,711.6 L542.0,711.6 L544.0,711.5 L546.0,711.5 L548.0,711.5 L548.0,735.4 Z" fill="#5E5E5E" fill-opacity="1.000"/>
<path d="M356.0,735.0 L358.0,734.8 L360.0,734.5 L362.0,734.3 L364.0,734.1 L366.0,733.8 L368.0,733.6 L370.0,733.4 L372.0,733.2 L374.0,732.9 L376.0,732.7 L378.0,732.5 L380.0,732.3 L382.0,732.0 L384.0,731.8 L386.0,731.5 L388.0,731.3 L390.0,731.1 L392.0,730.8 L394.0,730.5 L396.0,730.3 L398.0,730.0 L400.0,729.7 L402.0,729.4 L404.0,729.1 L406.0,728.8 L408.0,728.5 L410.0,728.1 L412.0,727.7 L414.0,727.3 L416.0,726.9 L418.0,726.5 L420.0,726.0 L422.0,725.5 L424.0,725.1 L426.0,724.6 L428.0,724.1 L430.0,723.6 L432.0,723.2 L434.0,722.7 L436.0,722.3 L438.0,721.9 L440.0,721.5 L442.0,721.1 L444.0,720.7 L446.0,720.4 L448.0,720.0 L450.0,719.7 L452.0,719.4 L454.0,719.1 L456.0,718.8 L458.0,718.5 L460.0,718.2 L462.0,717.9 L464.0,717.6 L466.0,717.3 L468.0,717.0 L470.0,716.8 L472.0,716.5 L474.0,716.2 L476.0,716.0 L478.0,715.8 L480.0,715.5 L482.0,715.3 L484.0,715.1 L486.0,714.9 L488.0,714.7 L490.0,714.5 L492.0,714.3 L494.0,714.1 L496.0,713.9 L498.0,713.7 L500.0,713.5 L502.0,713.3 L504.0,713.2 L506.0,713.0 L508.0,712.9 L510.0,712.8 L512.0,712.6 L514.0,712.5 L516.0,712.5 L518.0,712.4 L520.0,712.3 L522.0,712.2 L524.0,712.1 L526.0,712.0 L528.0,712.0 L530.0,711.9 L532.0,711.8 L534.0,711.8 L536.0,711.7 L538.0,711.6 L540.0,711.6 L542.0,711.6 L544.0,711.5 L546.0,711.5 L548.0,711.5" fill="none" stroke="#fff" stroke-width="1.30"/>
<path d="M500.0,735.4 L500.0,734.7 L502.0,734.6 L504.0,734.4 L506.0,734.2 L508.0,733.9 L510.0,733.6 L512.0,733.3 L514.0,732.9 L516.0,732.5 L518.0,732.1 L520.0,731.7 L522.0,731.2 L524.0,730.7 L526.0,730.2 L528.0,729.6 L530.0,729.1 L532.0,728.6 L534.0,728.2 L536.0,727.8 L538.0,727.4 L540.0,727.0 L542.0,726.8 L544.0,726.6 L546.0,726.5 L548.0,726.4 L548.0,735.4 Z" fill="#ABABF6" fill-opacity="1.000"/>
<path d="M500.0,734.7 L502.0,734.6 L504.0,734.4 L506.0,734.2 L508.0,733.9 L510.0,733.6 L512.0,733.3 L514.0,732.9 L516.0,732.5 L518.0,732.1 L520.0,731.7 L522.0,731.2 L524.0,730.7 L526.0,730.2 L528.0,729.6 L530.0,729.1 L532.0,728.6 L534.0,728.2 L536.0,727.8 L538.0,727.4 L540.0,727.0 L542.0,726.8 L544.0,726.6 L546.0,726.5 L548.0,726.4" fill="none" stroke="#fff" stroke-width="1.30"/>
<path d="M150.0,757.1 L150.0,751.3 L152.0,751.2 L154.0,751.2 L156.0,751.2 L158.0,751.2 L160.0,751.2 L162.0,751.2 L164.0,751.2 L166.0,751.2 L168.0,751.2 L170.0,751.2 L172.0,751.2 L174.0,751.2 L176.0,751.3 L178.0,751.3 L180.0,751.3 L182.0,751.3 L184.0,751.4 L186.0,751.4 L188.0,751.5 L190.0,751.5 L192.0,751.6 L194.0,751.7 L196.0,751.7 L198.0,751.8 L200.0,751.9 L202.0,752.0 L204.0,752.2 L206.0,752.3 L208.0,752.4 L210.0,752.6 L212.0,752.8 L214.0,752.9 L216.0,753.1 L218.0,753.3 L220.0,753.5 L222.0,753.7 L224.0,754.0 L226.0,754.2 L228.0,754.4 L230.0,754.6 L232.0,754.8 L234.0,755.0 L236.0,755.2 L238.0,755.4 L240.0,755.5 L242.0,755.7 L244.0,755.8 L246.0,756.0 L248.0,756.1 L250.0,756.2 L250.0,757.1 Z" fill="#4844D8" fill-opacity="1.000"/>
<path d="M150.0,751.3 L152.0,751.2 L154.0,751.2 L156.0,751.2 L158.0,751.2 L160.0,751.2 L162.0,751.2 L164.0,751.2 L166.0,751.2 L168.0,751.2 L170.0,751.2 L172.0,751.2 L174.0,751.2 L176.0,751.3 L178.0,751.3 L180.0,751.3 L182.0,751.3 L184.0,751.4 L186.0,751.4 L188.0,751.5 L190.0,751.5 L192.0,751.6 L194.0,751.7 L196.0,751.7 L198.0,751.8 L200.0,751.9 L202.0,752.0 L204.0,752.2 L206.0,752.3 L208.0,752.4 L210.0,752.6 L212.0,752.8 L214.0,752.9 L216.0,753.1 L218.0,753.3 L220.0,753.5 L222.0,753.7 L224.0,754.0 L226.0,754.2 L228.0,754.4 L230.0,754.6 L232.0,754.8 L234.0,755.0 L236.0,755.2 L238.0,755.4 L240.0,755.5 L242.0,755.7 L244.0,755.8 L246.0,756.0 L248.0,756.1 L250.0,756.2" fill="none" stroke="#fff" stroke-width="1.30"/>
<path d="M292.0,778.7 L292.0,778.2 L294.0,778.0 L296.0,777.8 L298.0,777.5 L300.0,777.3 L302.0,777.1 L304.0,776.9 L306.0,776.6 L308.0,776.4 L310.0,776.2 L312.0,776.0 L314.0,775.8 L316.0,775.5 L318.0,775.3 L320.0,775.0 L322.0,774.8 L324.0,774.6 L326.0,774.3 L328.0,774.1 L330.0,773.9 L332.0,773.7 L334.0,773.6 L336.0,773.4 L338.0,773.3 L340.0,773.2 L342.0,773.1 L344.0,773.0 L346.0,773.0 L348.0,772.9 L350.0,772.9 L352.0,772.8 L354.0,772.8 L356.0,772.7 L358.0,772.7 L360.0,772.7 L362.0,772.7 L364.0,772.8 L366.0,772.9 L368.0,773.0 L370.0,773.1 L372.0,773.3 L374.0,773.5 L376.0,773.7 L378.0,773.9 L380.0,774.2 L382.0,774.4 L384.0,774.6 L386.0,774.8 L388.0,775.0 L390.0,775.3 L392.0,775.6 L394.0,775.9 L396.0,776.2 L398.0,776.5 L400.0,776.8 L402.0,777.2 L404.0,777.5 L406.0,777.9 L408.0,778.3 L408.0,778.7 Z" fill="#ABABF6" fill-opacity="1.000"/>
<path d="M292.0,778.2 L294.0,778.0 L296.0,777.8 L298.0,777.5 L300.0,777.3 L302.0,777.1 L304.0,776.9 L306.0,776.6 L308.0,776.4 L310.0,776.2 L312.0,776.0 L314.0,775.8 L316.0,775.5 L318.0,775.3 L320.0,775.0 L322.0,774.8 L324.0,774.6 L326.0,774.3 L328.0,774.1 L330.0,773.9 L332.0,773.7 L334.0,773.6 L336.0,773.4 L338.0,773.3 L340.0,773.2 L342.0,773.1 L344.0,773.0 L346.0,773.0 L348.0,772.9 L350.0,772.9 L352.0,772.8 L354.0,772.8 L356.0,772.7 L358.0,772.7 L360.0,772.7 L362.0,772.7 L364.0,772.8 L366.0,772.9 L368.0,773.0 L370.0,773.1 L372.0,773.3 L374.0,773.5 L376.0,773.7 L378.0,773.9 L380.0,774.2 L382.0,774.4 L384.0,774.6 L386.0,774.8 L388.0,775.0 L390.0,775.3 L392.0,775.6 L394.0,775.9 L396.0,776.2 L398.0,776.5 L400.0,776.8 L402.0,777.2 L404.0,777.5 L406.0,777.9 L408.0,778.3" fill="none" stroke="#fff" stroke-width="1.30"/>
<path d="M184.0,800.3 L184.0,799.8 L186.0,799.3 L188.0,798.8 L190.0,798.3 L192.0,797.9 L194.0,797.5 L196.0,797.1 L198.0,796.8 L200.0,796.6 L202.0,796.5 L204.0,796.3 L206.0,796.2 L208.0,796.1 L210.0,796.0 L212.0,795.9 L214.0,795.8 L216.0,795.7 L218.0,795.6 L220.0,795.6 L222.0,795.5 L224.0,795.4 L226.0,795.4 L228.0,795.3 L230.0,795.2 L232.0,795.2 L234.0,795.1 L236.0,795.0 L238.0,794.9 L240.0,794.8 L242.0,794.7 L244.0,794.7 L246.0,794.6 L248.0,794.5 L250.0,794.4 L252.0,794.3 L254.0,794.2 L256.0,794.1 L258.0,794.0 L260.0,793.9 L262.0,793.8 L264.0,793.7 L266.0,793.6 L268.0,793.5 L270.0,793.4 L272.0,793.3 L274.0,793.2 L276.0,793.1 L278.0,793.0 L280.0,792.9 L282.0,792.8 L284.0,792.7 L286.0,792.6 L288.0,792.5 L290.0,792.4 L292.0,792.2 L294.0,792.1 L296.0,792.0 L298.0,791.9 L300.0,791.8 L302.0,791.7 L304.0,791.5 L306.0,791.4 L308.0,791.3 L310.0,791.2 L312.0,791.1 L314.0,790.9 L316.0,790.8 L318.0,790.7 L320.0,790.6 L322.0,790.5 L324.0,790.3 L326.0,790.2 L328.0,790.1 L330.0,790.0 L332.0,789.9 L334.0,789.8 L336.0,789.7 L338.0,789.6 L340.0,789.5 L342.0,789.4 L344.0,789.3 L346.0,789.2 L348.0,789.1 L350.0,789.0 L352.0,788.9 L354.0,788.8 L356.0,788.8 L358.0,788.7 L360.0,788.6 L362.0,788.6 L364.0,788.5 L366.0,788.4 L368.0,788.4 L370.0,788.3 L372.0,788.3 L374.0,788.2 L376.0,788.2 L378.0,788.1 L380.0,788.0 L382.0,788.0 L384.0,787.9 L386.0,787.9 L388.0,787.8 L390.0,787.8 L392.0,787.7 L394.0,787.7 L396.0,787.7 L398.0,787.6 L400.0,787.6 L402.0,787.6 L404.0,787.5 L406.0,787.5 L408.0,787.5 L410.0,787.5 L412.0,787.5 L414.0,787.4 L416.0,787.4 L418.0,787.4 L420.0,787.4 L422.0,787.5 L424.0,787.5 L426.0,787.5 L428.0,787.5 L430.0,787.6 L432.0,787.6 L434.0,787.7 L436.0,787.8 L438.0,787.8 L440.0,787.9 L442.0,788.0 L444.0,788.0 L446.0,788.1 L448.0,788.2 L450.0,788.3 L452.0,788.4 L454.0,788.5 L456.0,788.6 L458.0,788.8 L460.0,789.0 L462.0,789.2 L464.0,789.5 L466.0,789.8 L468.0,790.2 L470.0,790.5 L472.0,790.9 L474.0,791.3 L476.0,791.7 L478.0,792.2 L480.0,792.6 L482.0,793.0 L484.0,793.3 L486.0,793.7 L488.0,794.0 L490.0,794.3 L492.0,794.6 L494.0,794.9 L496.0,795.2 L498.0,795.5 L500.0,795.8 L502.0,796.2 L504.0,796.7 L506.0,797.4 L508.0,798.3 L510.0,799.3 L510.0,800.3 Z" fill="#262636" fill-opacity="1.000"/>
<path d="M184.0,799.8 L186.0,799.3 L188.0,798.8 L190.0,798.3 L192.0,797.9 L194.0,797.5 L196.0,797.1 L198.0,796.8 L200.0,796.6 L202.0,796.5 L204.0,796.3 L206.0,796.2 L208.0,796.1 L210.0,796.0 L212.0,795.9 L214.0,795.8 L216.0,795.7 L218.0,795.6 L220.0,795.6 L222.0,795.5 L224.0,795.4 L226.0,795.4 L228.0,795.3 L230.0,795.2 L232.0,795.2 L234.0,795.1 L236.0,795.0 L238.0,794.9 L240.0,794.8 L242.0,794.7 L244.0,794.7 L246.0,794.6 L248.0,794.5 L250.0,794.4 L252.0,794.3 L254.0,794.2 L256.0,794.1 L258.0,794.0 L260.0,793.9 L262.0,793.8 L264.0,793.7 L266.0,793.6 L268.0,793.5 L270.0,793.4 L272.0,793.3 L274.0,793.2 L276.0,793.1 L278.0,793.0 L280.0,792.9 L282.0,792.8 L284.0,792.7 L286.0,792.6 L288.0,792.5 L290.0,792.4 L292.0,792.2 L294.0,792.1 L296.0,792.0 L298.0,791.9 L300.0,791.8 L302.0,791.7 L304.0,791.5 L306.0,791.4 L308.0,791.3 L310.0,791.2 L312.0,791.1 L314.0,790.9 L316.0,790.8 L318.0,790.7 L320.0,790.6 L322.0,790.5 L324.0,790.3 L326.0,790.2 L328.0,790.1 L330.0,790.0 L332.0,789.9 L334.0,789.8 L336.0,789.7 L338.0,789.6 L340.0,789.5 L342.0,789.4 L344.0,789.3 L346.0,789.2 L348.0,789.1 L350.0,789.0 L352.0,788.9 L354.0,788.8 L356.0,788.8 L358.0,788.7 L360.0,788.6 L362.0,788.6 L364.0,788.5 L366.0,788.4 L368.0,788.4 L370.0,788.3 L372.0,788.3 L374.0,788.2 L376.0,788.2 L378.0,788.1 L380.0,788.0 L382.0,788.0 L384.0,787.9 L386.0,787.9 L388.0,787.8 L390.0,787.8 L392.0,787.7 L394.0,787.7 L396.0,787.7 L398.0,787.6 L400.0,787.6 L402.0,787.6 L404.0,787.5 L406.0,787.5 L408.0,787.5 L410.0,787.5 L412.0,787.5 L414.0,787.4 L416.0,787.4 L418.0,787.4 L420.0,787.4 L422.0,787.5 L424.0,787.5 L426.0,787.5 L428.0,787.5 L430.0,787.6 L432.0,787.6 L434.0,787.7 L436.0,787.8 L438.0,787.8 L440.0,787.9 L442.0,788.0 L444.0,788.0 L446.0,788.1 L448.0,788.2 L450.0,788.3 L452.0,788.4 L454.0,788.5 L456.0,788.6 L458.0,788.8 L460.0,789.0 L462.0,789.2 L464.0,789.5 L466.0,789.8 L468.0,790.2 L470.0,790.5 L472.0,790.9 L474.0,791.3 L476.0,791.7 L478.0,792.2 L480.0,792.6 L482.0,793.0 L484.0,793.3 L486.0,793.7 L488.0,794.0 L490.0,794.3 L492.0,794.6 L494.0,794.9 L496.0,795.2 L498.0,795.5 L500.0,795.8 L502.0,796.2 L504.0,796.7 L506.0,797.4 L508.0,798.3 L510.0,799.3" fill="none" stroke="#fff" stroke-width="1.30"/>
<path d="M470.0,800.3 L470.0,800.0 L472.0,799.9 L474.0,799.8 L476.0,799.7 L478.0,799.6 L480.0,799.5 L482.0,799.3 L484.0,799.2 L486.0,799.0 L488.0,798.8 L490.0,798.6 L492.0,798.3 L494.0,798.0 L496.0,797.7 L498.0,797.4 L500.0,797.1 L502.0,796.7 L504.0,796.3 L506.0,795.9 L508.0,795.5 L510.0,795.0 L512.0,794.6 L514.0,794.1 L516.0,793.6 L518.0,793.1 L520.0,792.6 L522.0,792.2 L524.0,791.7 L526.0,791.2 L528.0,790.8 L530.0,790.4 L532.0,790.0 L534.0,789.6 L536.0,789.3 L538.0,789.0 L540.0,788.8 L542.0,788.6 L544.0,788.4 L546.0,788.4 L548.0,788.3 L548.0,800.3 Z" fill="#4844D8" fill-opacity="1.000"/>
<path d="M470.0,800.0 L472.0,799.9 L474.0,799.8 L476.0,799.7 L478.0,799.6 L480.0,799.5 L482.0,799.3 L484.0,799.2 L486.0,799.0 L488.0,798.8 L490.0,798.6 L492.0,798.3 L494.0,798.0 L496.0,797.7 L498.0,797.4 L500.0,797.1 L502.0,796.7 L504.0,796.3 L506.0,795.9 L508.0,795.5 L510.0,795.0 L512.0,794.6 L514.0,794.1 L516.0,793.6 L518.0,793.1 L520.0,792.6 L522.0,792.2 L524.0,791.7 L526.0,791.2 L528.0,790.8 L530.0,790.4 L532.0,790.0 L534.0,789.6 L536.0,789.3 L538.0,789.0 L540.0,788.8 L542.0,788.6 L544.0,788.4 L546.0,788.4 L548.0,788.3" fill="none" stroke="#fff" stroke-width="1.30"/>
<path d="M150.0,865.3 L150.0,858.3 L152.0,858.3 L154.0,858.3 L156.0,858.3 L158.0,858.3 L160.0,858.3 L162.0,858.3 L164.0,858.3 L166.0,858.3 L168.0,858.3 L170.0,858.3 L172.0,858.3 L174.0,858.3 L176.0,858.3 L178.0,858.3 L180.0,858.3 L182.0,858.3 L184.0,858.3 L186.0,858.3 L188.0,858.3 L190.0,858.3 L192.0,858.3 L194.0,858.3 L196.0,858.3 L198.0,858.3 L200.0,858.3 L202.0,858.3 L204.0,858.3 L206.0,858.3 L208.0,858.3 L210.0,858.3 L212.0,858.3 L214.0,858.3 L216.0,858.3 L218.0,858.3 L220.0,858.3 L222.0,858.3 L224.0,858.3 L226.0,858.3 L228.0,858.3 L230.0,858.3 L232.0,858.3 L234.0,858.3 L236.0,858.3 L238.0,858.3 L240.0,858.3 L242.0,858.3 L244.0,858.3 L246.0,858.3 L248.0,858.3 L250.0,858.3 L252.0,858.3 L254.0,858.4 L256.0,858.4 L258.0,858.4 L260.0,858.5 L262.0,858.5 L264.0,858.6 L266.0,858.7 L268.0,858.8 L270.0,858.9 L272.0,859.1 L274.0,859.3 L276.0,859.5 L278.0,859.8 L280.0,860.1 L282.0,860.5 L284.0,860.9 L286.0,861.3 L288.0,861.8 L290.0,862.2 L292.0,862.6 L292.0,865.3 Z" fill="#ABABF6" fill-opacity="1.000"/>
<path d="M150.0,858.3 L152.0,858.3 L154.0,858.3 L156.0,858.3 L158.0,858.3 L160.0,858.3 L162.0,858.3 L164.0,858.3 L166.0,858.3 L168.0,858.3 L170.0,858.3 L172.0,858.3 L174.0,858.3 L176.0,858.3 L178.0,858.3 L180.0,858.3 L182.0,858.3 L184.0,858.3 L186.0,858.3 L188.0,858.3 L190.0,858.3 L192.0,858.3 L194.0,858.3 L196.0,858.3 L198.0,858.3 L200.0,858.3 L202.0,858.3 L204.0,858.3 L206.0,858.3 L208.0,858.3 L210.0,858.3 L212.0,858.3 L214.0,858.3 L216.0,858.3 L218.0,858.3 L220.0,858.3 L222.0,858.3 L224.0,858.3 L226.0,858.3 L228.0,858.3 L230.0,858.3 L232.0,858.3 L234.0,858.3 L236.0,858.3 L238.0,858.3 L240.0,858.3 L242.0,858.3 L244.0,858.3 L246.0,858.3 L248.0,858.3 L250.0,858.3 L252.0,858.3 L254.0,858.4 L256.0,858.4 L258.0,858.4 L260.0,858.5 L262.0,858.5 L264.0,858.6 L266.0,858.7 L268.0,858.8 L270.0,858.9 L272.0,859.1 L274.0,859.3 L276.0,859.5 L278.0,859.8 L280.0,860.1 L282.0,860.5 L284.0,860.9 L286.0,861.3 L288.0,861.8 L290.0,862.2 L292.0,862.6" fill="none" stroke="#fff" stroke-width="1.30"/>
<path d="M448.0,886.9 L448.0,885.8 L450.0,884.8 L452.0,883.6 L454.0,882.5 L456.0,881.3 L458.0,880.1 L460.0,878.8 L462.0,877.5 L464.0,876.2 L466.0,874.8 L468.0,873.4 L470.0,871.9 L472.0,870.4 L474.0,868.9 L476.0,867.3 L478.0,865.7 L480.0,864.1 L482.0,862.5 L484.0,860.9 L486.0,859.2 L488.0,857.5 L490.0,855.8 L492.0,854.0 L494.0,852.2 L496.0,850.4 L498.0,848.6 L500.0,846.7 L502.0,844.9 L504.0,843.0 L506.0,841.1 L508.0,839.1 L510.0,837.1 L512.0,835.1 L514.0,833.1 L516.0,831.1 L518.0,828.9 L520.0,826.6 L522.0,824.5 L524.0,822.6 L526.0,821.2 L528.0,819.9 L530.0,818.7 L532.0,817.7 L534.0,816.9 L536.0,816.4 L538.0,816.1 L540.0,815.8 L542.0,815.6 L544.0,815.4 L546.0,815.3 L548.0,815.3 L548.0,886.9 Z" fill="#2C2C3C" fill-opacity="1.000"/>
<path d="M448.0,885.8 L450.0,884.8 L452.0,883.6 L454.0,882.5 L456.0,881.3 L458.0,880.1 L460.0,878.8 L462.0,877.5 L464.0,876.2 L466.0,874.8 L468.0,873.4 L470.0,871.9 L472.0,870.4 L474.0,868.9 L476.0,867.3 L478.0,865.7 L480.0,864.1 L482.0,862.5 L484.0,860.9 L486.0,859.2 L488.0,857.5 L490.0,855.8 L492.0,854.0 L494.0,852.2 L496.0,850.4 L498.0,848.6 L500.0,846.7 L502.0,844.9 L504.0,843.0 L506.0,841.1 L508.0,839.1 L510.0,837.1 L512.0,835.1 L514.0,833.1 L516.0,831.1 L518.0,828.9 L520.0,826.6 L522.0,824.5 L524.0,822.6 L526.0,821.2 L528.0,819.9 L530.0,818.7 L532.0,817.7 L534.0,816.9 L536.0,816.4 L538.0,816.1 L540.0,815.8 L542.0,815.6 L544.0,815.4 L546.0,815.3 L548.0,815.3" fill="none" stroke="#fff" stroke-width="1.30"/>
<path d="M280.0,886.9 L280.0,884.7 L282.0,884.6 L284.0,884.4 L286.0,884.2 L288.0,884.1 L290.0,883.9 L292.0,883.7 L294.0,883.5 L296.0,883.3 L298.0,883.1 L300.0,882.9 L302.0,882.7 L304.0,882.5 L306.0,882.3 L308.0,882.1 L310.0,881.9 L312.0,881.7 L314.0,881.6 L316.0,881.4 L318.0,881.2 L320.0,881.1 L322.0,880.9 L324.0,880.8 L326.0,880.6 L328.0,880.5 L330.0,880.4 L332.0,880.3 L334.0,880.2 L336.0,880.1 L338.0,880.0 L340.0,879.9 L342.0,879.8 L344.0,879.7 L346.0,879.7 L348.0,879.6 L350.0,879.5 L352.0,879.5 L354.0,879.5 L356.0,879.4 L358.0,879.4 L360.0,879.3 L362.0,879.3 L364.0,879.3 L366.0,879.3 L368.0,879.3 L370.0,879.2 L372.0,879.2 L374.0,879.2 L376.0,879.2 L378.0,879.2 L380.0,879.2 L382.0,879.2 L384.0,879.2 L386.0,879.2 L388.0,879.3 L390.0,879.3 L392.0,879.3 L394.0,879.3 L396.0,879.4 L398.0,879.4 L400.0,879.4 L402.0,879.5 L404.0,879.5 L406.0,879.6 L408.0,879.6 L410.0,879.7 L412.0,879.8 L414.0,879.8 L416.0,879.9 L418.0,880.0 L420.0,880.1 L422.0,880.2 L424.0,880.3 L426.0,880.4 L428.0,880.6 L430.0,880.7 L432.0,880.8 L434.0,881.0 L436.0,881.1 L438.0,881.3 L440.0,881.5 L442.0,881.6 L444.0,881.8 L446.0,882.0 L448.0,882.2 L450.0,882.4 L452.0,882.6 L454.0,882.8 L456.0,883.0 L458.0,883.2 L460.0,883.4 L462.0,883.6 L464.0,883.8 L466.0,884.0 L468.0,884.2 L470.0,884.3 L472.0,884.5 L474.0,884.7 L476.0,884.8 L478.0,885.0 L480.0,885.1 L482.0,885.2 L484.0,885.4 L486.0,885.5 L488.0,885.6 L490.0,885.7 L492.0,885.7 L494.0,885.8 L496.0,885.9 L498.0,885.9 L500.0,885.9 L502.0,885.9 L504.0,885.8 L506.0,885.7 L508.0,885.6 L510.0,885.4 L512.0,885.2 L514.0,884.9 L516.0,884.6 L518.0,884.2 L520.0,883.7 L522.0,883.2 L524.0,882.7 L526.0,882.1 L528.0,881.4 L530.0,880.8 L532.0,880.1 L534.0,879.4 L536.0,878.8 L538.0,878.3 L540.0,877.8 L542.0,877.4 L544.0,877.1 L546.0,876.9 L548.0,876.8 L548.0,886.9 Z" fill="#6464EE" fill-opacity="1.000"/>
<path d="M280.0,884.7 L282.0,884.6 L284.0,884.4 L286.0,884.2 L288.0,884.1 L290.0,883.9 L292.0,883.7 L294.0,883.5 L296.0,883.3 L298.0,883.1 L300.0,882.9 L302.0,882.7 L304.0,882.5 L306.0,882.3 L308.0,882.1 L310.0,881.9 L312.0,881.7 L314.0,881.6 L316.0,881.4 L318.0,881.2 L320.0,881.1 L322.0,880.9 L324.0,880.8 L326.0,880.6 L328.0,880.5 L330.0,880.4 L332.0,880.3 L334.0,880.2 L336.0,880.1 L338.0,880.0 L340.0,879.9 L342.0,879.8 L344.0,879.7 L346.0,879.7 L348.0,879.6 L350.0,879.5 L352.0,879.5 L354.0,879.5 L356.0,879.4 L358.0,879.4 L360.0,879.3 L362.0,879.3 L364.0,879.3 L366.0,879.3 L368.0,879.3 L370.0,879.2 L372.0,879.2 L374.0,879.2 L376.0,879.2 L378.0,879.2 L380.0,879.2 L382.0,879.2 L384.0,879.2 L386.0,879.2 L388.0,879.3 L390.0,879.3 L392.0,879.3 L394.0,879.3 L396.0,879.4 L398.0,879.4 L400.0,879.4 L402.0,879.5 L404.0,879.5 L406.0,879.6 L408.0,879.6 L410.0,879.7 L412.0,879.8 L414.0,879.8 L416.0,879.9 L418.0,880.0 L420.0,880.1 L422.0,880.2 L424.0,880.3 L426.0,880.4 L428.0,880.6 L430.0,880.7 L432.0,880.8 L434.0,881.0 L436.0,881.1 L438.0,881.3 L440.0,881.5 L442.0,881.6 L444.0,881.8 L446.0,882.0 L448.0,882.2 L450.0,882.4 L452.0,882.6 L454.0,882.8 L456.0,883.0 L458.0,883.2 L460.0,883.4 L462.0,883.6 L464.0,883.8 L466.0,884.0 L468.0,884.2 L470.0,884.3 L472.0,884.5 L474.0,884.7 L476.0,884.8 L478.0,885.0 L480.0,885.1 L482.0,885.2 L484.0,885.4 L486.0,885.5 L488.0,885.6 L490.0,885.7 L492.0,885.7 L494.0,885.8 L496.0,885.9 L498.0,885.9 L500.0,885.9 L502.0,885.9 L504.0,885.8 L506.0,885.7 L508.0,885.6 L510.0,885.4 L512.0,885.2 L514.0,884.9 L516.0,884.6 L518.0,884.2 L520.0,883.7 L522.0,883.2 L524.0,882.7 L526.0,882.1 L528.0,881.4 L530.0,880.8 L532.0,880.1 L534.0,879.4 L536.0,878.8 L538.0,878.3 L540.0,877.8 L542.0,877.4 L544.0,877.1 L546.0,876.9 L548.0,876.8" fill="none" stroke="#fff" stroke-width="1.30"/>
<path d="M206.0,886.9 L206.0,886.5 L208.0,886.3 L210.0,886.2 L212.0,886.0 L214.0,885.8 L216.0,885.6 L218.0,885.4 L220.0,885.1 L222.0,884.9 L224.0,884.6 L226.0,884.4 L228.0,884.2 L230.0,884.0 L232.0,883.9 L234.0,883.8 L236.0,883.7 L238.0,883.7 L240.0,883.8 L242.0,883.9 L244.0,884.0 L246.0,884.2 L248.0,884.4 L250.0,884.6 L252.0,884.9 L254.0,885.1 L256.0,885.4 L258.0,885.6 L260.0,885.8 L262.0,886.0 L264.0,886.2 L266.0,886.3 L268.0,886.5 L268.0,886.9 Z" fill="#3A3A48" fill-opacity="1.000"/>
<path d="M206.0,886.5 L208.0,886.3 L210.0,886.2 L212.0,886.0 L214.0,885.8 L216.0,885.6 L218.0,885.4 L220.0,885.1 L222.0,884.9 L224.0,884.6 L226.0,884.4 L228.0,884.2 L230.0,884.0 L232.0,883.9 L234.0,883.8 L236.0,883.7 L238.0,883.7 L240.0,883.8 L242.0,883.9 L244.0,884.0 L246.0,884.2 L248.0,884.4 L250.0,884.6 L252.0,884.9 L254.0,885.1 L256.0,885.4 L258.0,885.6 L260.0,885.8 L262.0,886.0 L264.0,886.2 L266.0,886.3 L268.0,886.5" fill="none" stroke="#fff" stroke-width="1.30"/>
<path d="M82.0,562.3 L82.0,502.3 L84.0,502.4 L86.0,502.6 L88.0,503.0 L90.0,503.5 L92.0,504.1 L94.0,504.8 L96.0,505.6 L98.0,506.4 L100.0,507.3 L102.0,508.7 L104.0,510.5 L106.0,512.4 L108.0,514.4 L110.0,516.1 L112.0,517.8 L114.0,519.5 L116.0,521.2 L118.0,522.9 L120.0,524.6 L122.0,526.3 L124.0,527.9 L126.0,529.6 L128.0,531.4 L130.0,533.1 L132.0,534.8 L134.0,536.4 L136.0,537.8 L138.0,539.0 L140.0,540.2 L142.0,541.2 L144.0,542.2 L146.0,543.2 L148.0,544.1 L150.0,544.9 L152.0,545.7 L154.0,546.5 L156.0,547.3 L158.0,548.0 L160.0,548.7 L162.0,549.3 L164.0,549.9 L166.0,550.5 L168.0,551.1 L170.0,551.6 L172.0,552.1 L174.0,552.5 L176.0,553.0 L178.0,553.4 L180.0,553.9 L182.0,554.4 L184.0,554.8 L186.0,555.2 L188.0,555.6 L190.0,555.9 L192.0,556.2 L194.0,556.4 L196.0,556.5 L198.0,556.7 L200.0,556.9 L202.0,557.2 L204.0,557.5 L206.0,557.9 L208.0,558.3 L210.0,558.7 L212.0,559.1 L214.0,559.5 L216.0,559.9 L218.0,560.2 L220.0,560.5 L222.0,560.7 L224.0,560.9 L226.0,561.1 L228.0,561.3 L230.0,561.4 L232.0,561.6 L234.0,561.8 L236.0,561.9 L236.0,562.3 Z" fill="#ABABF6" fill-opacity="1.000"/>
<path d="M82.0,502.3 L84.0,502.4 L86.0,502.6 L88.0,503.0 L90.0,503.5 L92.0,504.1 L94.0,504.8 L96.0,505.6 L98.0,506.4 L100.0,507.3 L102.0,508.7 L104.0,510.5 L106.0,512.4 L108.0,514.4 L110.0,516.1 L112.0,517.8 L114.0,519.5 L116.0,521.2 L118.0,522.9 L120.0,524.6 L122.0,526.3 L124.0,527.9 L126.0,529.6 L128.0,531.4 L130.0,533.1 L132.0,534.8 L134.0,536.4 L136.0,537.8 L138.0,539.0 L140.0,540.2 L142.0,541.2 L144.0,542.2 L146.0,543.2 L148.0,544.1 L150.0,544.9 L152.0,545.7 L154.0,546.5 L156.0,547.3 L158.0,548.0 L160.0,548.7 L162.0,549.3 L164.0,549.9 L166.0,550.5 L168.0,551.1 L170.0,551.6 L172.0,552.1 L174.0,552.5 L176.0,553.0 L178.0,553.4 L180.0,553.9 L182.0,554.4 L184.0,554.8 L186.0,555.2 L188.0,555.6 L190.0,555.9 L192.0,556.2 L194.0,556.4 L196.0,556.5 L198.0,556.7 L200.0,556.9 L202.0,557.2 L204.0,557.5 L206.0,557.9 L208.0,558.3 L210.0,558.7 L212.0,559.1 L214.0,559.5 L216.0,559.9 L218.0,560.2 L220.0,560.5 L222.0,560.7 L224.0,560.9 L226.0,561.1 L228.0,561.3 L230.0,561.4 L232.0,561.6 L234.0,561.8 L236.0,561.9" fill="none" stroke="#fff" stroke-width="1.30"/>
<path d="M110.0,562.3 L110.0,540.3 L112.0,540.3 L114.0,540.4 L116.0,540.6 L118.0,540.8 L120.0,541.1 L122.0,541.4 L124.0,541.8 L126.0,542.2 L128.0,542.6 L130.0,543.2 L132.0,544.2 L134.0,545.3 L136.0,546.5 L138.0,547.7 L140.0,548.8 L142.0,549.9 L144.0,551.1 L146.0,552.3 L148.0,553.5 L150.0,554.4 L152.0,555.2 L154.0,555.9 L156.0,556.5 L158.0,557.0 L160.0,557.5 L162.0,558.0 L164.0,558.5 L166.0,559.1 L168.0,559.5 L170.0,560.0 L172.0,560.5 L174.0,560.9 L176.0,561.3 L178.0,561.7 L178.0,562.3 Z" fill="#9696DC" fill-opacity="1.000"/>
<path d="M82.0,583.9 L82.0,499.5 L84.0,499.6 L86.0,500.1 L88.0,500.8 L90.0,501.8 L92.0,503.1 L94.0,504.6 L96.0,506.4 L98.0,508.4 L100.0,510.6 L102.0,513.0 L104.0,515.5 L106.0,518.2 L108.0,521.0 L110.0,523.9 L112.0,526.8 L114.0,529.8 L116.0,532.8 L118.0,535.8 L120.0,538.8 L122.0,541.8 L124.0,544.7 L126.0,547.5 L128.0,550.2 L130.0,552.9 L132.0,555.4 L134.0,557.8 L136.0,560.1 L138.0,562.3 L140.0,564.3 L142.0,566.2 L144.0,568.0 L146.0,569.7 L148.0,571.2 L150.0,572.6 L152.0,573.9 L154.0,575.0 L156.0,576.1 L158.0,577.1 L160.0,577.9 L162.0,578.7 L164.0,579.4 L166.0,580.0 L168.0,580.5 L170.0,581.0 L172.0,581.4 L174.0,581.8 L176.0,582.1 L178.0,582.4 L180.0,582.6 L182.0,582.8 L184.0,583.0 L186.0,583.2 L188.0,583.3 L190.0,583.4 L192.0,583.5 L194.0,583.6 L194.0,583.9 Z" fill="#4844D8" fill-opacity="1.000"/>
<path d="M82.0,499.5 L84.0,499.6 L86.0,500.1 L88.0,500.8 L90.0,501.8 L92.0,503.1 L94.0,504.6 L96.0,506.4 L98.0,508.4 L100.0,510.6 L102.0,513.0 L104.0,515.5 L106.0,518.2 L108.0,521.0 L110.0,523.9 L112.0,526.8 L114.0,529.8 L116.0,532.8 L118.0,535.8 L120.0,538.8 L122.0,541.8 L124.0,544.7 L126.0,547.5 L128.0,550.2 L130.0,552.9 L132.0,555.4 L134.0,557.8 L136.0,560.1 L138.0,562.3 L140.0,564.3 L142.0,566.2 L144.0,568.0 L146.0,569.7 L148.0,571.2 L150.0,572.6 L152.0,573.9 L154.0,575.0 L156.0,576.1 L158.0,577.1 L160.0,577.9 L162.0,578.7 L164.0,579.4 L166.0,580.0 L168.0,580.5 L170.0,581.0 L172.0,581.4 L174.0,581.8 L176.0,582.1 L178.0,582.4 L180.0,582.6 L182.0,582.8 L184.0,583.0 L186.0,583.2 L188.0,583.3 L190.0,583.4 L192.0,583.5 L194.0,583.6" fill="none" stroke="#fff" stroke-width="1.30"/>
<path d="M82.0,605.6 L82.0,528.0 L84.0,528.1 L86.0,528.6 L88.0,529.3 L90.0,530.3 L92.0,531.6 L94.0,533.1 L96.0,534.9 L98.0,536.8 L100.0,539.0 L102.0,541.4 L104.0,543.9 L106.0,546.5 L108.0,549.2 L110.0,552.0 L112.0,554.9 L114.0,557.8 L116.0,560.7 L118.0,563.5 L120.0,566.4 L122.0,569.2 L124.0,571.9 L126.0,574.5 L128.0,577.0 L130.0,579.5 L132.0,581.8 L134.0,584.0 L136.0,586.0 L138.0,588.0 L140.0,589.8 L142.0,591.4 L144.0,593.0 L146.0,594.4 L148.0,595.7 L150.0,596.9 L152.0,597.9 L154.0,598.9 L156.0,599.7 L158.0,600.5 L160.0,601.2 L162.0,601.8 L164.0,602.3 L166.0,602.8 L168.0,603.2 L170.0,603.6 L172.0,603.9 L174.0,604.2 L176.0,604.4 L178.0,604.6 L180.0,604.8 L182.0,604.9 L184.0,605.0 L186.0,605.1 L188.0,605.2 L188.0,605.6 Z" fill="#ABABF6" fill-opacity="1.000"/>
<path d="M82.0,528.0 L84.0,528.1 L86.0,528.6 L88.0,529.3 L90.0,530.3 L92.0,531.6 L94.0,533.1 L96.0,534.9 L98.0,536.8 L100.0,539.0 L102.0,541.4 L104.0,543.9 L106.0,546.5 L108.0,549.2 L110.0,552.0 L112.0,554.9 L114.0,557.8 L116.0,560.7 L118.0,563.5 L120.0,566.4 L122.0,569.2 L124.0,571.9 L126.0,574.5 L128.0,577.0 L130.0,579.5 L132.0,581.8 L134.0,584.0 L136.0,586.0 L138.0,588.0 L140.0,589.8 L142.0,591.4 L144.0,593.0 L146.0,594.4 L148.0,595.7 L150.0,596.9 L152.0,597.9 L154.0,598.9 L156.0,599.7 L158.0,600.5 L160.0,601.2 L162.0,601.8 L164.0,602.3 L166.0,602.8 L168.0,603.2 L170.0,603.6 L172.0,603.9 L174.0,604.2 L176.0,604.4 L178.0,604.6 L180.0,604.8 L182.0,604.9 L184.0,605.0 L186.0,605.1 L188.0,605.2" fill="none" stroke="#fff" stroke-width="1.30"/>
<path d="M82.0,605.6 L82.0,531.0 L84.0,531.2 L86.0,531.7 L88.0,532.5 L90.0,533.7 L92.0,535.1 L94.0,536.8 L96.0,538.8 L98.0,541.1 L100.0,543.5 L102.0,546.1 L104.0,548.9 L106.0,551.8 L108.0,554.7 L110.0,557.8 L112.0,560.8 L114.0,563.8 L116.0,566.9 L118.0,569.8 L120.0,572.7 L122.0,575.5 L124.0,578.1 L126.0,580.7 L128.0,583.1 L130.0,585.4 L132.0,587.5 L134.0,589.5 L136.0,591.3 L138.0,593.0 L140.0,594.5 L142.0,595.9 L144.0,597.1 L146.0,598.3 L148.0,599.3 L150.0,600.2 L152.0,600.9 L154.0,601.6 L156.0,602.2 L158.0,602.8 L160.0,603.2 L162.0,603.6 L164.0,603.9 L166.0,604.2 L168.0,604.5 L170.0,604.7 L172.0,604.8 L174.0,605.0 L176.0,605.1 L178.0,605.2 L178.0,605.6 Z" fill="#9696DC" fill-opacity="1.000"/>
<path d="M82.0,627.2 L82.0,545.5 L84.0,545.6 L86.0,546.1 L88.0,546.8 L90.0,547.7 L92.0,549.0 L94.0,550.5 L96.0,552.2 L98.0,554.1 L100.0,556.2 L102.0,558.5 L104.0,561.0 L106.0,563.6 L108.0,566.3 L110.0,569.1 L112.0,571.9 L114.0,574.8 L116.0,577.7 L118.0,580.7 L120.0,583.6 L122.0,586.4 L124.0,589.2 L126.0,592.0 L128.0,594.6 L128.0,627.2 Z" fill="#1C1C34" fill-opacity="1.000"/>
<path d="M82.0,545.5 L84.0,545.6 L86.0,546.1 L88.0,546.8 L90.0,547.7 L92.0,549.0 L94.0,550.5 L96.0,552.2 L98.0,554.1 L100.0,556.2 L102.0,558.5 L104.0,561.0 L106.0,563.6 L108.0,566.3 L110.0,569.1 L112.0,571.9 L114.0,574.8 L116.0,577.7 L118.0,580.7 L120.0,583.6 L122.0,586.4 L124.0,589.2 L126.0,592.0 L128.0,594.6" fill="none" stroke="#fff" stroke-width="1.30"/>
<path d="M82.0,627.2 L82.0,548.6 L84.0,548.7 L86.0,549.1 L88.0,549.8 L90.0,550.8 L92.0,551.9 L94.0,553.4 L96.0,555.0 L98.0,556.9 L100.0,558.9 L102.0,561.1 L104.0,563.5 L106.0,566.0 L108.0,568.6 L110.0,571.3 L112.0,574.0 L114.0,576.8 L116.0,579.6 L118.0,582.4 L120.0,585.2 L122.0,587.9 L124.0,590.6 L126.0,593.3 L128.0,595.8 L130.0,598.2 L132.0,600.6 L134.0,602.8 L136.0,604.9 L138.0,606.8 L140.0,608.6 L142.0,610.2 L144.0,611.7 L146.0,613.0 L148.0,614.1 L150.0,615.2 L152.0,616.1 L154.0,616.9 L156.0,617.6 L158.0,618.3 L160.0,619.0 L162.0,619.6 L164.0,620.1 L166.0,620.7 L168.0,621.1 L170.0,621.5 L172.0,621.9 L174.0,622.2 L176.0,622.5 L178.0,622.8 L180.0,623.0 L182.0,623.2 L184.0,623.4 L186.0,623.5 L188.0,623.6 L190.0,623.7 L192.0,623.8 L194.0,623.9 L196.0,623.9 L198.0,624.0 L200.0,624.0 L202.0,624.1 L204.0,624.1 L206.0,624.1 L208.0,624.2 L210.0,624.2 L212.0,624.2 L214.0,624.3 L216.0,624.4 L218.0,624.4 L220.0,624.6 L222.0,624.7 L224.0,624.9 L226.0,625.1 L228.0,625.4 L230.0,625.7 L232.0,626.0 L234.0,626.3 L236.0,626.5 L238.0,626.7 L240.0,626.9 L240.0,627.2 Z" fill="#4844D8" fill-opacity="1.000"/>
<path d="M82.0,548.6 L84.0,548.7 L86.0,549.1 L88.0,549.8 L90.0,550.8 L92.0,551.9 L94.0,553.4 L96.0,555.0 L98.0,556.9 L100.0,558.9 L102.0,561.1 L104.0,563.5 L106.0,566.0 L108.0,568.6 L110.0,571.3 L112.0,574.0 L114.0,576.8 L116.0,579.6 L118.0,582.4 L120.0,585.2 L122.0,587.9 L124.0,590.6 L126.0,593.3 L128.0,595.8 L130.0,598.2 L132.0,600.6 L134.0,602.8 L136.0,604.9 L138.0,606.8 L140.0,608.6 L142.0,610.2 L144.0,611.7 L146.0,613.0 L148.0,614.1 L150.0,615.2 L152.0,616.1 L154.0,616.9 L156.0,617.6 L158.0,618.3 L160.0,619.0 L162.0,619.6 L164.0,620.1 L166.0,620.7 L168.0,621.1 L170.0,621.5 L172.0,621.9 L174.0,622.2 L176.0,622.5 L178.0,622.8 L180.0,623.0 L182.0,623.2 L184.0,623.4 L186.0,623.5 L188.0,623.6 L190.0,623.7 L192.0,623.8 L194.0,623.9 L196.0,623.9 L198.0,624.0 L200.0,624.0 L202.0,624.1 L204.0,624.1 L206.0,624.1 L208.0,624.2 L210.0,624.2 L212.0,624.2 L214.0,624.3 L216.0,624.4 L218.0,624.4 L220.0,624.6 L222.0,624.7 L224.0,624.9 L226.0,625.1 L228.0,625.4 L230.0,625.7 L232.0,626.0 L234.0,626.3 L236.0,626.5 L238.0,626.7 L240.0,626.9" fill="none" stroke="#fff" stroke-width="1.30"/>
<path d="M82.0,648.9 L82.0,588.0 L84.0,588.2 L86.0,588.6 L88.0,589.4 L90.0,590.4 L92.0,591.7 L94.0,593.2 L96.0,595.0 L98.0,597.0 L100.0,599.2 L102.0,601.5 L104.0,603.9 L106.0,606.4 L108.0,609.0 L110.0,611.6 L112.0,614.2 L114.0,616.8 L116.0,619.3 L118.0,621.8 L120.0,624.2 L122.0,626.5 L124.0,628.7 L126.0,630.7 L128.0,632.6 L130.0,634.4 L132.0,636.1 L134.0,637.6 L136.0,639.0 L138.0,640.3 L140.0,641.4 L142.0,642.4 L144.0,643.4 L146.0,644.2 L148.0,644.9 L150.0,645.5 L152.0,646.0 L154.0,646.5 L156.0,646.9 L158.0,647.2 L160.0,647.5 L162.0,647.7 L164.0,647.9 L166.0,648.1 L168.0,648.3 L170.0,648.4 L172.0,648.5 L172.0,648.9 Z" fill="#9696DC" fill-opacity="1.000"/>
<path d="M82.0,588.0 L84.0,588.2 L86.0,588.6 L88.0,589.4 L90.0,590.4 L92.0,591.7 L94.0,593.2 L96.0,595.0 L98.0,597.0 L100.0,599.2 L102.0,601.5 L104.0,603.9 L106.0,606.4 L108.0,609.0 L110.0,611.6 L112.0,614.2 L114.0,616.8 L116.0,619.3 L118.0,621.8 L120.0,624.2 L122.0,626.5 L124.0,628.7 L126.0,630.7 L128.0,632.6 L130.0,634.4 L132.0,636.1 L134.0,637.6 L136.0,639.0 L138.0,640.3 L140.0,641.4 L142.0,642.4 L144.0,643.4 L146.0,644.2 L148.0,644.9 L150.0,645.5 L152.0,646.0 L154.0,646.5 L156.0,646.9 L158.0,647.2 L160.0,647.5 L162.0,647.7 L164.0,647.9 L166.0,648.1 L168.0,648.3 L170.0,648.4 L172.0,648.5" fill="none" stroke="#fff" stroke-width="1.30"/>
<path d="M82.0,670.5 L82.0,599.5 L84.0,599.7 L86.0,600.4 L88.0,601.4 L90.0,602.9 L92.0,604.8 L94.0,607.0 L96.0,609.5 L98.0,612.2 L100.0,615.2 L102.0,618.4 L104.0,621.6 L106.0,625.0 L108.0,628.4 L110.0,631.7 L112.0,635.0 L114.0,638.3 L116.0,641.4 L118.0,644.4 L120.0,647.2 L122.0,649.8 L124.0,652.3 L126.0,654.6 L128.0,656.6 L130.0,658.5 L132.0,660.2 L134.0,661.7 L136.0,663.0 L138.0,664.2 L140.0,665.2 L142.0,666.1 L144.0,666.8 L146.0,667.5 L148.0,668.0 L150.0,668.5 L152.0,668.9 L154.0,669.2 L156.0,669.5 L158.0,669.7 L160.0,669.9 L162.0,670.0 L164.0,670.1 L164.0,670.5 Z" fill="#1C1C34" fill-opacity="1.000"/>
<path d="M82.0,599.5 L84.0,599.7 L86.0,600.4 L88.0,601.4 L90.0,602.9 L92.0,604.8 L94.0,607.0 L96.0,609.5 L98.0,612.2 L100.0,615.2 L102.0,618.4 L104.0,621.6 L106.0,625.0 L108.0,628.4 L110.0,631.7 L112.0,635.0 L114.0,638.3 L116.0,641.4 L118.0,644.4 L120.0,647.2 L122.0,649.8 L124.0,652.3 L126.0,654.6 L128.0,656.6 L130.0,658.5 L132.0,660.2 L134.0,661.7 L136.0,663.0 L138.0,664.2 L140.0,665.2 L142.0,666.1 L144.0,666.8 L146.0,667.5 L148.0,668.0 L150.0,668.5 L152.0,668.9 L154.0,669.2 L156.0,669.5 L158.0,669.7 L160.0,669.9 L162.0,670.0 L164.0,670.1" fill="none" stroke="#fff" stroke-width="1.30"/>
<path d="M82.0,670.5 L82.0,606.4 L84.0,606.6 L86.0,607.0 L88.0,607.8 L90.0,608.9 L92.0,610.3 L94.0,611.9 L96.0,613.8 L98.0,615.9 L100.0,618.2 L102.0,620.6 L104.0,623.1 L106.0,625.8 L108.0,628.5 L110.0,631.2 L112.0,634.0 L114.0,636.7 L116.0,639.4 L118.0,642.0 L120.0,644.5 L122.0,646.9 L124.0,649.2 L126.0,651.4 L128.0,653.4 L130.0,655.3 L132.0,657.1 L134.0,658.7 L136.0,660.1 L138.0,661.5 L140.0,662.7 L142.0,663.7 L144.0,664.7 L146.0,665.5 L148.0,666.3 L150.0,666.9 L152.0,667.5 L154.0,668.0 L156.0,668.4 L158.0,668.8 L160.0,669.1 L162.0,669.3 L164.0,669.5 L166.0,669.7 L168.0,669.9 L170.0,670.0 L172.0,670.1 L172.0,670.5 Z" fill="#9696DC" fill-opacity="1.000"/>
<path d="M82.0,606.4 L84.0,606.6 L86.0,607.0 L88.0,607.8 L90.0,608.9 L92.0,610.3 L94.0,611.9 L96.0,613.8 L98.0,615.9 L100.0,618.2 L102.0,620.6 L104.0,623.1 L106.0,625.8 L108.0,628.5 L110.0,631.2 L112.0,634.0 L114.0,636.7 L116.0,639.4 L118.0,642.0 L120.0,644.5 L122.0,646.9 L124.0,649.2 L126.0,651.4 L128.0,653.4 L130.0,655.3 L132.0,657.1 L134.0,658.7 L136.0,660.1 L138.0,661.5 L140.0,662.7 L142.0,663.7 L144.0,664.7 L146.0,665.5 L148.0,666.3 L150.0,666.9 L152.0,667.5 L154.0,668.0 L156.0,668.4 L158.0,668.8 L160.0,669.1 L162.0,669.3 L164.0,669.5 L166.0,669.7 L168.0,669.9 L170.0,670.0 L172.0,670.1" fill="none" stroke="#fff" stroke-width="1.30"/>
<path d="M82.0,670.5 L82.0,620.0 L84.0,620.2 L86.0,620.7 L88.0,621.5 L90.0,622.7 L92.0,624.2 L94.0,625.9 L96.0,627.9 L98.0,630.0 L100.0,632.3 L102.0,634.8 L104.0,637.3 L106.0,639.8 L108.0,642.4 L110.0,644.9 L112.0,647.3 L114.0,649.7 L116.0,651.9 L118.0,654.0 L120.0,656.0 L122.0,657.8 L124.0,659.5 L126.0,661.0 L128.0,662.4 L130.0,663.6 L132.0,664.7 L134.0,665.6 L136.0,666.4 L138.0,667.1 L140.0,667.7 L142.0,668.3 L144.0,668.7 L146.0,669.0 L148.0,669.3 L150.0,669.6 L152.0,669.8 L154.0,669.9 L156.0,670.1 L156.0,670.5 Z" fill="#ABABF6" fill-opacity="1.000"/>
<path d="M82.0,692.1 L82.0,628.6 L84.0,628.8 L86.0,629.5 L88.0,630.7 L90.0,632.2 L92.0,634.2 L94.0,636.5 L96.0,639.1 L98.0,641.9 L100.0,645.0 L102.0,648.1 L104.0,651.4 L106.0,654.7 L108.0,658.0 L110.0,661.2 L112.0,664.3 L114.0,667.3 L116.0,670.2 L118.0,672.8 L120.0,675.3 L122.0,677.5 L124.0,679.6 L126.0,681.4 L128.0,683.0 L130.0,684.5 L132.0,685.7 L134.0,686.8 L136.0,687.8 L138.0,688.6 L140.0,689.2 L142.0,689.8 L144.0,690.3 L146.0,690.7 L148.0,691.0 L150.0,691.2 L152.0,691.4 L154.0,691.6 L156.0,691.7 L156.0,692.1 Z" fill="#1C1C34" fill-opacity="1.000"/>
<path d="M82.0,628.6 L84.0,628.8 L86.0,629.5 L88.0,630.7 L90.0,632.2 L92.0,634.2 L94.0,636.5 L96.0,639.1 L98.0,641.9 L100.0,645.0 L102.0,648.1 L104.0,651.4 L106.0,654.7 L108.0,658.0 L110.0,661.2 L112.0,664.3 L114.0,667.3 L116.0,670.2 L118.0,672.8 L120.0,675.3 L122.0,677.5 L124.0,679.6 L126.0,681.4 L128.0,683.0 L130.0,684.5 L132.0,685.7 L134.0,686.8 L136.0,687.8 L138.0,688.6 L140.0,689.2 L142.0,689.8 L144.0,690.3 L146.0,690.7 L148.0,691.0 L150.0,691.2 L152.0,691.4 L154.0,691.6 L156.0,691.7" fill="none" stroke="#fff" stroke-width="1.30"/>
<path d="M82.0,713.8 L82.0,639.8 L84.0,640.0 L86.0,640.5 L88.0,641.3 L90.0,642.4 L92.0,643.9 L94.0,645.6 L96.0,647.6 L98.0,649.8 L100.0,652.2 L102.0,654.8 L104.0,657.6 L106.0,660.4 L108.0,663.4 L110.0,666.3 L112.0,669.4 L114.0,672.4 L116.0,675.4 L118.0,678.3 L120.0,681.2 L122.0,683.9 L124.0,686.6 L126.0,689.1 L128.0,691.5 L130.0,693.7 L132.0,695.8 L134.0,697.8 L136.0,699.6 L138.0,701.3 L140.0,702.8 L142.0,704.2 L144.0,705.4 L146.0,706.5 L148.0,707.5 L150.0,708.4 L152.0,709.2 L154.0,709.9 L156.0,710.5 L158.0,711.0 L160.0,711.4 L162.0,711.8 L164.0,712.1 L166.0,712.4 L168.0,712.7 L170.0,712.9 L172.0,713.0 L174.0,713.2 L176.0,713.3 L178.0,713.4 L178.0,713.8 Z" fill="#4844D8" fill-opacity="1.000"/>
<path d="M82.0,639.8 L84.0,640.0 L86.0,640.5 L88.0,641.3 L90.0,642.4 L92.0,643.9 L94.0,645.6 L96.0,647.6 L98.0,649.8 L100.0,652.2 L102.0,654.8 L104.0,657.6 L106.0,660.4 L108.0,663.4 L110.0,666.3 L112.0,669.4 L114.0,672.4 L116.0,675.4 L118.0,678.3 L120.0,681.2 L122.0,683.9 L124.0,686.6 L126.0,689.1 L128.0,691.5 L130.0,693.7 L132.0,695.8 L134.0,697.8 L136.0,699.6 L138.0,701.3 L140.0,702.8 L142.0,704.2 L144.0,705.4 L146.0,706.5 L148.0,707.5 L150.0,708.4 L152.0,709.2 L154.0,709.9 L156.0,710.5 L158.0,711.0 L160.0,711.4 L162.0,711.8 L164.0,712.1 L166.0,712.4 L168.0,712.7 L170.0,712.9 L172.0,713.0 L174.0,713.2 L176.0,713.3 L178.0,713.4" fill="none" stroke="#fff" stroke-width="1.30"/>
<path d="M82.0,692.1 L82.0,654.6 L84.0,654.7 L86.0,654.9 L88.0,655.2 L90.0,655.6 L92.0,656.2 L94.0,656.9 L96.0,657.7 L98.0,658.5 L100.0,659.5 L102.0,660.6 L104.0,661.7 L106.0,662.9 L108.0,664.1 L110.0,665.4 L112.0,666.7 L114.0,668.1 L116.0,669.4 L118.0,670.8 L120.0,672.1 L122.0,673.4 L124.0,674.7 L126.0,675.9 L128.0,677.2 L130.0,678.3 L132.0,679.5 L134.0,680.5 L136.0,681.6 L138.0,682.5 L140.0,683.4 L142.0,684.3 L144.0,685.1 L146.0,685.8 L148.0,686.5 L150.0,687.1 L152.0,687.7 L154.0,688.2 L156.0,688.7 L158.0,689.1 L160.0,689.5 L162.0,689.8 L164.0,690.1 L166.0,690.4 L168.0,690.6 L170.0,690.8 L172.0,691.0 L174.0,691.2 L176.0,691.3 L178.0,691.5 L180.0,691.6 L182.0,691.7 L184.0,691.7 L184.0,692.1 Z" fill="#ABABF6" fill-opacity="1.000"/>
<path d="M82.0,654.6 L84.0,654.7 L86.0,654.9 L88.0,655.2 L90.0,655.6 L92.0,656.2 L94.0,656.9 L96.0,657.7 L98.0,658.5 L100.0,659.5 L102.0,660.6 L104.0,661.7 L106.0,662.9 L108.0,664.1 L110.0,665.4 L112.0,666.7 L114.0,668.1 L116.0,669.4 L118.0,670.8 L120.0,672.1 L122.0,673.4 L124.0,674.7 L126.0,675.9 L128.0,677.2 L130.0,678.3 L132.0,679.5 L134.0,680.5 L136.0,681.6 L138.0,682.5 L140.0,683.4 L142.0,684.3 L144.0,685.1 L146.0,685.8 L148.0,686.5 L150.0,687.1 L152.0,687.7 L154.0,688.2 L156.0,688.7 L158.0,689.1 L160.0,689.5 L162.0,689.8 L164.0,690.1 L166.0,690.4 L168.0,690.6 L170.0,690.8 L172.0,691.0 L174.0,691.2 L176.0,691.3 L178.0,691.5 L180.0,691.6 L182.0,691.7 L184.0,691.7" fill="none" stroke="#fff" stroke-width="1.30"/>
<path d="M82.0,735.4 L82.0,672.0 L84.0,672.3 L86.0,673.0 L88.0,674.3 L90.0,676.1 L92.0,678.3 L94.0,680.8 L96.0,683.7 L98.0,686.8 L100.0,690.2 L102.0,693.6 L104.0,697.1 L106.0,700.6 L108.0,704.0 L110.0,707.4 L112.0,710.6 L114.0,713.6 L116.0,716.4 L118.0,719.0 L120.0,721.3 L122.0,723.4 L124.0,725.3 L126.0,727.0 L128.0,728.4 L130.0,729.7 L132.0,730.7 L134.0,731.6 L136.0,732.4 L138.0,733.0 L140.0,733.5 L142.0,733.9 L144.0,734.3 L146.0,734.5 L148.0,734.7 L150.0,734.9 L152.0,735.0 L152.0,735.4 Z" fill="#1C1C34" fill-opacity="1.000"/>
<path d="M82.0,672.0 L84.0,672.3 L86.0,673.0 L88.0,674.3 L90.0,676.1 L92.0,678.3 L94.0,680.8 L96.0,683.7 L98.0,686.8 L100.0,690.2 L102.0,693.6 L104.0,697.1 L106.0,700.6 L108.0,704.0 L110.0,707.4 L112.0,710.6 L114.0,713.6 L116.0,716.4 L118.0,719.0 L120.0,721.3 L122.0,723.4 L124.0,725.3 L126.0,727.0 L128.0,728.4 L130.0,729.7 L132.0,730.7 L134.0,731.6 L136.0,732.4 L138.0,733.0 L140.0,733.5 L142.0,733.9 L144.0,734.3 L146.0,734.5 L148.0,734.7 L150.0,734.9 L152.0,735.0" fill="none" stroke="#fff" stroke-width="1.30"/>
<path d="M82.0,713.8 L82.0,677.0 L84.0,677.1 L86.0,677.3 L88.0,677.6 L90.0,678.1 L92.0,678.6 L94.0,679.3 L96.0,680.1 L98.0,681.0 L100.0,682.0 L102.0,683.1 L104.0,684.2 L106.0,685.4 L108.0,686.7 L110.0,688.0 L112.0,689.3 L114.0,690.6 L116.0,692.0 L118.0,693.3 L120.0,694.6 L122.0,696.0 L124.0,697.2 L126.0,698.5 L128.0,699.7 L130.0,700.8 L132.0,701.9 L134.0,703.0 L136.0,704.0 L138.0,704.9 L140.0,705.8 L142.0,706.6 L144.0,707.3 L146.0,708.0 L148.0,708.7 L150.0,709.2 L152.0,709.8 L154.0,710.3 L156.0,710.7 L158.0,711.1 L160.0,711.4 L162.0,711.8 L164.0,712.0 L166.0,712.3 L168.0,712.5 L170.0,712.7 L172.0,712.8 L174.0,713.0 L176.0,713.1 L178.0,713.2 L180.0,713.3 L182.0,713.4 L182.0,713.8 Z" fill="#4844D8" fill-opacity="1.000"/>
<path d="M82.0,677.0 L84.0,677.1 L86.0,677.3 L88.0,677.6 L90.0,678.1 L92.0,678.6 L94.0,679.3 L96.0,680.1 L98.0,681.0 L100.0,682.0 L102.0,683.1 L104.0,684.2 L106.0,685.4 L108.0,686.7 L110.0,688.0 L112.0,689.3 L114.0,690.6 L116.0,692.0 L118.0,693.3 L120.0,694.6 L122.0,696.0 L124.0,697.2 L126.0,698.5 L128.0,699.7 L130.0,700.8 L132.0,701.9 L134.0,703.0 L136.0,704.0 L138.0,704.9 L140.0,705.8 L142.0,706.6 L144.0,707.3 L146.0,708.0 L148.0,708.7 L150.0,709.2 L152.0,709.8 L154.0,710.3 L156.0,710.7 L158.0,711.1 L160.0,711.4 L162.0,711.8 L164.0,712.0 L166.0,712.3 L168.0,712.5 L170.0,712.7 L172.0,712.8 L174.0,713.0 L176.0,713.1 L178.0,713.2 L180.0,713.3 L182.0,713.4" fill="none" stroke="#fff" stroke-width="1.30"/>
<path d="M82.0,757.1 L82.0,696.9 L84.0,697.1 L86.0,697.9 L88.0,699.1 L90.0,700.8 L92.0,702.8 L94.0,705.3 L96.0,708.0 L98.0,711.0 L100.0,714.1 L102.0,717.4 L104.0,720.7 L106.0,724.0 L108.0,727.3 L110.0,730.5 L112.0,733.5 L114.0,736.3 L116.0,739.0 L118.0,741.4 L120.0,743.7 L122.0,745.7 L124.0,747.5 L126.0,749.0 L128.0,750.4 L130.0,751.6 L132.0,752.6 L134.0,753.5 L136.0,754.2 L138.0,754.8 L140.0,755.2 L142.0,755.6 L144.0,756.0 L146.0,756.2 L148.0,756.4 L150.0,756.6 L152.0,756.7 L152.0,757.1 Z" fill="#1C1C34" fill-opacity="1.000"/>
<path d="M82.0,696.9 L84.0,697.1 L86.0,697.9 L88.0,699.1 L90.0,700.8 L92.0,702.8 L94.0,705.3 L96.0,708.0 L98.0,711.0 L100.0,714.1 L102.0,717.4 L104.0,720.7 L106.0,724.0 L108.0,727.3 L110.0,730.5 L112.0,733.5 L114.0,736.3 L116.0,739.0 L118.0,741.4 L120.0,743.7 L122.0,745.7 L124.0,747.5 L126.0,749.0 L128.0,750.4 L130.0,751.6 L132.0,752.6 L134.0,753.5 L136.0,754.2 L138.0,754.8 L140.0,755.2 L142.0,755.6 L144.0,756.0 L146.0,756.2 L148.0,756.4 L150.0,756.6 L152.0,756.7" fill="none" stroke="#fff" stroke-width="1.30"/>
<path d="M82.0,735.4 L82.0,701.0 L84.0,701.1 L86.0,701.2 L88.0,701.5 L90.0,701.9 L92.0,702.3 L94.0,702.9 L96.0,703.6 L98.0,704.4 L100.0,705.2 L102.0,706.1 L104.0,707.1 L106.0,708.1 L108.0,709.2 L110.0,710.3 L112.0,711.4 L114.0,712.6 L116.0,713.7 L118.0,714.9 L120.0,716.1 L122.0,717.3 L124.0,718.4 L126.0,719.6 L128.0,720.7 L130.0,721.7 L132.0,722.8 L134.0,723.7 L136.0,724.7 L138.0,725.6 L140.0,726.5 L142.0,727.3 L144.0,728.0 L146.0,728.7 L148.0,729.4 L150.0,730.0 L152.0,730.6 L154.0,731.1 L156.0,731.6 L158.0,732.0 L160.0,732.4 L162.0,732.8 L164.0,733.1 L166.0,733.4 L168.0,733.6 L170.0,733.9 L172.0,734.1 L174.0,734.3 L176.0,734.4 L178.0,734.6 L180.0,734.7 L182.0,734.8 L184.0,734.9 L186.0,735.0 L188.0,735.0 L188.0,735.4 Z" fill="#9696DC" fill-opacity="1.000"/>
<path d="M82.0,701.0 L84.0,701.1 L86.0,701.2 L88.0,701.5 L90.0,701.9 L92.0,702.3 L94.0,702.9 L96.0,703.6 L98.0,704.4 L100.0,705.2 L102.0,706.1 L104.0,707.1 L106.0,708.1 L108.0,709.2 L110.0,710.3 L112.0,711.4 L114.0,712.6 L116.0,713.7 L118.0,714.9 L120.0,716.1 L122.0,717.3 L124.0,718.4 L126.0,719.6 L128.0,720.7 L130.0,721.7 L132.0,722.8 L134.0,723.7 L136.0,724.7 L138.0,725.6 L140.0,726.5 L142.0,727.3 L144.0,728.0 L146.0,728.7 L148.0,729.4 L150.0,730.0 L152.0,730.6 L154.0,731.1 L156.0,731.6 L158.0,732.0 L160.0,732.4 L162.0,732.8 L164.0,733.1 L166.0,733.4 L168.0,733.6 L170.0,733.9 L172.0,734.1 L174.0,734.3 L176.0,734.4 L178.0,734.6 L180.0,734.7 L182.0,734.8 L184.0,734.9 L186.0,735.0 L188.0,735.0" fill="none" stroke="#fff" stroke-width="1.30"/>
<path d="M82.0,757.1 L82.0,726.0 L84.0,726.1 L86.0,726.2 L88.0,726.5 L90.0,726.9 L92.0,727.4 L94.0,728.0 L96.0,728.7 L98.0,729.5 L100.0,730.4 L102.0,731.3 L104.0,732.4 L106.0,733.4 L108.0,734.5 L110.0,735.6 L112.0,736.8 L114.0,737.9 L116.0,739.1 L118.0,740.2 L120.0,741.4 L122.0,742.5 L124.0,743.6 L126.0,744.6 L128.0,745.6 L130.0,746.6 L132.0,747.5 L134.0,748.4 L136.0,749.2 L138.0,750.0 L140.0,750.7 L142.0,751.4 L144.0,752.0 L146.0,752.6 L148.0,753.1 L150.0,753.6 L152.0,754.0 L154.0,754.4 L156.0,754.7 L158.0,755.0 L160.0,755.3 L162.0,755.6 L164.0,755.8 L166.0,756.0 L168.0,756.1 L170.0,756.3 L172.0,756.4 L174.0,756.5 L176.0,756.6 L178.0,756.7 L178.0,757.1 Z" fill="#4844D8" fill-opacity="1.000"/>
<path d="M82.0,726.0 L84.0,726.1 L86.0,726.2 L88.0,726.5 L90.0,726.9 L92.0,727.4 L94.0,728.0 L96.0,728.7 L98.0,729.5 L100.0,730.4 L102.0,731.3 L104.0,732.4 L106.0,733.4 L108.0,734.5 L110.0,735.6 L112.0,736.8 L114.0,737.9 L116.0,739.1 L118.0,740.2 L120.0,741.4 L122.0,742.5 L124.0,743.6 L126.0,744.6 L128.0,745.6 L130.0,746.6 L132.0,747.5 L134.0,748.4 L136.0,749.2 L138.0,750.0 L140.0,750.7 L142.0,751.4 L144.0,752.0 L146.0,752.6 L148.0,753.1 L150.0,753.6 L152.0,754.0 L154.0,754.4 L156.0,754.7 L158.0,755.0 L160.0,755.3 L162.0,755.6 L164.0,755.8 L166.0,756.0 L168.0,756.1 L170.0,756.3 L172.0,756.4 L174.0,756.5 L176.0,756.6 L178.0,756.7" fill="none" stroke="#fff" stroke-width="1.30"/>
<path d="M82.0,778.7 L82.0,735.0 L84.0,735.2 L86.0,735.7 L88.0,736.6 L90.0,737.8 L92.0,739.3 L94.0,741.1 L96.0,743.1 L98.0,745.2 L100.0,747.5 L102.0,749.9 L104.0,752.3 L106.0,754.7 L108.0,757.1 L110.0,759.4 L112.0,761.6 L114.0,763.6 L116.0,765.6 L118.0,767.4 L120.0,769.0 L122.0,770.4 L124.0,771.7 L126.0,772.9 L128.0,773.9 L130.0,774.7 L132.0,775.5 L134.0,776.1 L136.0,776.6 L138.0,777.0 L140.0,777.4 L142.0,777.7 L144.0,777.9 L146.0,778.1 L148.0,778.2 L150.0,778.3 L150.0,778.7 Z" fill="#1C1C34" fill-opacity="1.000"/>
<path d="M82.0,735.0 L84.0,735.2 L86.0,735.7 L88.0,736.6 L90.0,737.8 L92.0,739.3 L94.0,741.1 L96.0,743.1 L98.0,745.2 L100.0,747.5 L102.0,749.9 L104.0,752.3 L106.0,754.7 L108.0,757.1 L110.0,759.4 L112.0,761.6 L114.0,763.6 L116.0,765.6 L118.0,767.4 L120.0,769.0 L122.0,770.4 L124.0,771.7 L126.0,772.9 L128.0,773.9 L130.0,774.7 L132.0,775.5 L134.0,776.1 L136.0,776.6 L138.0,777.0 L140.0,777.4 L142.0,777.7 L144.0,777.9 L146.0,778.1 L148.0,778.2 L150.0,778.3" fill="none" stroke="#fff" stroke-width="1.30"/>
<path d="M82.0,778.7 L82.0,742.5 L84.0,742.6 L86.0,742.7 L88.0,743.0 L90.0,743.4 L92.0,743.9 L94.0,744.5 L96.0,745.2 L98.0,746.0 L100.0,746.9 L102.0,747.9 L104.0,748.9 L106.0,749.9 L108.0,751.1 L110.0,752.2 L112.0,753.4 L114.0,754.7 L116.0,755.9 L118.0,757.1 L120.0,758.4 L122.0,759.6 L124.0,760.8 L126.0,762.0 L128.0,763.2 L130.0,764.3 L132.0,765.4 L134.0,766.4 L136.0,767.4 L138.0,768.4 L140.0,769.3 L142.0,770.1 L144.0,770.9 L146.0,771.7 L148.0,772.4 L150.0,773.0 L152.0,773.6 L154.0,774.1 L156.0,774.7 L158.0,775.1 L160.0,775.5 L162.0,775.9 L164.0,776.2 L166.0,776.5 L168.0,776.8 L170.0,777.1 L172.0,777.3 L174.0,777.5 L176.0,777.6 L178.0,777.8 L180.0,777.9 L182.0,778.0 L184.0,778.1 L186.0,778.2 L188.0,778.3 L188.0,778.7 Z" fill="#9696DC" fill-opacity="1.000"/>
<path d="M82.0,742.5 L84.0,742.6 L86.0,742.7 L88.0,743.0 L90.0,743.4 L92.0,743.9 L94.0,744.5 L96.0,745.2 L98.0,746.0 L100.0,746.9 L102.0,747.9 L104.0,748.9 L106.0,749.9 L108.0,751.1 L110.0,752.2 L112.0,753.4 L114.0,754.7 L116.0,755.9 L118.0,757.1 L120.0,758.4 L122.0,759.6 L124.0,760.8 L126.0,762.0 L128.0,763.2 L130.0,764.3 L132.0,765.4 L134.0,766.4 L136.0,767.4 L138.0,768.4 L140.0,769.3 L142.0,770.1 L144.0,770.9 L146.0,771.7 L148.0,772.4 L150.0,773.0 L152.0,773.6 L154.0,774.1 L156.0,774.7 L158.0,775.1 L160.0,775.5 L162.0,775.9 L164.0,776.2 L166.0,776.5 L168.0,776.8 L170.0,777.1 L172.0,777.3 L174.0,777.5 L176.0,777.6 L178.0,777.8 L180.0,777.9 L182.0,778.0 L184.0,778.1 L186.0,778.2 L188.0,778.3" fill="none" stroke="#fff" stroke-width="1.30"/>
<path d="M82.0,800.3 L82.0,758.4 L84.0,758.5 L86.0,758.7 L88.0,759.1 L90.0,759.6 L92.0,760.3 L94.0,761.2 L96.0,762.1 L98.0,763.2 L100.0,764.4 L102.0,765.6 L104.0,767.0 L106.0,768.4 L108.0,769.9 L110.0,771.4 L112.0,772.9 L114.0,774.5 L116.0,776.1 L118.0,777.6 L120.0,779.1 L122.0,780.7 L124.0,782.1 L126.0,783.5 L128.0,784.9 L130.0,786.2 L132.0,787.5 L134.0,788.7 L136.0,789.8 L138.0,790.8 L140.0,791.8 L142.0,792.7 L144.0,793.5 L146.0,794.3 L148.0,795.0 L150.0,795.6 L152.0,796.2 L154.0,796.7 L156.0,797.2 L158.0,797.6 L160.0,798.0 L162.0,798.3 L164.0,798.6 L166.0,798.8 L168.0,799.1 L170.0,799.3 L172.0,799.4 L174.0,799.6 L176.0,799.7 L178.0,799.8 L180.0,799.9 L182.0,800.0 L182.0,800.3 Z" fill="#4844D8" fill-opacity="1.000"/>
<path d="M82.0,758.4 L84.0,758.5 L86.0,758.7 L88.0,759.1 L90.0,759.6 L92.0,760.3 L94.0,761.2 L96.0,762.1 L98.0,763.2 L100.0,764.4 L102.0,765.6 L104.0,767.0 L106.0,768.4 L108.0,769.9 L110.0,771.4 L112.0,772.9 L114.0,774.5 L116.0,776.1 L118.0,777.6 L120.0,779.1 L122.0,780.7 L124.0,782.1 L126.0,783.5 L128.0,784.9 L130.0,786.2 L132.0,787.5 L134.0,788.7 L136.0,789.8 L138.0,790.8 L140.0,791.8 L142.0,792.7 L144.0,793.5 L146.0,794.3 L148.0,795.0 L150.0,795.6 L152.0,796.2 L154.0,796.7 L156.0,797.2 L158.0,797.6 L160.0,798.0 L162.0,798.3 L164.0,798.6 L166.0,798.8 L168.0,799.1 L170.0,799.3 L172.0,799.4 L174.0,799.6 L176.0,799.7 L178.0,799.8 L180.0,799.9 L182.0,800.0" fill="none" stroke="#fff" stroke-width="1.30"/>
<path d="M82.0,822.0 L82.0,784.0 L84.0,784.1 L86.0,784.3 L88.0,784.5 L90.0,784.7 L92.0,784.9 L94.0,785.2 L96.0,785.4 L98.0,785.7 L100.0,786.0 L102.0,786.3 L104.0,786.6 L106.0,786.9 L108.0,787.2 L110.0,787.6 L112.0,788.0 L114.0,788.4 L116.0,788.9 L118.0,789.5 L120.0,790.1 L122.0,791.1 L124.0,792.5 L126.0,794.1 L128.0,795.8 L130.0,797.4 L132.0,799.0 L134.0,800.5 L136.0,802.0 L138.0,803.6 L140.0,805.1 L142.0,806.4 L144.0,807.5 L146.0,808.4 L148.0,809.1 L150.0,809.8 L152.0,810.5 L154.0,811.1 L156.0,811.6 L158.0,812.2 L160.0,812.6 L162.0,813.0 L164.0,813.4 L166.0,813.7 L168.0,814.0 L170.0,814.2 L172.0,814.4 L174.0,814.6 L176.0,814.8 L178.0,815.0 L180.0,815.2 L182.0,815.3 L184.0,815.5 L186.0,815.6 L188.0,815.8 L190.0,815.9 L192.0,816.0 L194.0,816.1 L196.0,816.2 L198.0,816.3 L200.0,816.4 L202.0,816.5 L204.0,816.5 L206.0,816.6 L208.0,816.7 L210.0,816.7 L212.0,816.8 L214.0,816.8 L216.0,816.9 L218.0,816.9 L220.0,817.0 L222.0,817.0 L224.0,817.0 L226.0,817.1 L228.0,817.1 L230.0,817.2 L232.0,817.2 L234.0,817.3 L236.0,817.3 L238.0,817.4 L240.0,817.5 L242.0,817.5 L244.0,817.6 L246.0,817.7 L248.0,817.7 L250.0,817.8 L252.0,817.9 L254.0,818.0 L256.0,818.0 L258.0,818.1 L260.0,818.2 L262.0,818.4 L264.0,818.5 L266.0,818.6 L268.0,818.8 L270.0,819.0 L272.0,819.3 L274.0,819.8 L276.0,820.5 L278.0,821.2 L278.0,822.0 Z" fill="#ABABF6" fill-opacity="1.000"/>
<path d="M82.0,784.0 L84.0,784.1 L86.0,784.3 L88.0,784.5 L90.0,784.7 L92.0,784.9 L94.0,785.2 L96.0,785.4 L98.0,785.7 L100.0,786.0 L102.0,786.3 L104.0,786.6 L106.0,786.9 L108.0,787.2 L110.0,787.6 L112.0,788.0 L114.0,788.4 L116.0,788.9 L118.0,789.5 L120.0,790.1 L122.0,791.1 L124.0,792.5 L126.0,794.1 L128.0,795.8 L130.0,797.4 L132.0,799.0 L134.0,800.5 L136.0,802.0 L138.0,803.6 L140.0,805.1 L142.0,806.4 L144.0,807.5 L146.0,808.4 L148.0,809.1 L150.0,809.8 L152.0,810.5 L154.0,811.1 L156.0,811.6 L158.0,812.2 L160.0,812.6 L162.0,813.0 L164.0,813.4 L166.0,813.7 L168.0,814.0 L170.0,814.2 L172.0,814.4 L174.0,814.6 L176.0,814.8 L178.0,815.0 L180.0,815.2 L182.0,815.3 L184.0,815.5 L186.0,815.6 L188.0,815.8 L190.0,815.9 L192.0,816.0 L194.0,816.1 L196.0,816.2 L198.0,816.3 L200.0,816.4 L202.0,816.5 L204.0,816.5 L206.0,816.6 L208.0,816.7 L210.0,816.7 L212.0,816.8 L214.0,816.8 L216.0,816.9 L218.0,816.9 L220.0,817.0 L222.0,817.0 L224.0,817.0 L226.0,817.1 L228.0,817.1 L230.0,817.2 L232.0,817.2 L234.0,817.3 L236.0,817.3 L238.0,817.4 L240.0,817.5 L242.0,817.5 L244.0,817.6 L246.0,817.7 L248.0,817.7 L250.0,817.8 L252.0,817.9 L254.0,818.0 L256.0,818.0 L258.0,818.1 L260.0,818.2 L262.0,818.4 L264.0,818.5 L266.0,818.6 L268.0,818.8 L270.0,819.0 L272.0,819.3 L274.0,819.8 L276.0,820.5 L278.0,821.2" fill="none" stroke="#fff" stroke-width="1.30"/>
<path d="M82.0,843.6 L82.0,803.6 L84.0,804.2 L86.0,804.7 L88.0,805.3 L90.0,805.8 L92.0,806.3 L94.0,806.8 L96.0,807.3 L98.0,807.8 L100.0,808.3 L102.0,808.8 L104.0,809.3 L106.0,809.7 L108.0,810.2 L110.0,810.6 L112.0,811.0 L114.0,811.4 L116.0,811.8 L118.0,812.2 L120.0,812.5 L122.0,812.9 L124.0,813.2 L126.0,813.6 L128.0,813.9 L130.0,814.3 L132.0,814.7 L134.0,815.1 L136.0,815.5 L138.0,815.9 L140.0,816.4 L142.0,817.0 L144.0,817.6 L146.0,818.4 L148.0,819.2 L150.0,819.9 L152.0,820.7 L154.0,821.5 L156.0,822.1 L158.0,822.7 L160.0,823.1 L162.0,823.5 L164.0,823.8 L166.0,824.0 L168.0,824.3 L170.0,824.5 L172.0,824.7 L174.0,824.9 L176.0,825.1 L178.0,825.3 L180.0,825.4 L182.0,825.6 L184.0,825.7 L186.0,825.9 L188.0,826.1 L190.0,826.3 L192.0,826.5 L194.0,826.7 L196.0,827.0 L198.0,827.3 L200.0,827.6 L202.0,828.0 L204.0,828.5 L206.0,829.0 L208.0,829.6 L210.0,830.2 L212.0,830.8 L214.0,831.4 L216.0,832.0 L218.0,832.6 L220.0,833.2 L222.0,833.8 L224.0,834.4 L226.0,835.0 L228.0,835.6 L230.0,836.2 L232.0,836.8 L234.0,837.3 L236.0,837.8 L238.0,838.3 L240.0,838.6 L242.0,838.9 L244.0,839.3 L246.0,839.6 L248.0,839.9 L250.0,840.1 L252.0,840.4 L254.0,840.6 L256.0,840.8 L258.0,841.0 L260.0,841.1 L262.0,841.2 L264.0,841.3 L266.0,841.4 L268.0,841.4 L270.0,841.5 L272.0,841.5 L274.0,841.6 L276.0,841.6 L278.0,841.6 L280.0,841.6 L282.0,841.6 L284.0,841.6 L286.0,841.6 L288.0,841.7 L290.0,841.7 L292.0,841.7 L294.0,841.7 L296.0,841.7 L298.0,841.7 L300.0,841.7 L302.0,841.7 L304.0,841.7 L306.0,841.7 L308.0,841.7 L310.0,841.7 L312.0,841.7 L314.0,841.7 L316.0,841.7 L318.0,841.7 L320.0,841.7 L322.0,841.7 L324.0,841.7 L326.0,841.7 L328.0,841.7 L330.0,841.7 L332.0,841.7 L334.0,841.7 L336.0,841.7 L338.0,841.7 L340.0,841.7 L342.0,841.7 L344.0,841.7 L346.0,841.7 L348.0,841.7 L350.0,841.7 L352.0,841.8 L354.0,841.8 L356.0,841.8 L358.0,841.8 L360.0,841.8 L362.0,841.8 L364.0,841.8 L364.0,843.6 Z" fill="#262636" fill-opacity="1.000"/>
<path d="M82.0,803.6 L84.0,804.2 L86.0,804.7 L88.0,805.3 L90.0,805.8 L92.0,806.3 L94.0,806.8 L96.0,807.3 L98.0,807.8 L100.0,808.3 L102.0,808.8 L104.0,809.3 L106.0,809.7 L108.0,810.2 L110.0,810.6 L112.0,811.0 L114.0,811.4 L116.0,811.8 L118.0,812.2 L120.0,812.5 L122.0,812.9 L124.0,813.2 L126.0,813.6 L128.0,813.9 L130.0,814.3 L132.0,814.7 L134.0,815.1 L136.0,815.5 L138.0,815.9 L140.0,816.4 L142.0,817.0 L144.0,817.6 L146.0,818.4 L148.0,819.2 L150.0,819.9 L152.0,820.7 L154.0,821.5 L156.0,822.1 L158.0,822.7 L160.0,823.1 L162.0,823.5 L164.0,823.8 L166.0,824.0 L168.0,824.3 L170.0,824.5 L172.0,824.7 L174.0,824.9 L176.0,825.1 L178.0,825.3 L180.0,825.4 L182.0,825.6 L184.0,825.7 L186.0,825.9 L188.0,826.1 L190.0,826.3 L192.0,826.5 L194.0,826.7 L196.0,827.0 L198.0,827.3 L200.0,827.6 L202.0,828.0 L204.0,828.5 L206.0,829.0 L208.0,829.6 L210.0,830.2 L212.0,830.8 L214.0,831.4 L216.0,832.0 L218.0,832.6 L220.0,833.2 L222.0,833.8 L224.0,834.4 L226.0,835.0 L228.0,835.6 L230.0,836.2 L232.0,836.8 L234.0,837.3 L236.0,837.8 L238.0,838.3 L240.0,838.6 L242.0,838.9 L244.0,839.3 L246.0,839.6 L248.0,839.9 L250.0,840.1 L252.0,840.4 L254.0,840.6 L256.0,840.8 L258.0,841.0 L260.0,841.1 L262.0,841.2 L264.0,841.3 L266.0,841.4 L268.0,841.4 L270.0,841.5 L272.0,841.5 L274.0,841.6 L276.0,841.6 L278.0,841.6 L280.0,841.6 L282.0,841.6 L284.0,841.6 L286.0,841.6 L288.0,841.7 L290.0,841.7 L292.0,841.7 L294.0,841.7 L296.0,841.7 L298.0,841.7 L300.0,841.7 L302.0,841.7 L304.0,841.7 L306.0,841.7 L308.0,841.7 L310.0,841.7 L312.0,841.7 L314.0,841.7 L316.0,841.7 L318.0,841.7 L320.0,841.7 L322.0,841.7 L324.0,841.7 L326.0,841.7 L328.0,841.7 L330.0,841.7 L332.0,841.7 L334.0,841.7 L336.0,841.7 L338.0,841.7 L340.0,841.7 L342.0,841.7 L344.0,841.7 L346.0,841.7 L348.0,841.7 L350.0,841.7 L352.0,841.8 L354.0,841.8 L356.0,841.8 L358.0,841.8 L360.0,841.8 L362.0,841.8 L364.0,841.8" fill="none" stroke="#fff" stroke-width="1.30"/>
<path d="M82.0,843.6 L82.0,790.0 L84.0,790.1 L86.0,790.2 L88.0,790.5 L90.0,790.8 L92.0,791.3 L94.0,791.8 L96.0,792.4 L98.0,793.1 L100.0,793.9 L102.0,794.8 L104.0,795.8 L106.0,796.8 L108.0,797.9 L110.0,799.0 L112.0,800.2 L114.0,801.5 L116.0,802.7 L118.0,804.1 L120.0,805.4 L122.0,806.8 L124.0,808.2 L126.0,809.5 L128.0,810.9 L130.0,812.3 L132.0,813.7 L134.0,815.1 L136.0,816.4 L138.0,817.7 L140.0,818.9 L142.0,820.2 L144.0,821.3 L146.0,822.4 L148.0,823.5 L150.0,824.5 L152.0,825.5 L154.0,826.4 L156.0,827.3 L158.0,828.2 L160.0,829.1 L162.0,829.9 L164.0,830.7 L166.0,831.5 L168.0,832.3 L170.0,833.0 L172.0,833.7 L174.0,834.3 L176.0,834.9 L178.0,835.5 L180.0,836.0 L182.0,836.5 L184.0,837.0 L186.0,837.5 L188.0,837.9 L190.0,838.3 L192.0,838.7 L194.0,839.1 L196.0,839.4 L198.0,839.8 L200.0,840.2 L202.0,840.5 L204.0,840.9 L206.0,841.2 L208.0,841.6 L210.0,841.9 L212.0,842.1 L214.0,842.4 L215.0,842.5 L215.0,843.6 Z" fill="#4844D8" fill-opacity="1.000"/>
<path d="M82.0,790.0 L84.0,790.1 L86.0,790.2 L88.0,790.5 L90.0,790.8 L92.0,791.3 L94.0,791.8 L96.0,792.4 L98.0,793.1 L100.0,793.9 L102.0,794.8 L104.0,795.8 L106.0,796.8 L108.0,797.9 L110.0,799.0 L112.0,800.2 L114.0,801.5 L116.0,802.7 L118.0,804.1 L120.0,805.4 L122.0,806.8 L124.0,808.2 L126.0,809.5 L128.0,810.9 L130.0,812.3 L132.0,813.7 L134.0,815.1 L136.0,816.4 L138.0,817.7 L140.0,818.9 L142.0,820.2 L144.0,821.3 L146.0,822.4 L148.0,823.5 L150.0,824.5 L152.0,825.5 L154.0,826.4 L156.0,827.3 L158.0,828.2 L160.0,829.1 L162.0,829.9 L164.0,830.7 L166.0,831.5 L168.0,832.3 L170.0,833.0 L172.0,833.7 L174.0,834.3 L176.0,834.9 L178.0,835.5 L180.0,836.0 L182.0,836.5 L184.0,837.0 L186.0,837.5 L188.0,837.9 L190.0,838.3 L192.0,838.7 L194.0,839.1 L196.0,839.4 L198.0,839.8 L200.0,840.2 L202.0,840.5 L204.0,840.9 L206.0,841.2 L208.0,841.6 L210.0,841.9 L212.0,842.1 L214.0,842.4 L215.0,842.5" fill="none" stroke="#fff" stroke-width="1.30"/>
<path d="M82.0,843.6 L82.0,783.7 L84.0,783.9 L86.0,784.4 L88.0,785.3 L90.0,786.4 L92.0,787.9 L94.0,789.7 L96.0,791.7 L98.0,793.9 L100.0,796.3 L102.0,798.9 L104.0,801.5 L106.0,804.3 L108.0,807.1 L110.0,809.8 L112.0,812.6 L114.0,815.3 L116.0,817.9 L118.0,820.4 L120.0,822.8 L122.0,825.0 L124.0,827.1 L126.0,829.1 L128.0,830.8 L130.0,832.5 L132.0,834.0 L134.0,835.3 L136.0,836.5 L138.0,837.6 L140.0,838.5 L142.0,839.3 L144.0,840.0 L146.0,840.6 L148.0,841.1 L150.0,841.6 L152.0,841.9 L154.0,842.3 L156.0,842.5 L158.0,842.7 L160.0,842.9 L162.0,843.1 L164.0,843.2 L164.0,843.6 Z" fill="#3E3E5E" fill-opacity="1.000"/>
<path d="M82.0,783.7 L84.0,783.9 L86.0,784.4 L88.0,785.3 L90.0,786.4 L92.0,787.9 L94.0,789.7 L96.0,791.7 L98.0,793.9 L100.0,796.3 L102.0,798.9 L104.0,801.5 L106.0,804.3 L108.0,807.1 L110.0,809.8 L112.0,812.6 L114.0,815.3 L116.0,817.9 L118.0,820.4 L120.0,822.8 L122.0,825.0 L124.0,827.1 L126.0,829.1 L128.0,830.8 L130.0,832.5 L132.0,834.0 L134.0,835.3 L136.0,836.5 L138.0,837.6 L140.0,838.5 L142.0,839.3 L144.0,840.0 L146.0,840.6 L148.0,841.1 L150.0,841.6 L152.0,841.9 L154.0,842.3 L156.0,842.5 L158.0,842.7 L160.0,842.9 L162.0,843.1 L164.0,843.2" fill="none" stroke="#fff" stroke-width="1.30"/>
<path d="M82.0,865.3 L82.0,801.7 L84.0,801.8 L86.0,802.2 L88.0,802.9 L90.0,803.8 L92.0,804.9 L94.0,806.3 L96.0,807.8 L98.0,809.6 L100.0,811.5 L102.0,813.6 L104.0,815.8 L106.0,818.1 L108.0,820.4 L110.0,822.9 L112.0,825.3 L114.0,827.8 L116.0,830.3 L118.0,832.7 L120.0,835.1 L122.0,837.4 L124.0,839.7 L126.0,841.9 L128.0,844.0 L130.0,845.9 L132.0,847.8 L134.0,849.5 L136.0,851.2 L138.0,852.7 L140.0,854.1 L142.0,855.4 L144.0,856.5 L146.0,857.6 L148.0,858.6 L150.0,859.4 L152.0,860.2 L154.0,860.9 L156.0,861.5 L158.0,862.0 L160.0,862.5 L162.0,862.9 L164.0,863.3 L166.0,863.6 L168.0,863.9 L170.0,864.1 L172.0,864.3 L174.0,864.5 L176.0,864.6 L178.0,864.7 L180.0,864.8 L182.0,864.9 L182.0,865.3 Z" fill="#9696DC" fill-opacity="1.000"/>
<path d="M82.0,801.7 L84.0,801.8 L86.0,802.2 L88.0,802.9 L90.0,803.8 L92.0,804.9 L94.0,806.3 L96.0,807.8 L98.0,809.6 L100.0,811.5 L102.0,813.6 L104.0,815.8 L106.0,818.1 L108.0,820.4 L110.0,822.9 L112.0,825.3 L114.0,827.8 L116.0,830.3 L118.0,832.7 L120.0,835.1 L122.0,837.4 L124.0,839.7 L126.0,841.9 L128.0,844.0 L130.0,845.9 L132.0,847.8 L134.0,849.5 L136.0,851.2 L138.0,852.7 L140.0,854.1 L142.0,855.4 L144.0,856.5 L146.0,857.6 L148.0,858.6 L150.0,859.4 L152.0,860.2 L154.0,860.9 L156.0,861.5 L158.0,862.0 L160.0,862.5 L162.0,862.9 L164.0,863.3 L166.0,863.6 L168.0,863.9 L170.0,864.1 L172.0,864.3 L174.0,864.5 L176.0,864.6 L178.0,864.7 L180.0,864.8 L182.0,864.9" fill="none" stroke="#fff" stroke-width="1.30"/>
<path d="M82.0,886.9 L82.0,811.3 L84.0,811.4 L86.0,811.8 L88.0,812.5 L90.0,813.4 L92.0,814.5 L94.0,815.9 L96.0,817.5 L98.0,819.3 L100.0,821.2 L102.0,823.3 L104.0,825.6 L106.0,828.0 L108.0,830.5 L110.0,833.1 L112.0,835.7 L114.0,838.4 L116.0,841.1 L118.0,843.8 L120.0,846.5 L122.0,849.1 L124.0,851.7 L126.0,854.3 L128.0,856.7 L130.0,859.1 L132.0,861.4 L134.0,863.5 L136.0,865.6 L138.0,867.5 L140.0,869.3 L142.0,871.1 L144.0,872.6 L146.0,874.1 L148.0,875.5 L150.0,876.7 L152.0,877.9 L154.0,878.9 L156.0,879.9 L158.0,880.7 L160.0,881.5 L162.0,882.2 L164.0,882.8 L166.0,883.4 L168.0,883.8 L170.0,884.3 L172.0,884.7 L174.0,885.0 L176.0,885.3 L178.0,885.5 L180.0,885.7 L182.0,885.9 L184.0,886.1 L186.0,886.2 L188.0,886.3 L190.0,886.4 L192.0,886.5 L192.0,886.9 Z" fill="#6464EE" fill-opacity="1.000"/>
<path d="M82.0,811.3 L84.0,811.4 L86.0,811.8 L88.0,812.5 L90.0,813.4 L92.0,814.5 L94.0,815.9 L96.0,817.5 L98.0,819.3 L100.0,821.2 L102.0,823.3 L104.0,825.6 L106.0,828.0 L108.0,830.5 L110.0,833.1 L112.0,835.7 L114.0,838.4 L116.0,841.1 L118.0,843.8 L120.0,846.5 L122.0,849.1 L124.0,851.7 L126.0,854.3 L128.0,856.7 L130.0,859.1 L132.0,861.4 L134.0,863.5 L136.0,865.6 L138.0,867.5 L140.0,869.3 L142.0,871.1 L144.0,872.6 L146.0,874.1 L148.0,875.5 L150.0,876.7 L152.0,877.9 L154.0,878.9 L156.0,879.9 L158.0,880.7 L160.0,881.5 L162.0,882.2 L164.0,882.8 L166.0,883.4 L168.0,883.8 L170.0,884.3 L172.0,884.7 L174.0,885.0 L176.0,885.3 L178.0,885.5 L180.0,885.7 L182.0,885.9 L184.0,886.1 L186.0,886.2 L188.0,886.3 L190.0,886.4 L192.0,886.5" fill="none" stroke="#fff" stroke-width="1.30"/>
<clipPath id="c20"><rect x="80" y="700" width="300" height="165.3"/></clipPath>
<path d="M82.0,886.9 L82.0,811.3 L84.0,811.4 L86.0,811.8 L88.0,812.5 L90.0,813.4 L92.0,814.5 L94.0,815.9 L96.0,817.5 L98.0,819.3 L100.0,821.2 L102.0,823.3 L104.0,825.6 L106.0,828.0 L108.0,830.5 L110.0,833.1 L112.0,835.7 L114.0,838.4 L116.0,841.1 L118.0,843.8 L120.0,846.5 L122.0,849.1 L124.0,851.7 L126.0,854.3 L128.0,856.7 L130.0,859.1 L132.0,861.4 L134.0,863.5 L136.0,865.6 L138.0,867.5 L140.0,869.3 L142.0,871.1 L144.0,872.6 L146.0,874.1 L148.0,875.5 L150.0,876.7 L152.0,877.9 L154.0,878.9 L156.0,879.9 L158.0,880.7 L160.0,881.5 L162.0,882.2 L164.0,882.8 L166.0,883.4 L168.0,883.8 L170.0,884.3 L172.0,884.7 L174.0,885.0 L176.0,885.3 L178.0,885.5 L180.0,885.7 L182.0,885.9 L184.0,886.1 L186.0,886.2 L188.0,886.3 L190.0,886.4 L192.0,886.5 L192.0,886.9 Z" fill="#4844D8" clip-path="url(#c20)"/>
<path d="M82.0,811.3 L84.0,811.4 L86.0,811.8 L88.0,812.5 L90.0,813.4 L92.0,814.5 L94.0,815.9 L96.0,817.5 L98.0,819.3 L100.0,821.2 L102.0,823.3 L104.0,825.6 L106.0,828.0 L108.0,830.5 L110.0,833.1 L112.0,835.7 L114.0,838.4 L116.0,841.1 L118.0,843.8 L120.0,846.5 L122.0,849.1 L124.0,851.7 L126.0,854.3 L128.0,856.7 L130.0,859.1 L132.0,861.4 L134.0,863.5 L136.0,865.6 L138.0,867.5 L140.0,869.3 L142.0,871.1 L144.0,872.6 L146.0,874.1 L148.0,875.5 L150.0,876.7 L152.0,877.9 L154.0,878.9 L156.0,879.9 L158.0,880.7 L160.0,881.5 L162.0,882.2 L164.0,882.8 L166.0,883.4 L168.0,883.8 L170.0,884.3 L172.0,884.7 L174.0,885.0 L176.0,885.3 L178.0,885.5 L180.0,885.7 L182.0,885.9 L184.0,886.1 L186.0,886.2 L188.0,886.3 L190.0,886.4 L192.0,886.5" fill="none" stroke="#fff" stroke-width="1.3"/>
<clipPath id="cpT"><rect x="80" y="30" width="468" height="392"/></clipPath>
<clipPath id="cpB"><rect x="81.5" y="490" width="467.5" height="398"/></clipPath>
<g clip-path="url(#cpT)">
<rect x="80" y="56" width="2.8" height="364" fill="#FF1400"/>
<circle cx="80.6" cy="59.1" r="3.1" fill="#FF1400"/>
<circle cx="80.7" cy="64.2" r="3.1" fill="#FF1400"/>
<circle cx="81.1" cy="68.1" r="3.1" fill="#FF1400"/>
<circle cx="80.3" cy="74.7" r="3.1" fill="#FF1400"/>
<circle cx="80.6" cy="78.5" r="3.1" fill="#FF1400"/>
<circle cx="81.5" cy="83.9" r="3.1" fill="#FF1400"/>
<circle cx="81.3" cy="89.0" r="3.1" fill="#FF1400"/>
<circle cx="81.1" cy="93.3" r="3.1" fill="#FF1400"/>
<circle cx="81.1" cy="99.7" r="3.1" fill="#FF1400"/>
<circle cx="80.9" cy="104.5" r="3.1" fill="#FF1400"/>
<circle cx="81.1" cy="108.1" r="3.1" fill="#FF1400"/>
<circle cx="81.2" cy="114.2" r="3.1" fill="#FF1400"/>
<circle cx="80.7" cy="118.1" r="3.1" fill="#FF1400"/>
<circle cx="81.3" cy="123.9" r="3.1" fill="#FF1400"/>
<circle cx="81.2" cy="129.8" r="3.1" fill="#FF1400"/>
<circle cx="81.2" cy="134.8" r="3.1" fill="#FF1400"/>
<circle cx="80.8" cy="139.6" r="3.1" fill="#FF1400"/>
<circle cx="80.8" cy="144.9" r="3.1" fill="#FF1400"/>
<circle cx="81.4" cy="148.2" r="3.1" fill="#FF1400"/>
<circle cx="80.5" cy="153.4" r="3.1" fill="#FF1400"/>
<circle cx="81.5" cy="158.9" r="3.1" fill="#FF1400"/>
<circle cx="81.1" cy="163.6" r="3.1" fill="#FF1400"/>
<circle cx="80.9" cy="168.8" r="3.1" fill="#FF1400"/>
<circle cx="80.7" cy="174.2" r="3.1" fill="#FF1400"/>
<circle cx="81.0" cy="179.8" r="3.1" fill="#FF1400"/>
<circle cx="81.1" cy="184.9" r="3.1" fill="#FF1400"/>
<circle cx="81.3" cy="190.0" r="3.1" fill="#FF1400"/>
<circle cx="81.1" cy="193.3" r="3.1" fill="#FF1400"/>
<circle cx="81.3" cy="199.9" r="3.1" fill="#FF1400"/>
<circle cx="81.4" cy="204.1" r="3.1" fill="#FF1400"/>
<circle cx="81.2" cy="208.4" r="3.1" fill="#FF1400"/>
<circle cx="81.3" cy="214.1" r="3.1" fill="#FF1400"/>
<circle cx="80.6" cy="218.1" r="3.1" fill="#FF1400"/>
<circle cx="81.3" cy="225.0" r="3.1" fill="#FF1400"/>
<circle cx="80.4" cy="229.6" r="3.1" fill="#FF1400"/>
<circle cx="80.8" cy="233.3" r="3.1" fill="#FF1400"/>
<circle cx="80.7" cy="239.5" r="3.1" fill="#FF1400"/>
<circle cx="81.3" cy="243.1" r="3.1" fill="#FF1400"/>
<circle cx="81.0" cy="248.1" r="3.1" fill="#FF1400"/>
<circle cx="81.2" cy="253.7" r="3.1" fill="#FF1400"/>
<circle cx="81.4" cy="260.0" r="3.1" fill="#FF1400"/>
<circle cx="80.9" cy="265.0" r="3.1" fill="#FF1400"/>
<circle cx="80.7" cy="268.2" r="3.1" fill="#FF1400"/>
<circle cx="81.0" cy="273.1" r="3.1" fill="#FF1400"/>
<circle cx="80.5" cy="278.8" r="3.1" fill="#FF1400"/>
<circle cx="81.0" cy="283.3" r="3.1" fill="#FF1400"/>
<circle cx="80.4" cy="289.7" r="3.1" fill="#FF1400"/>
<circle cx="80.7" cy="294.9" r="3.1" fill="#FF1400"/>
<circle cx="81.4" cy="298.8" r="3.1" fill="#FF1400"/>
<circle cx="80.9" cy="304.0" r="3.1" fill="#FF1400"/>
<circle cx="81.1" cy="309.2" r="3.1" fill="#FF1400"/>
<circle cx="81.0" cy="314.2" r="3.1" fill="#FF1400"/>
<circle cx="81.4" cy="319.0" r="3.1" fill="#FF1400"/>
<circle cx="80.8" cy="324.4" r="3.1" fill="#FF1400"/>
<circle cx="80.6" cy="328.6" r="3.1" fill="#FF1400"/>
<circle cx="81.5" cy="334.0" r="3.1" fill="#FF1400"/>
<circle cx="81.0" cy="338.0" r="3.1" fill="#FF1400"/>
<circle cx="80.8" cy="344.2" r="3.1" fill="#FF1400"/>
<circle cx="80.3" cy="349.2" r="3.1" fill="#FF1400"/>
<circle cx="81.1" cy="353.1" r="3.1" fill="#FF1400"/>
<circle cx="81.1" cy="358.9" r="3.1" fill="#FF1400"/>
<circle cx="81.1" cy="363.7" r="3.1" fill="#FF1400"/>
<circle cx="81.1" cy="369.5" r="3.1" fill="#FF1400"/>
<circle cx="80.3" cy="373.1" r="3.1" fill="#FF1400"/>
<circle cx="81.1" cy="379.9" r="3.1" fill="#FF1400"/>
<circle cx="80.6" cy="383.9" r="3.1" fill="#FF1400"/>
<circle cx="81.0" cy="388.6" r="3.1" fill="#FF1400"/>
<circle cx="80.7" cy="393.6" r="3.1" fill="#FF1400"/>
<circle cx="80.7" cy="399.2" r="3.1" fill="#FF1400"/>
<circle cx="80.7" cy="403.8" r="3.1" fill="#FF1400"/>
<circle cx="81.2" cy="408.1" r="3.1" fill="#FF1400"/>
<circle cx="81.0" cy="414.5" r="3.1" fill="#FF1400"/>
<circle cx="81.7" cy="89.5" r="3.2" fill="#FF1400"/>
<circle cx="85.1" cy="89.0" r="3.2" fill="#FF1400"/>
<circle cx="81.5" cy="83.1" r="3.2" fill="#FF1400"/>
<circle cx="83.9" cy="93.1" r="3.2" fill="#FF1400"/>
<circle cx="81.7" cy="107.7" r="3.2" fill="#FF1400"/>
<circle cx="85.6" cy="104.6" r="3.2" fill="#FF1400"/>
<circle cx="85.9" cy="112.7" r="3.2" fill="#FF1400"/>
<circle cx="81.8" cy="98.2" r="3.2" fill="#FF1400"/>
<circle cx="86.4" cy="125.8" r="3.2" fill="#FF1400"/>
<circle cx="81.6" cy="135.7" r="3.2" fill="#FF1400"/>
<circle cx="82.5" cy="133.6" r="3.2" fill="#FF1400"/>
<circle cx="85.2" cy="114.1" r="3.2" fill="#FF1400"/>
<circle cx="81.5" cy="152.5" r="3.2" fill="#FF1400"/>
<circle cx="85.2" cy="141.6" r="3.2" fill="#FF1400"/>
<circle cx="85.2" cy="150.5" r="3.2" fill="#FF1400"/>
<circle cx="81.5" cy="152.1" r="3.2" fill="#FF1400"/>
<circle cx="85.0" cy="174.3" r="3.2" fill="#FF1400"/>
<circle cx="81.8" cy="169.9" r="3.2" fill="#FF1400"/>
<circle cx="82.0" cy="170.1" r="3.2" fill="#FF1400"/>
<circle cx="87.0" cy="177.7" r="3.2" fill="#FF1400"/>
<circle cx="81.5" cy="175.7" r="3.2" fill="#FF1400"/>
<circle cx="86.3" cy="174.3" r="3.2" fill="#FF1400"/>
<circle cx="82.1" cy="175.4" r="3.2" fill="#FF1400"/>
<circle cx="87.1" cy="197.3" r="3.2" fill="#FF1400"/>
<circle cx="84.4" cy="200.4" r="3.2" fill="#FF1400"/>
<circle cx="83.5" cy="209.9" r="3.2" fill="#FF1400"/>
<circle cx="81.7" cy="215.3" r="3.2" fill="#FF1400"/>
<circle cx="81.6" cy="223.5" r="3.2" fill="#FF1400"/>
<circle cx="82.9" cy="238.4" r="3.2" fill="#FF1400"/>
<circle cx="85.2" cy="245.7" r="3.2" fill="#FF1400"/>
<circle cx="86.7" cy="226.2" r="3.2" fill="#FF1400"/>
<circle cx="87.0" cy="220.2" r="3.2" fill="#FF1400"/>
<circle cx="86.6" cy="251.3" r="3.2" fill="#FF1400"/>
<circle cx="81.5" cy="246.2" r="3.2" fill="#FF1400"/>
<circle cx="81.5" cy="259.6" r="3.2" fill="#FF1400"/>
<circle cx="83.5" cy="252.9" r="3.2" fill="#FF1400"/>
<circle cx="82.0" cy="262.0" r="3.2" fill="#FF1400"/>
<circle cx="83.1" cy="279.9" r="3.2" fill="#FF1400"/>
<circle cx="81.6" cy="264.3" r="3.2" fill="#FF1400"/>
<circle cx="82.3" cy="266.7" r="3.2" fill="#FF1400"/>
<circle cx="81.8" cy="305.8" r="3.2" fill="#FF1400"/>
<circle cx="82.6" cy="287.2" r="3.2" fill="#FF1400"/>
<circle cx="81.5" cy="287.9" r="3.2" fill="#FF1400"/>
<circle cx="87.0" cy="287.5" r="3.2" fill="#FF1400"/>
<circle cx="85.4" cy="333.0" r="3.2" fill="#FF1400"/>
<circle cx="83.2" cy="307.4" r="3.2" fill="#FF1400"/>
<circle cx="81.5" cy="325.1" r="3.2" fill="#FF1400"/>
<circle cx="81.6" cy="317.4" r="3.2" fill="#FF1400"/>
<circle cx="82.0" cy="340.6" r="3.2" fill="#FF1400"/>
<circle cx="84.8" cy="354.7" r="3.2" fill="#FF1400"/>
<circle cx="81.5" cy="351.0" r="3.2" fill="#FF1400"/>
<circle cx="81.5" cy="352.7" r="3.2" fill="#FF1400"/>
<circle cx="88.0" cy="350.7" r="3.2" fill="#FF1400"/>
<circle cx="81.5" cy="361.3" r="3.2" fill="#FF1400"/>
<circle cx="81.7" cy="366.9" r="3.2" fill="#FF1400"/>
<circle cx="81.8" cy="356.9" r="3.2" fill="#FF1400"/>
<circle cx="82.9" cy="387.1" r="3.2" fill="#FF1400"/>
<circle cx="81.5" cy="388.0" r="3.2" fill="#FF1400"/>
<circle cx="81.5" cy="381.2" r="3.2" fill="#FF1400"/>
<circle cx="84.1" cy="386.5" r="3.2" fill="#FF1400"/>
<circle cx="81.5" cy="414.1" r="3.2" fill="#FF1400"/>
<circle cx="81.9" cy="401.3" r="3.2" fill="#FF1400"/>
<circle cx="84.9" cy="408.0" r="3.2" fill="#FF1400"/>
<circle cx="85.1" cy="400.8" r="3.2" fill="#FF1400"/>
<circle cx="88.6" cy="89.6" r="3.3" fill="#FF1400"/>
<circle cx="86.5" cy="102" r="3.3" fill="#FF1400"/>
<circle cx="94" cy="110" r="3.3" fill="#FF4A0C"/>
<circle cx="84.5" cy="122.6" r="3.3" fill="#FF1400"/>
<circle cx="94.8" cy="129" r="3.3" fill="#FF4A0C"/>
<circle cx="88.6" cy="139" r="3.3" fill="#FF1400"/>
<circle cx="86.5" cy="164" r="3.3" fill="#FF1400"/>
<circle cx="90.7" cy="172" r="3.3" fill="#FF4A0C"/>
<circle cx="86.5" cy="197" r="3.3" fill="#FF1400"/>
<circle cx="88.6" cy="205" r="3.3" fill="#FF4A0C"/>
<circle cx="86.5" cy="255" r="3.3" fill="#FF1400"/>
<circle cx="94.8" cy="263" r="3.3" fill="#FF4A0C"/>
<circle cx="88.6" cy="288" r="3.3" fill="#FF1400"/>
<circle cx="96.8" cy="296" r="3.3" fill="#FF4A0C"/>
<circle cx="90.7" cy="321" r="3.3" fill="#FF1400"/>
<circle cx="99" cy="329" r="3.3" fill="#FF4A0C"/>
<circle cx="88.6" cy="354" r="3.3" fill="#FF1400"/>
<circle cx="94.8" cy="366" r="3.3" fill="#FF4A0C"/>
<circle cx="86.5" cy="383" r="3.3" fill="#FF1400"/>
<circle cx="90.7" cy="395" r="3.3" fill="#FF4A0C"/>
<circle cx="106.1" cy="70.6" r="3.3" fill="#FF4A0C"/>
<circle cx="120.4" cy="79.6" r="3.3" fill="#FF4A0C"/>
<circle cx="128" cy="83.8" r="3.3" fill="#FF4A0C"/>
<circle cx="135.1" cy="85.3" r="3.3" fill="#FF4A0C"/>
<circle cx="121.2" cy="91.7" r="3.3" fill="#FF4A0C"/>
<circle cx="148.7" cy="92" r="3.3" fill="#D9D3B3"/>
<circle cx="161.8" cy="90.6" r="3.3" fill="#FF4A0C"/>
<circle cx="178.4" cy="90.6" r="3.3" fill="#FF4A0C"/>
<circle cx="214.6" cy="93.2" r="3.3" fill="#FF4A0C"/>
<circle cx="219" cy="90.2" r="3.3" fill="#FF4A0C"/>
<circle cx="269.9" cy="93.2" r="3.3" fill="#FF800F"/>
<circle cx="298.9" cy="96.2" r="3.3" fill="#FF800F"/>
<circle cx="293.6" cy="97" r="3.3" fill="#FF800F"/>
<circle cx="318" cy="92.8" r="3.3" fill="#FF800F"/>
<circle cx="300" cy="95.9" r="3.3" fill="#FF800F"/>
<circle cx="336" cy="95.1" r="3.3" fill="#FF800F"/>
<circle cx="366.6" cy="94.3" r="3.3" fill="#FFC200"/>
<circle cx="467.6" cy="92.8" r="3.3" fill="#FFC200"/>
<circle cx="476.2" cy="92.8" r="3.3" fill="#FFC200"/>
<circle cx="488.7" cy="96.3" r="3.3" fill="#FFC200"/>
<circle cx="533.8" cy="96.3" r="3.3" fill="#FFE400"/>
<circle cx="106.1" cy="100.3" r="3.3" fill="#FF4A0C"/>
<circle cx="129.5" cy="116.5" r="3.3" fill="#FF800F"/>
<circle cx="146.8" cy="112.8" r="3.3" fill="#FF800F"/>
<circle cx="166.4" cy="118.4" r="3.3" fill="#FF800F"/>
<circle cx="170.9" cy="114.7" r="3.3" fill="#FF4A0C"/>
<circle cx="210" cy="116.5" r="3.3" fill="#FF800F"/>
<circle cx="122.3" cy="133.9" r="3.3" fill="#FF800F"/>
<circle cx="160.7" cy="137.2" r="3.3" fill="#FF4A0C"/>
<circle cx="188.6" cy="134.2" r="3.3" fill="#FF4A0C"/>
<circle cx="197.2" cy="139.1" r="3.3" fill="#FF4A0C"/>
<circle cx="223.6" cy="138.7" r="3.3" fill="#FF4A0C"/>
<circle cx="228.1" cy="138.7" r="3.3" fill="#FF800F"/>
<circle cx="393.2" cy="139" r="3.3" fill="#FFC200"/>
<circle cx="453.9" cy="138.6" r="3.3" fill="#FFC200"/>
<circle cx="115.5" cy="154.2" r="3.3" fill="#FF4A0C"/>
<circle cx="170.1" cy="157.6" r="3.3" fill="#FF4A0C"/>
<circle cx="169.4" cy="160.2" r="3.3" fill="#FF4A0C"/>
<circle cx="300.8" cy="160.6" r="3.3" fill="#FF800F"/>
<circle cx="124.2" cy="170.8" r="3.3" fill="#FF4A0C"/>
<circle cx="118.2" cy="181.3" r="3.3" fill="#FF4A0C"/>
<circle cx="128.7" cy="179.4" r="3.3" fill="#FF4A0C"/>
<circle cx="137" cy="183.6" r="3.3" fill="#FF800F"/>
<circle cx="143" cy="182" r="3.3" fill="#FF4A0C"/>
<circle cx="187.4" cy="176" r="3.3" fill="#FF800F"/>
<circle cx="193.5" cy="182.4" r="3.3" fill="#FF800F"/>
<circle cx="208.5" cy="179" r="3.3" fill="#FF4A0C"/>
<circle cx="214.6" cy="179" r="3.3" fill="#FF800F"/>
<circle cx="225.9" cy="181.3" r="3.3" fill="#FF800F"/>
<circle cx="259" cy="179" r="3.3" fill="#FF800F"/>
<circle cx="259.4" cy="182" r="3.3" fill="#FF800F"/>
<circle cx="292.9" cy="180.5" r="3.3" fill="#FF800F"/>
<circle cx="480.1" cy="182" r="3.3" fill="#FFC200"/>
<circle cx="508.7" cy="180.1" r="3.3" fill="#FFC200"/>
<circle cx="87.3" cy="194.8" r="3.3" fill="#FF4A0C"/>
<circle cx="104.6" cy="198.2" r="3.3" fill="#FF800F"/>
<circle cx="131.7" cy="201.2" r="3.3" fill="#FF4A0C"/>
<circle cx="170.5" cy="202.4" r="3.3" fill="#FF4A0C"/>
<circle cx="184.8" cy="199.7" r="3.3" fill="#FF4A0C"/>
<circle cx="198.4" cy="204.3" r="3.3" fill="#FF4A0C"/>
<circle cx="240.9" cy="203.9" r="3.3" fill="#FF800F"/>
<circle cx="250" cy="203.1" r="3.3" fill="#FFC200"/>
<circle cx="277.8" cy="204.3" r="3.3" fill="#FFC200"/>
<circle cx="308.7" cy="203.5" r="3.3" fill="#FF800F"/>
<circle cx="124.7" cy="224.7" r="3.3" fill="#FF4A0C"/>
<circle cx="148.8" cy="224.7" r="3.3" fill="#FF4A0C"/>
<circle cx="155.6" cy="224.7" r="3.3" fill="#FF4A0C"/>
<circle cx="204" cy="224.2" r="3.3" fill="#FF800F"/>
<circle cx="237.1" cy="222.7" r="3.3" fill="#FF800F"/>
<circle cx="295.5" cy="225.7" r="3.3" fill="#FF800F"/>
<circle cx="311.7" cy="222.7" r="3.3" fill="#FF800F"/>
<circle cx="373.6" cy="224.3" r="3.3" fill="#FFC200"/>
<circle cx="383" cy="223.9" r="3.3" fill="#FFC200"/>
<circle cx="425.3" cy="225.1" r="3.3" fill="#FFC200"/>
<circle cx="500.9" cy="223.2" r="3.3" fill="#FFC200"/>
<circle cx="520.4" cy="222" r="3.3" fill="#FFC200"/>
<circle cx="540.8" cy="218.8" r="3.3" fill="#FFC200"/>
<circle cx="542.8" cy="222" r="3.3" fill="#FFE400"/>
<circle cx="137.4" cy="243.9" r="3.3" fill="#FF4A0C"/>
<circle cx="148.7" cy="243.2" r="3.3" fill="#FF800F"/>
<circle cx="161.8" cy="243.9" r="3.3" fill="#FF4A0C"/>
<circle cx="174.6" cy="241.7" r="3.3" fill="#FF800F"/>
<circle cx="195.7" cy="244.3" r="3.3" fill="#FF4A0C"/>
<circle cx="225.5" cy="247" r="3.3" fill="#FF4A0C"/>
<circle cx="266.1" cy="247" r="3.3" fill="#FFC200"/>
<circle cx="268.8" cy="246.2" r="3.3" fill="#FFC200"/>
<circle cx="538.8" cy="246.4" r="3.3" fill="#FFE400"/>
<circle cx="544.7" cy="244.9" r="3.3" fill="#FFE400"/>
<circle cx="96.7" cy="258.2" r="3.3" fill="#FF4A0C"/>
<circle cx="87.3" cy="263.9" r="3.3" fill="#FF4A0C"/>
<circle cx="112.5" cy="265.8" r="3.3" fill="#FF4A0C"/>
<circle cx="133.2" cy="262.8" r="3.3" fill="#FF4A0C"/>
<circle cx="140.8" cy="260.1" r="3.3" fill="#FF4A0C"/>
<circle cx="137" cy="268" r="3.3" fill="#FF4A0C"/>
<circle cx="156.2" cy="266.9" r="3.3" fill="#D9D3B3"/>
<circle cx="179.2" cy="266.9" r="3.3" fill="#D9D3B3"/>
<circle cx="184.4" cy="263.1" r="3.3" fill="#FF800F"/>
<circle cx="184.1" cy="266.5" r="3.3" fill="#FF4A0C"/>
<circle cx="231.1" cy="266.5" r="3.3" fill="#FF4A0C"/>
<circle cx="271.8" cy="264.6" r="3.3" fill="#FFC200"/>
<circle cx="283.1" cy="268" r="3.3" fill="#FFC200"/>
<circle cx="299.3" cy="263.5" r="3.3" fill="#FFC200"/>
<circle cx="314" cy="263.5" r="3.3" fill="#FFC200"/>
<circle cx="337.2" cy="269.2" r="3.3" fill="#FFC200"/>
<circle cx="341.1" cy="268.4" r="3.3" fill="#FFC200"/>
<circle cx="394" cy="267.2" r="3.3" fill="#FFC200"/>
<circle cx="453.9" cy="264.5" r="3.3" fill="#FFC200"/>
<circle cx="461.3" cy="264.5" r="3.3" fill="#FFC200"/>
<circle cx="99.3" cy="279" r="3.3" fill="#FF4A0C"/>
<circle cx="88.4" cy="289.5" r="3.3" fill="#FF4A0C"/>
<circle cx="113.6" cy="295.1" r="3.3" fill="#FF4A0C"/>
<circle cx="138.9" cy="285.3" r="3.3" fill="#FF800F"/>
<circle cx="119.3" cy="305.3" r="3.3" fill="#FF4A0C"/>
<circle cx="125" cy="309.8" r="3.3" fill="#FF4A0C"/>
<circle cx="183.3" cy="309.1" r="3.3" fill="#FFC200"/>
<circle cx="193.5" cy="309.1" r="3.3" fill="#FF4A0C"/>
<circle cx="217.2" cy="309.8" r="3.3" fill="#FF800F"/>
<circle cx="85.4" cy="310.2" r="3.3" fill="#D9D3B3"/>
<circle cx="96.7" cy="322.2" r="3.3" fill="#FF4A0C"/>
<circle cx="113.6" cy="321.5" r="3.3" fill="#FF4A0C"/>
<circle cx="156.2" cy="330.9" r="3.3" fill="#FF4A0C"/>
<circle cx="168.2" cy="326" r="3.3" fill="#FF4A0C"/>
<circle cx="170.1" cy="326" r="3.3" fill="#FF4A0C"/>
<circle cx="191.6" cy="326" r="3.3" fill="#FF4A0C"/>
<circle cx="199.1" cy="326.8" r="3.3" fill="#FF4A0C"/>
<circle cx="218.3" cy="332.4" r="3.3" fill="#FF4A0C"/>
<circle cx="223.6" cy="329.8" r="3.3" fill="#FF800F"/>
<circle cx="232.2" cy="330.9" r="3.3" fill="#FF800F"/>
<circle cx="269.9" cy="333.5" r="3.3" fill="#FF4A0C"/>
<circle cx="388" cy="331" r="3.3" fill="#FFC200"/>
<circle cx="536.9" cy="328.7" r="3.3" fill="#FFE400"/>
<circle cx="542" cy="328.7" r="3.3" fill="#FFE400"/>
<circle cx="114.8" cy="344.8" r="3.3" fill="#FF4A0C"/>
<circle cx="142.6" cy="350.5" r="3.3" fill="#FF800F"/>
<circle cx="271.4" cy="352.4" r="3.3" fill="#FF4A0C"/>
<circle cx="86.2" cy="361.8" r="3.3" fill="#FF4A0C"/>
<circle cx="114.8" cy="363.7" r="3.3" fill="#FF4A0C"/>
<circle cx="119.3" cy="371.2" r="3.3" fill="#FF4A0C"/>
<circle cx="154.3" cy="373.8" r="3.3" fill="#FF4A0C"/>
<circle cx="165.2" cy="375.7" r="3.3" fill="#FF4A0C"/>
<circle cx="195.7" cy="375" r="3.3" fill="#FF4A0C"/>
<circle cx="207" cy="371.2" r="3.3" fill="#FF4A0C"/>
<circle cx="211.5" cy="375" r="3.3" fill="#FF800F"/>
<circle cx="256.7" cy="374.2" r="3.3" fill="#FF800F"/>
<circle cx="305.7" cy="375" r="3.3" fill="#FF4A0C"/>
<circle cx="103.1" cy="386.3" r="3.3" fill="#FF4A0C"/>
<circle cx="113.6" cy="382.5" r="3.3" fill="#FF800F"/>
<circle cx="118.5" cy="391.1" r="3.3" fill="#FF4A0C"/>
<circle cx="132.5" cy="397.5" r="3.3" fill="#FF4A0C"/>
<circle cx="153.2" cy="394.5" r="3.3" fill="#FF800F"/>
<circle cx="157" cy="394.5" r="3.3" fill="#FF800F"/>
<circle cx="184.1" cy="397.5" r="3.3" fill="#FF4A0C"/>
<circle cx="223.6" cy="394.5" r="3.3" fill="#FF800F"/>
<circle cx="248.4" cy="397.5" r="3.3" fill="#FFC200"/>
<circle cx="317" cy="395.7" r="3.3" fill="#FFC200"/>
<circle cx="337.6" cy="397.2" r="3.3" fill="#FFC200"/>
<circle cx="365.4" cy="394.4" r="3.3" fill="#FFC200"/>
<circle cx="394.4" cy="392.1" r="3.3" fill="#FFC200"/>
<circle cx="412.4" cy="393.7" r="3.3" fill="#FFC200"/>
<circle cx="418.2" cy="393.7" r="3.3" fill="#FFC200"/>
<circle cx="447.6" cy="396.4" r="3.3" fill="#FFC200"/>
<circle cx="465.6" cy="395.2" r="3.3" fill="#FFC200"/>
<circle cx="486.8" cy="397.6" r="3.3" fill="#FFC200"/>
<circle cx="113.6" cy="413.7" r="3.3" fill="#FF800F"/>
<circle cx="133.2" cy="411.9" r="3.3" fill="#FF800F"/>
<circle cx="138.1" cy="416.4" r="3.3" fill="#FF4A0C"/>
<circle cx="120" cy="417.1" r="3.3" fill="#D9D3B3"/>
<circle cx="211.5" cy="417.1" r="3.3" fill="#FFC200"/>
<circle cx="231.1" cy="418.6" r="3.3" fill="#FF800F"/>
<circle cx="280.4" cy="417.1" r="3.3" fill="#FF800F"/>
<circle cx="343" cy="418" r="3.3" fill="#FF800F"/>
<circle cx="347" cy="418" r="3.3" fill="#FF800F"/>
<circle cx="397.9" cy="414" r="3.3" fill="#FFC200"/>
<circle cx="406.5" cy="416" r="3.3" fill="#FFC200"/>
<circle cx="441" cy="412.5" r="3.3" fill="#FFE400"/>
<circle cx="448.8" cy="417.2" r="3.3" fill="#FFE400"/>
<circle cx="472.3" cy="410.1" r="3.3" fill="#FFE400"/>
<circle cx="480.9" cy="408.2" r="3.3" fill="#FFE400"/>
<circle cx="484" cy="414.8" r="3.3" fill="#FFE400"/>
<circle cx="491.9" cy="413.2" r="3.3" fill="#FFE400"/>
<circle cx="507.5" cy="414.8" r="3.3" fill="#FFE400"/>
<circle cx="535" cy="394.4" r="3.3" fill="#FFE400"/>
<circle cx="538.8" cy="388.6" r="3.3" fill="#FFE400"/>
<circle cx="542.8" cy="390.5" r="3.3" fill="#FFE400"/>
<circle cx="544.7" cy="398.4" r="3.3" fill="#FFE400"/>
<circle cx="542.8" cy="404.2" r="3.3" fill="#FFE400"/>
<circle cx="533" cy="402.3" r="3.3" fill="#FFE400"/>
<circle cx="544.7" cy="410.1" r="3.3" fill="#FFE400"/>
<circle cx="540.8" cy="414" r="3.3" fill="#FFE400"/>
<circle cx="546" cy="386" r="3.3" fill="#FFE400"/>
<circle cx="546" cy="402" r="3.3" fill="#FFE400"/>
<circle cx="546" cy="416" r="3.3" fill="#FFE400"/>
</g>
<g clip-path="url(#cpB)">
<circle cx="82.3" cy="501.1" r="3.1" fill="#FF1400"/>
<circle cx="82.6" cy="510.3" r="3.1" fill="#FF1400"/>
<circle cx="82.4" cy="518.7" r="3.1" fill="#FF1400"/>
<circle cx="82.6" cy="527.2" r="3.1" fill="#FF1400"/>
<circle cx="82.3" cy="538.6" r="3.1" fill="#FF6A10"/>
<circle cx="82.3" cy="547.7" r="3.1" fill="#FF6A10"/>
<circle cx="82.2" cy="555.4" r="3.1" fill="#FF1400"/>
<circle cx="82.7" cy="565.0" r="3.1" fill="#FF6A10"/>
<circle cx="82.6" cy="574.0" r="3.1" fill="#FF6A10"/>
<circle cx="82.5" cy="581.3" r="3.1" fill="#FF1400"/>
<circle cx="82.0" cy="590.4" r="3.1" fill="#FF6A10"/>
<circle cx="82.0" cy="599.3" r="3.1" fill="#FF1400"/>
<circle cx="82.7" cy="608.5" r="3.1" fill="#FF1400"/>
<circle cx="82.7" cy="617.4" r="3.1" fill="#FF6A10"/>
<circle cx="82.5" cy="628.5" r="3.1" fill="#FF6A10"/>
<circle cx="82.5" cy="637.4" r="3.1" fill="#FF1400"/>
<circle cx="82.6" cy="645.5" r="3.1" fill="#FF6A10"/>
<circle cx="82.1" cy="655.2" r="3.1" fill="#FF6A10"/>
<circle cx="82.0" cy="663.0" r="3.1" fill="#FF1400"/>
<circle cx="82.7" cy="671.7" r="3.1" fill="#FF1400"/>
<circle cx="82.2" cy="681.8" r="3.1" fill="#FF6A10"/>
<circle cx="82.3" cy="690.1" r="3.1" fill="#FF1400"/>
<circle cx="82.3" cy="699.3" r="3.1" fill="#FF1400"/>
<circle cx="82.4" cy="709.9" r="3.1" fill="#FF1400"/>
<circle cx="82.6" cy="716.5" r="3.1" fill="#FF1400"/>
<circle cx="82.6" cy="727.0" r="3.1" fill="#FF1400"/>
<circle cx="82.4" cy="735.9" r="3.1" fill="#FF6A10"/>
<circle cx="82.1" cy="743.3" r="3.1" fill="#FF6A10"/>
<circle cx="82.7" cy="753.6" r="3.1" fill="#FF1400"/>
<circle cx="82.6" cy="761.6" r="3.1" fill="#FF1400"/>
<circle cx="82.2" cy="771.8" r="3.1" fill="#FF1400"/>
<circle cx="82.2" cy="781.1" r="3.1" fill="#FF6A10"/>
<circle cx="82.2" cy="790.1" r="3.1" fill="#FF1400"/>
<circle cx="82.7" cy="798.8" r="3.1" fill="#FF1400"/>
<circle cx="82.2" cy="806.1" r="3.1" fill="#FF1400"/>
<circle cx="82.3" cy="815.5" r="3.1" fill="#FF1400"/>
<circle cx="82.3" cy="826.3" r="3.1" fill="#FF1400"/>
<circle cx="82.8" cy="834.4" r="3.1" fill="#FF1400"/>
<circle cx="82.4" cy="844.5" r="3.1" fill="#FF6A10"/>
<circle cx="82.4" cy="852.4" r="3.1" fill="#FF6A10"/>
<circle cx="82.7" cy="861.2" r="3.1" fill="#FF6A10"/>
<circle cx="82.8" cy="870.4" r="3.1" fill="#FF1400"/>
<circle cx="82.2" cy="880.2" r="3.1" fill="#FF1400"/>
<circle cx="108.8" cy="549.1" r="3.3" fill="#FF4A0C"/>
<circle cx="143.4" cy="551.2" r="3.3" fill="#FF800F"/>
<circle cx="181.2" cy="558.5" r="3.3" fill="#FF4A0C"/>
<circle cx="524.3" cy="536.1" r="3.3" fill="#FF800F"/>
<circle cx="547" cy="533.4" r="3.3" fill="#FF800F"/>
<circle cx="505.3" cy="557.8" r="3.3" fill="#FFC200"/>
<circle cx="535.1" cy="555.1" r="3.3" fill="#FFC200"/>
<circle cx="547" cy="544.2" r="3.3" fill="#FF800F"/>
<circle cx="547" cy="560.5" r="3.3" fill="#FF800F"/>
<circle cx="95.8" cy="586.5" r="3.3" fill="#FF1400"/>
<circle cx="108.6" cy="580" r="3.3" fill="#8F6FD8"/>
<circle cx="126.9" cy="593.2" r="3.3" fill="#8F6FD8"/>
<circle cx="97.8" cy="609.3" r="3.3" fill="#FF1400"/>
<circle cx="248.8" cy="603.9" r="3.3" fill="#FF800F"/>
<circle cx="379" cy="604.4" r="3.3" fill="#FFE400"/>
<circle cx="392.5" cy="604.4" r="3.3" fill="#D9D3B3"/>
<circle cx="537.3" cy="603.9" r="3.3" fill="#FF4A0C"/>
<circle cx="167" cy="619.5" r="3.3" fill="#FF4A0C"/>
<circle cx="210.5" cy="638.6" r="3.3" fill="#FF4A0C"/>
<circle cx="223.5" cy="641.5" r="3.3" fill="#FF4A0C"/>
<circle cx="136" cy="650" r="3.3" fill="#8F6FD8"/>
<circle cx="277.5" cy="633.7" r="3.3" fill="#FF800F"/>
<circle cx="292.2" cy="630.5" r="3.3" fill="#FF800F"/>
<circle cx="311.2" cy="635.3" r="3.3" fill="#FF800F"/>
<circle cx="323.6" cy="644.6" r="3.3" fill="#FF800F"/>
<circle cx="338.3" cy="647.3" r="3.3" fill="#FF800F"/>
<circle cx="372.5" cy="643.5" r="3.3" fill="#FF800F"/>
<circle cx="293.3" cy="644.6" r="3.3" fill="#FF800F"/>
<circle cx="307.4" cy="642.4" r="3.3" fill="#FF800F"/>
<circle cx="487.4" cy="640.8" r="3.3" fill="#FFE400"/>
<circle cx="514.5" cy="645.6" r="3.3" fill="#FFE400"/>
<circle cx="140.5" cy="663" r="3.3" fill="#FF1400"/>
<circle cx="184" cy="658.1" r="3.3" fill="#FF1400"/>
<circle cx="216.6" cy="652.8" r="3.3" fill="#FFE400"/>
<circle cx="237.7" cy="652.8" r="3.3" fill="#FF1400"/>
<circle cx="260.9" cy="661" r="3.3" fill="#FFC200"/>
<circle cx="315.4" cy="666.2" r="3.3" fill="#FF1400"/>
<circle cx="435.9" cy="666.2" r="3.3" fill="#FF4A0C"/>
<circle cx="471.1" cy="666.2" r="3.3" fill="#FF4A0C"/>
<circle cx="538.9" cy="670.6" r="3.3" fill="#FF4A0C"/>
<circle cx="142.3" cy="688" r="3.3" fill="#C48AC0"/>
<circle cx="191.8" cy="689" r="3.3" fill="#FF800F"/>
<circle cx="303" cy="685.2" r="3.3" fill="#FFC200"/>
<circle cx="320.4" cy="677.1" r="3.3" fill="#FF800F"/>
<circle cx="342.1" cy="683.1" r="3.3" fill="#FFC200"/>
<circle cx="358.4" cy="682.5" r="3.3" fill="#FFC200"/>
<circle cx="368.1" cy="688.5" r="3.3" fill="#FFE400"/>
<circle cx="373.5" cy="690.6" r="3.3" fill="#FF800F"/>
<circle cx="380.6" cy="679.8" r="3.3" fill="#FFE400"/>
<circle cx="464.1" cy="686.3" r="3.3" fill="#FFE400"/>
<circle cx="511.8" cy="686.3" r="3.3" fill="#FFE400"/>
<circle cx="544.4" cy="684.1" r="3.3" fill="#FFE400"/>
<circle cx="547" cy="688" r="3.3" fill="#FFE400"/>
<circle cx="533.5" cy="702.8" r="3.3" fill="#FFE400"/>
<circle cx="541.6" cy="706" r="3.3" fill="#FFE400"/>
<circle cx="411.5" cy="734.2" r="3.3" fill="#FF800F"/>
<circle cx="426.7" cy="734.2" r="3.3" fill="#FF800F"/>
<circle cx="452.2" cy="727.7" r="3.3" fill="#FFC200"/>
<circle cx="491.2" cy="719" r="3.3" fill="#FFC200"/>
<circle cx="502" cy="728.8" r="3.3" fill="#FFC200"/>
<circle cx="517.2" cy="727.7" r="3.3" fill="#FF800F"/>
<circle cx="528.1" cy="718" r="3.3" fill="#FF800F"/>
<circle cx="536.2" cy="722.3" r="3.3" fill="#FF800F"/>
<circle cx="540.6" cy="720.7" r="3.3" fill="#FF800F"/>
<circle cx="547" cy="731.5" r="3.3" fill="#FF800F"/>
<circle cx="114.5" cy="748.2" r="3.3" fill="#FF1400"/>
<circle cx="138.4" cy="751.5" r="3.3" fill="#C48AC0"/>
<circle cx="181" cy="753" r="3.3" fill="#FF800F"/>
<circle cx="350.8" cy="775.4" r="3.3" fill="#FF4A0C"/>
<circle cx="110.2" cy="796.5" r="3.3" fill="#FF1400"/>
<circle cx="221" cy="795.7" r="3.3" fill="#FF800F"/>
<circle cx="308.5" cy="798.2" r="3.3" fill="#FF800F"/>
<circle cx="311.2" cy="796.6" r="3.3" fill="#FF800F"/>
<circle cx="377.9" cy="791.2" r="3.3" fill="#FF4A0C"/>
<circle cx="417" cy="788.5" r="3.3" fill="#FF800F"/>
<circle cx="446.7" cy="788.5" r="3.3" fill="#FFC200"/>
<circle cx="473.9" cy="792.3" r="3.3" fill="#FF4A0C"/>
<circle cx="533.5" cy="785.7" r="3.3" fill="#FFE400"/>
<circle cx="540.6" cy="789.5" r="3.3" fill="#FFE400"/>
<circle cx="97.6" cy="814.3" r="3.3" fill="#FF4A0C"/>
<circle cx="208.5" cy="818.7" r="3.3" fill="#FF4A0C"/>
<circle cx="166.6" cy="831" r="3.3" fill="#FF4A0C"/>
<circle cx="184.5" cy="833.7" r="3.3" fill="#FF800F"/>
<circle cx="203.9" cy="833.7" r="3.3" fill="#FF4A0C"/>
<circle cx="204.3" cy="833.5" r="3.3" fill="#FF4A0C"/>
<circle cx="222.8" cy="836.2" r="3.3" fill="#FF800F"/>
<circle cx="328.5" cy="838.4" r="3.3" fill="#FF800F"/>
<circle cx="136" cy="839" r="3.3" fill="#FFC200"/>
<circle cx="119.1" cy="835.8" r="3.3" fill="#C48AC0"/>
<circle cx="92.8" cy="832.7" r="3.3" fill="#8F6FD8"/>
<circle cx="171.8" cy="860.7" r="3.3" fill="#C48AC0"/>
<circle cx="223.3" cy="862.8" r="3.3" fill="#FFE400"/>
<circle cx="122.3" cy="882.9" r="3.3" fill="#8F6FD8"/>
<circle cx="236.9" cy="881.7" r="3.3" fill="#FF800F"/>
<circle cx="379" cy="884.4" r="3.3" fill="#FFC200"/>
<circle cx="458.6" cy="882.8" r="3.3" fill="#FFC200"/>
<circle cx="485.4" cy="874.8" r="3.3" fill="#FFE400"/>
<circle cx="514.9" cy="868" r="3.3" fill="#FFE400"/>
<circle cx="537.4" cy="836.4" r="3.3" fill="#FFE400"/>
<circle cx="539.5" cy="851" r="3.3" fill="#FFE400"/>
<circle cx="521.2" cy="859.6" r="3.3" fill="#FFE400"/>
<circle cx="547.5" cy="818" r="3.3" fill="#FFE400"/>
<circle cx="547.5" cy="825" r="3.3" fill="#FFE400"/>
<circle cx="547.5" cy="832" r="3.3" fill="#FFE400"/>
<circle cx="547.5" cy="839" r="3.3" fill="#FFE400"/>
<circle cx="547.5" cy="846" r="3.3" fill="#FFE400"/>
<circle cx="547.5" cy="853" r="3.3" fill="#FFE400"/>
<circle cx="547.5" cy="860" r="3.3" fill="#FFE400"/>
<circle cx="547.5" cy="867" r="3.3" fill="#FFE400"/>
<circle cx="547.5" cy="874" r="3.3" fill="#FFE400"/>
<circle cx="547.5" cy="880" r="3.3" fill="#FFE400"/>
<circle cx="544" cy="856" r="3.3" fill="#FFE400"/>
<circle cx="543" cy="866" r="3.3" fill="#FFE400"/>
</g>
<text x="25.3" y="18.8" font-size="21.10" textLength="616.0" lengthAdjust="spacingAndGlyphs" fill="#000" stroke="#000" stroke-width="0.3">Areas selected as Home Ranges by Resident Jaguars (HRs = 48)</text>
<text x="20.7" y="62.0" font-size="25.00" fill="#000" stroke="#000" stroke-width="0.3">Year</text>
<text x="69.0" y="97.4" font-size="21.70" text-anchor="end" fill="#000" stroke="#000" stroke-width="0.3">2005</text>
<text x="71.0" y="562.7" font-size="21.70" text-anchor="end" fill="#000" stroke="#000" stroke-width="0.3">2005</text>
<text x="69.0" y="118.9" font-size="21.70" text-anchor="end" fill="#000" stroke="#000" stroke-width="0.3">2006</text>
<text x="71.0" y="584.3" font-size="21.70" text-anchor="end" fill="#000" stroke="#000" stroke-width="0.3">2006</text>
<text x="69.0" y="140.5" font-size="21.70" text-anchor="end" fill="#000" stroke="#000" stroke-width="0.3">2007</text>
<text x="71.0" y="606.0" font-size="21.70" text-anchor="end" fill="#000" stroke="#000" stroke-width="0.3">2007</text>
<text x="69.0" y="162.0" font-size="21.70" text-anchor="end" fill="#000" stroke="#000" stroke-width="0.3">2008</text>
<text x="71.0" y="627.6" font-size="21.70" text-anchor="end" fill="#000" stroke="#000" stroke-width="0.3">2008</text>
<text x="69.0" y="183.5" font-size="21.70" text-anchor="end" fill="#000" stroke="#000" stroke-width="0.3">2009</text>
<text x="71.0" y="649.2" font-size="21.70" text-anchor="end" fill="#000" stroke="#000" stroke-width="0.3">2009</text>
<text x="69.0" y="205.1" font-size="21.70" text-anchor="end" fill="#000" stroke="#000" stroke-width="0.3">2010</text>
<text x="71.0" y="670.9" font-size="21.70" text-anchor="end" fill="#000" stroke="#000" stroke-width="0.3">2010</text>
<text x="69.0" y="226.6" font-size="21.70" text-anchor="end" fill="#000" stroke="#000" stroke-width="0.3">2011</text>
<text x="71.0" y="692.5" font-size="21.70" text-anchor="end" fill="#000" stroke="#000" stroke-width="0.3">2011</text>
<text x="69.0" y="248.1" font-size="21.70" text-anchor="end" fill="#000" stroke="#000" stroke-width="0.3">2012</text>
<text x="71.0" y="714.1" font-size="21.70" text-anchor="end" fill="#000" stroke="#000" stroke-width="0.3">2012</text>
<text x="69.0" y="269.6" font-size="21.70" text-anchor="end" fill="#000" stroke="#000" stroke-width="0.3">2013</text>
<text x="71.0" y="735.7" font-size="21.70" text-anchor="end" fill="#000" stroke="#000" stroke-width="0.3">2013</text>
<text x="69.0" y="291.2" font-size="21.70" text-anchor="end" fill="#000" stroke="#000" stroke-width="0.3">2014</text>
<text x="71.0" y="757.4" font-size="21.70" text-anchor="end" fill="#000" stroke="#000" stroke-width="0.3">2014</text>
<text x="69.0" y="312.7" font-size="21.70" text-anchor="end" fill="#000" stroke="#000" stroke-width="0.3">2015</text>
<text x="71.0" y="779.0" font-size="21.70" text-anchor="end" fill="#000" stroke="#000" stroke-width="0.3">2015</text>
<text x="69.0" y="334.2" font-size="21.70" text-anchor="end" fill="#000" stroke="#000" stroke-width="0.3">2016</text>
<text x="71.0" y="800.6" font-size="21.70" text-anchor="end" fill="#000" stroke="#000" stroke-width="0.3">2016</text>
<text x="69.0" y="355.8" font-size="21.70" text-anchor="end" fill="#000" stroke="#000" stroke-width="0.3">2017</text>
<text x="71.0" y="822.3" font-size="21.70" text-anchor="end" fill="#000" stroke="#000" stroke-width="0.3">2017</text>
<text x="69.0" y="377.3" font-size="21.70" text-anchor="end" fill="#000" stroke="#000" stroke-width="0.3">2018</text>
<text x="71.0" y="843.9" font-size="21.70" text-anchor="end" fill="#000" stroke="#000" stroke-width="0.3">2018</text>
<text x="69.0" y="398.8" font-size="21.70" text-anchor="end" fill="#000" stroke="#000" stroke-width="0.3">2019</text>
<text x="71.0" y="865.5" font-size="21.70" text-anchor="end" fill="#000" stroke="#000" stroke-width="0.3">2019</text>
<text x="69.0" y="420.4" font-size="21.70" text-anchor="end" fill="#000" stroke="#000" stroke-width="0.3">2020</text>
<text x="71.0" y="887.2" font-size="21.70" text-anchor="end" fill="#000" stroke="#000" stroke-width="0.3">2020</text>
<text x="80.8" y="450.3" font-size="21.00" text-anchor="middle" fill="#000" stroke="#000" stroke-width="0.3">0</text>
<text x="198.0" y="450.3" font-size="21.00" text-anchor="middle" fill="#000" stroke="#000" stroke-width="0.3">25</text>
<text x="314.0" y="450.3" font-size="21.00" text-anchor="middle" fill="#000" stroke="#000" stroke-width="0.3">50</text>
<text x="430.0" y="450.3" font-size="21.00" text-anchor="middle" fill="#000" stroke="#000" stroke-width="0.3">75</text>
<text x="546.4" y="450.3" font-size="21.00" text-anchor="middle" fill="#000" stroke="#000" stroke-width="0.3">100</text>
<text x="81.9" y="915.8" font-size="21.00" text-anchor="middle" fill="#000" stroke="#000" stroke-width="0.3">0</text>
<text x="199.2" y="915.8" font-size="21.00" text-anchor="middle" fill="#000" stroke="#000" stroke-width="0.3">25</text>
<text x="315.2" y="915.8" font-size="21.00" text-anchor="middle" fill="#000" stroke="#000" stroke-width="0.3">50</text>
<text x="432.0" y="915.8" font-size="21.00" text-anchor="middle" fill="#000" stroke="#000" stroke-width="0.3">75</text>
<text x="548.0" y="915.8" font-size="21.00" text-anchor="middle" fill="#000" stroke="#000" stroke-width="0.3">100</text>
<text x="-0.8" y="472.8" font-size="25.50" font-weight="bold" fill="#000" stroke="#000" stroke-width="0.3">a</text>
<text x="24.5" y="471.5" font-size="23.80" textLength="596.0" lengthAdjust="spacingAndGlyphs" fill="#000" stroke="#000" stroke-width="0.3">% of areas selected as HRs by individual jaguars burned</text>
<text x="-1.8" y="940.5" font-size="25.60" font-weight="bold" fill="#000" stroke="#000" stroke-width="0.3">b</text>
<text x="62.9" y="939.5" font-size="23.80" textLength="491.0" lengthAdjust="spacingAndGlyphs" fill="#000" stroke="#000" stroke-width="0.3">% of PAs burned within areas selected as HRs</text>
<text x="457.7" y="71.4" font-size="24.40" textLength="205.0" lengthAdjust="spacingAndGlyphs" fill="#000" stroke="#000" stroke-width="0.3">Fire Brightness (K)</text>
<text x="578.8" y="356.6" font-size="24.20" textLength="77.0" lengthAdjust="spacingAndGlyphs" fill="#000" stroke="#000" stroke-width="0.3">Region</text>
<text x="577.8" y="820.8" font-size="24.20" textLength="77.0" lengthAdjust="spacingAndGlyphs" fill="#000" stroke="#000" stroke-width="0.3">Region</text>
<text x="616.2" y="391.6" font-size="19.80" fill="#000" stroke="#000" stroke-width="0.3">N</text>
<text x="616.5" y="416.6" font-size="19.80" fill="#000" stroke="#000" stroke-width="0.3">S</text>
<text x="615.1" y="855.6" font-size="19.80" fill="#000" stroke="#000" stroke-width="0.3">N</text>
<text x="615.4" y="880.6" font-size="19.80" fill="#000" stroke="#000" stroke-width="0.3">S</text>
<rect x="582" y="91.7" width="21.2" height="20.3" fill="#BEBEBE"/>
<circle cx="592.6" cy="101.9" r="3.7" fill="#FF0000"/>
<text x="617.0" y="109.3" font-size="21.00" fill="#000" stroke="#000" stroke-width="0.3">0</text>
<rect x="582" y="117.2" width="21.2" height="20.3" fill="#BEBEBE"/>
<circle cx="592.6" cy="127.4" r="3.7" fill="#FF6A00"/>
<text x="617.0" y="134.8" font-size="21.00" fill="#000" stroke="#000" stroke-width="0.3">100</text>
<rect x="582" y="142.4" width="21.2" height="20.3" fill="#BEBEBE"/>
<circle cx="592.6" cy="152.6" r="3.7" fill="#FF8C00"/>
<text x="617.0" y="160.0" font-size="21.00" fill="#000" stroke="#000" stroke-width="0.3">200</text>
<rect x="582" y="168.2" width="21.2" height="20.3" fill="#BEBEBE"/>
<circle cx="592.6" cy="178.3" r="3.7" fill="#FFC400"/>
<text x="617.0" y="185.8" font-size="21.00" fill="#000" stroke="#000" stroke-width="0.3">300</text>
<rect x="582" y="193.6" width="21.2" height="20.3" fill="#BEBEBE"/>
<circle cx="592.6" cy="203.8" r="3.7" fill="#FFFF00"/>
<text x="617.0" y="211.2" font-size="21.00" fill="#000" stroke="#000" stroke-width="0.3">400</text>
<rect x="581" y="373.6" width="21.3" height="20.4" fill="#F7B7D3"/>
<rect x="581" y="399.1" width="21.3" height="20.4" fill="#D2F8EE"/>
<rect x="580.2" y="837.5" width="21.2" height="20.5" fill="#636363"/>
<rect x="580.2" y="863" width="21.2" height="20.5" fill="#AAAAF8"/>
<line x1="80.8" y1="423" x2="80.8" y2="429.3" stroke="#333" stroke-width="1.8"/>
<line x1="198.0" y1="423" x2="198.0" y2="429.3" stroke="#333" stroke-width="1.8"/>
<line x1="314.0" y1="423" x2="314.0" y2="429.3" stroke="#333" stroke-width="1.8"/>
<line x1="430.0" y1="423" x2="430.0" y2="429.3" stroke="#333" stroke-width="1.8"/>
<line x1="546.4" y1="423" x2="546.4" y2="429.3" stroke="#333" stroke-width="1.8"/>
<line x1="81.9" y1="888.5" x2="81.9" y2="894" stroke="#333" stroke-width="1.8"/>
<line x1="199.2" y1="888.5" x2="199.2" y2="894" stroke="#333" stroke-width="1.8"/>
<line x1="315.2" y1="888.5" x2="315.2" y2="894" stroke="#333" stroke-width="1.8"/>
<line x1="432.0" y1="888.5" x2="432.0" y2="894" stroke="#333" stroke-width="1.8"/>
<line x1="548.0" y1="888.5" x2="548.0" y2="894" stroke="#333" stroke-width="1.8"/>
</svg></body></html>
